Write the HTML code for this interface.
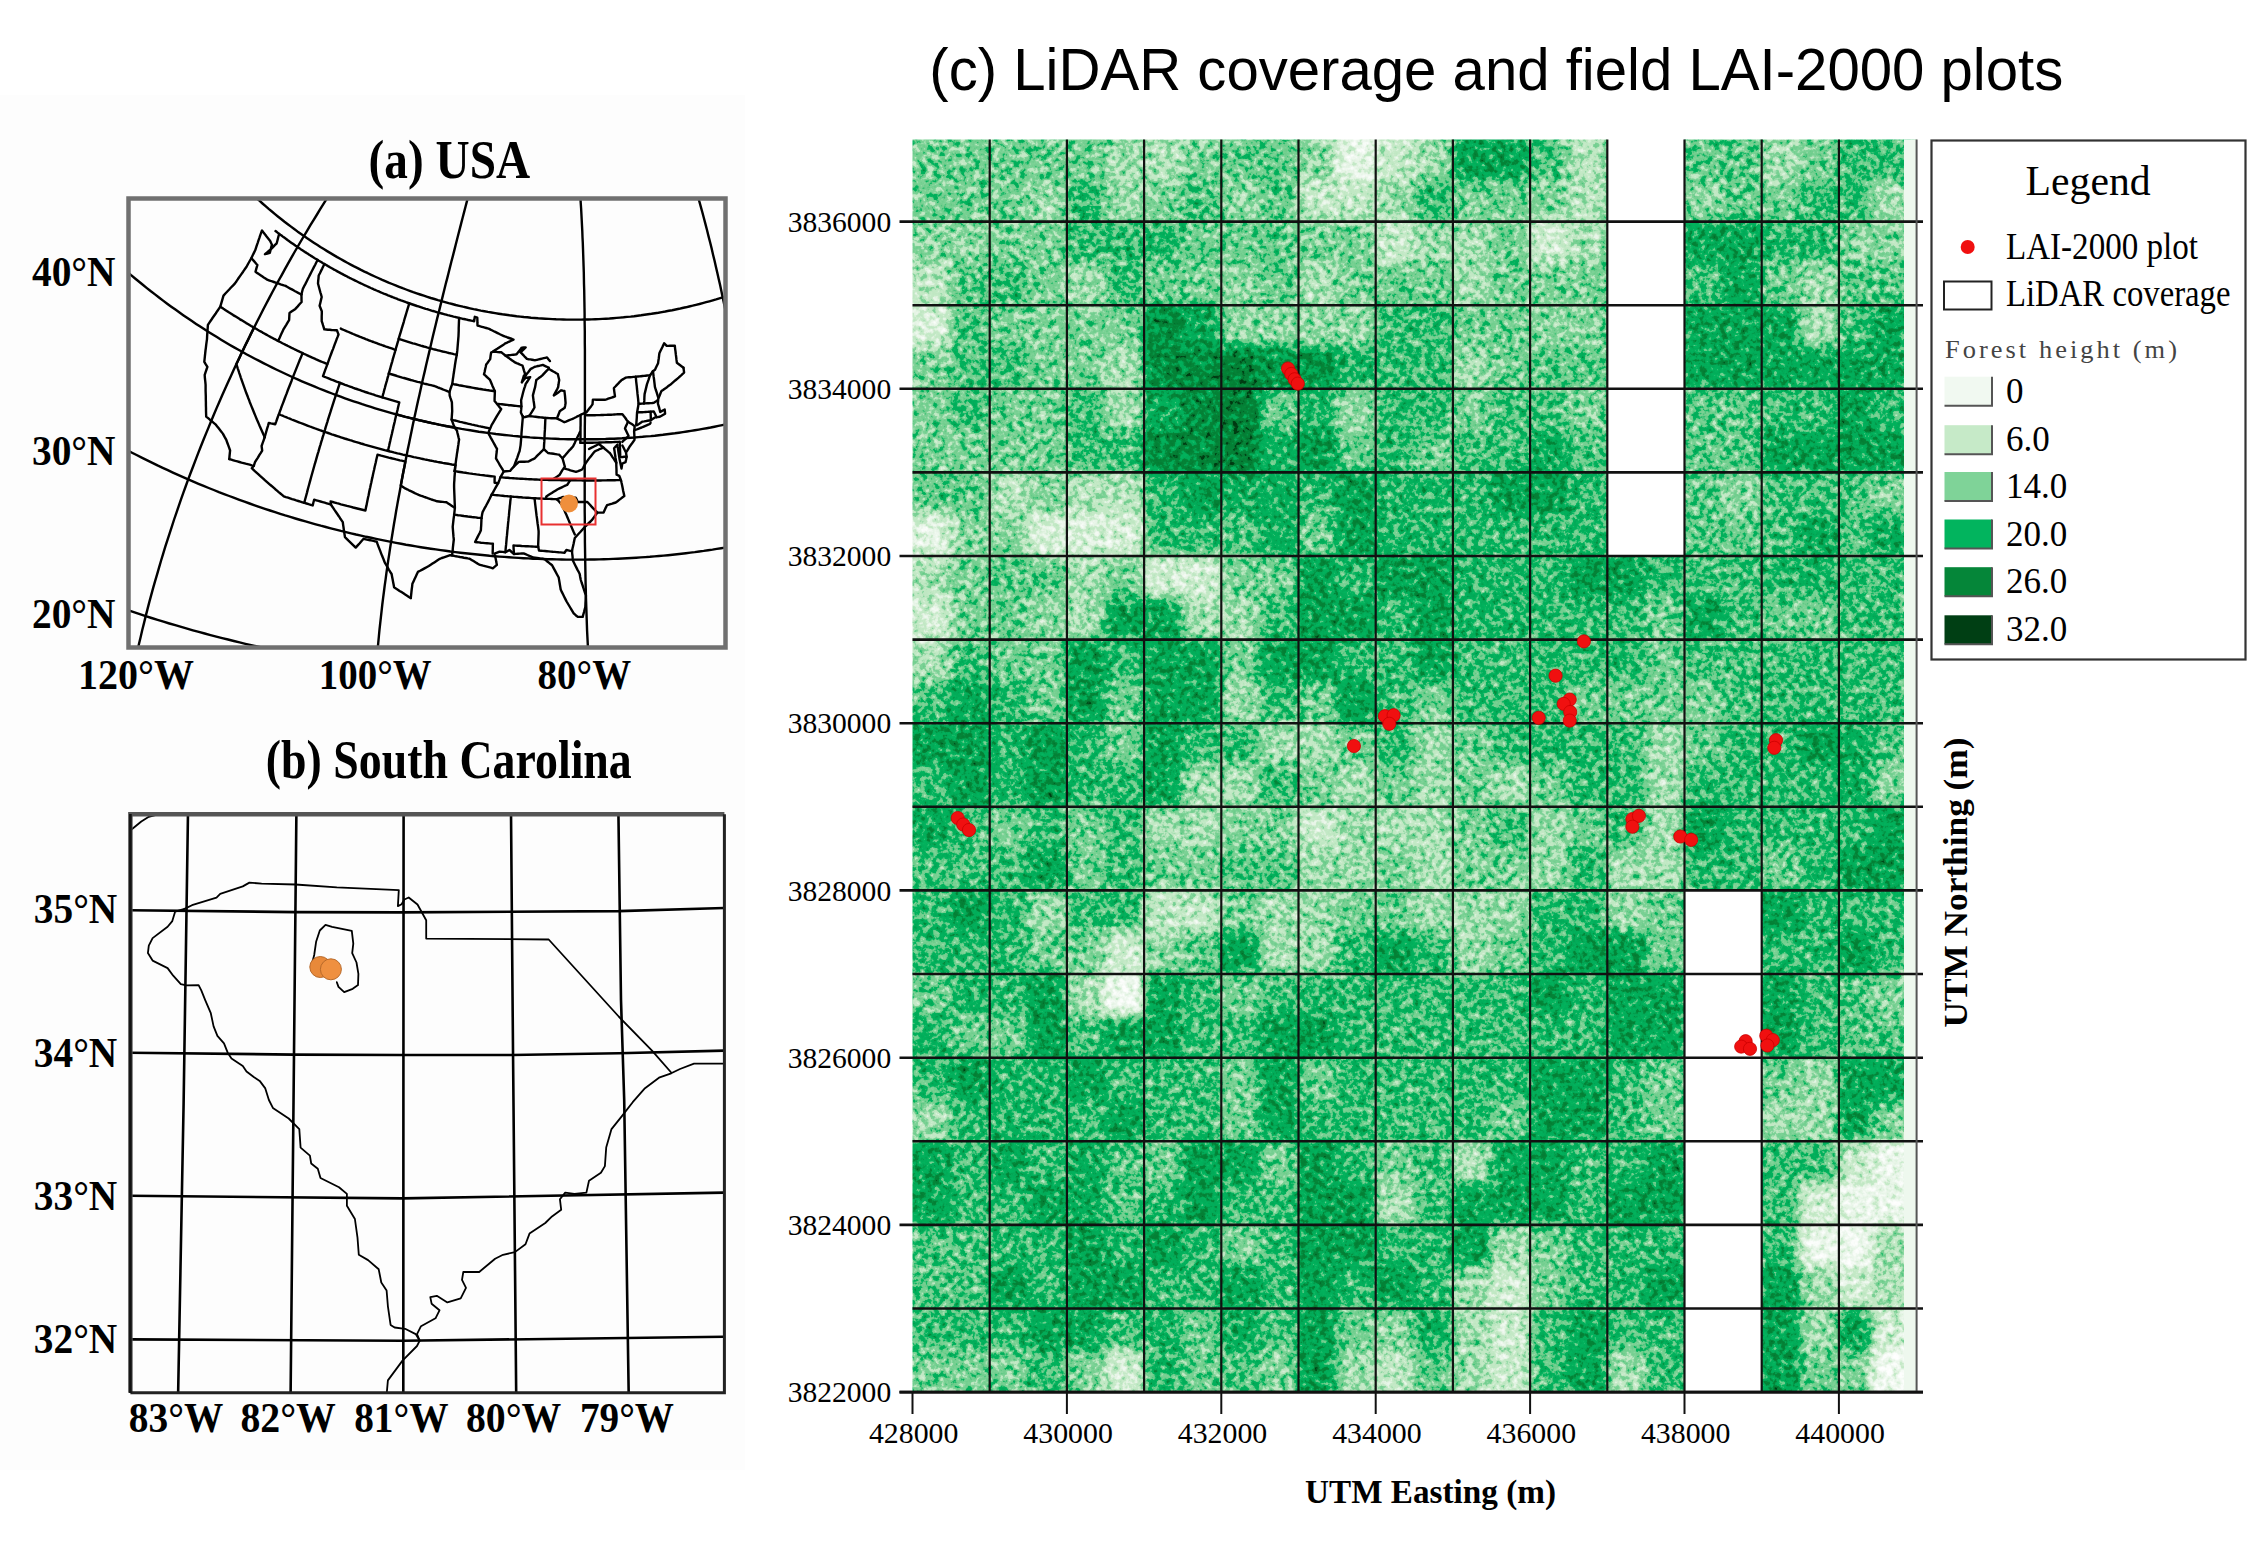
<!DOCTYPE html><html><head><meta charset="utf-8"><title>LiDAR coverage</title><style>html,body{margin:0;padding:0;background:#fff;}body{width:2268px;height:1543px;position:relative;overflow:hidden;}</style></head><body><svg width="2268" height="1543" viewBox="0 0 2268 1543" style="position:absolute;left:0;top:0">
<rect x="0" y="95" width="745" height="1375" fill="#fdfdfd"/>
<defs><filter id="bl" x="-0.05" y="-0.05" width="1.1" height="1.1" color-interpolation-filters="sRGB"><feGaussianBlur stdDeviation="6"/></filter><filter id="tx" filterUnits="userSpaceOnUse" x="882.5" y="109.4" width="1064.1" height="1312.6999999999998" color-interpolation-filters="sRGB"><feTurbulence type="fractalNoise" baseFrequency="0.15" numOctaves="3" seed="7" result="n"/><feColorMatrix in="n" type="matrix" values="1 0 0 0 0  1 0 0 0 0  1 0 0 0 0  0 0 0 0 1" result="ng"/><feComposite in="SourceGraphic" in2="ng" operator="arithmetic" k1="0" k2="1" k3="0.6" k4="-0.3" result="s"/><feComponentTransfer in="s"><feFuncR type="table" tableValues="1.0000 0.9969 0.9938 0.9907 0.9876 0.9844 0.9813 0.9739 0.9645 0.9552 0.9458 0.9365 0.9272 0.9178 0.9085 0.8992 0.8898 0.8683 0.8392 0.8102 0.7811 0.7712 0.7650 0.7588 0.7526 0.7463 0.6928 0.6275 0.5621 0.4978 0.4845 0.4713 0.4581 0.4449 0.4316 0.3216 0.2095 0.0975 0.0080 0.0086 0.0092 0.0098 0.0105 0.0111 0.0117 0.0136 0.0157 0.0178 0.0196 0.0196 0.0196 0.0196 0.0196 0.0196 0.0196 0.0154 0.0102 0.0050 0.0000 0.0000 0.0000 0.0000 0.0000 0.0000"/><feFuncG type="table" tableValues="1.0000 0.9988 0.9975 0.9963 0.9950 0.9938 0.9925 0.9893 0.9851 0.9810 0.9768 0.9730 0.9693 0.9656 0.9618 0.9581 0.9544 0.9472 0.9378 0.9285 0.9191 0.9157 0.9134 0.9110 0.9087 0.9063 0.8893 0.8685 0.8478 0.8274 0.8227 0.8180 0.8134 0.8087 0.8040 0.7785 0.7526 0.7266 0.7046 0.6984 0.6922 0.6860 0.6797 0.6735 0.6673 0.6331 0.5957 0.5584 0.5248 0.5192 0.5136 0.5080 0.5024 0.4968 0.4912 0.4375 0.3731 0.3088 0.2468 0.2406 0.2344 0.2281 0.2219 0.2157"/><feFuncB type="table" tableValues="1.0000 0.9969 0.9938 0.9907 0.9876 0.9844 0.9813 0.9739 0.9645 0.9552 0.9458 0.9365 0.9272 0.9178 0.9085 0.8992 0.8898 0.8696 0.8426 0.8156 0.7886 0.7804 0.7757 0.7711 0.7664 0.7617 0.7259 0.6824 0.6388 0.5959 0.5866 0.5772 0.5679 0.5585 0.5492 0.5023 0.4545 0.4068 0.3679 0.3641 0.3604 0.3567 0.3529 0.3492 0.3455 0.3162 0.2840 0.2518 0.2232 0.2200 0.2169 0.2138 0.2107 0.2076 0.2045 0.1767 0.1435 0.1103 0.0784 0.0768 0.0753 0.0737 0.0721 0.0706"/><feFuncA type="linear" slope="0" intercept="1"/></feComponentTransfer></filter><clipPath id="mapclip"><rect x="912.5" y="139.4" width="1004.0999999999999" height="1252.6999999999998"/></clipPath></defs>
<g clip-path="url(#mapclip)"><g filter="url(#tx)"><g filter="url(#bl)">
<rect x="887.0" y="113.9" width="64.6" height="67.1" fill="#808080"/>
<rect x="950.6" y="113.9" width="39.6" height="67.1" fill="#808080"/>
<rect x="887.0" y="180.0" width="64.6" height="42.1" fill="#808080"/>
<rect x="950.6" y="180.0" width="39.6" height="42.1" fill="#808080"/>
<rect x="989.2" y="113.9" width="39.6" height="67.1" fill="#818181"/>
<rect x="1027.8" y="113.9" width="39.6" height="67.1" fill="#818181"/>
<rect x="989.2" y="180.0" width="39.6" height="42.1" fill="#818181"/>
<rect x="1027.8" y="180.0" width="39.6" height="42.1" fill="#707070"/>
<rect x="1066.4" y="113.9" width="39.6" height="67.1" fill="#818181"/>
<rect x="1105.0" y="113.9" width="39.6" height="67.1" fill="#6f6f6f"/>
<rect x="1066.4" y="180.0" width="39.6" height="42.1" fill="#969696"/>
<rect x="1105.0" y="180.0" width="39.6" height="42.1" fill="#6f6f6f"/>
<rect x="1143.6" y="113.9" width="39.6" height="67.1" fill="#666666"/>
<rect x="1182.2" y="113.9" width="39.6" height="67.1" fill="#7b7b7b"/>
<rect x="1143.6" y="180.0" width="39.6" height="42.1" fill="#7b7b7b"/>
<rect x="1182.2" y="180.0" width="39.6" height="42.1" fill="#8d8d8d"/>
<rect x="1220.8" y="113.9" width="39.6" height="67.1" fill="#868686"/>
<rect x="1259.4" y="113.9" width="39.6" height="67.1" fill="#868686"/>
<rect x="1220.8" y="180.0" width="39.6" height="42.1" fill="#747474"/>
<rect x="1259.4" y="180.0" width="39.6" height="42.1" fill="#868686"/>
<rect x="1298.0" y="113.9" width="39.6" height="67.1" fill="#727272"/>
<rect x="1336.6" y="113.9" width="39.6" height="67.1" fill="#393939"/>
<rect x="1298.0" y="180.0" width="39.6" height="42.1" fill="#595959"/>
<rect x="1336.6" y="180.0" width="39.6" height="42.1" fill="#595959"/>
<rect x="1375.2" y="113.9" width="39.6" height="67.1" fill="#565656"/>
<rect x="1413.8" y="113.9" width="39.6" height="67.1" fill="#6f6f6f"/>
<rect x="1375.2" y="180.0" width="39.6" height="42.1" fill="#6f6f6f"/>
<rect x="1413.8" y="180.0" width="39.6" height="42.1" fill="#969696"/>
<rect x="1452.4" y="113.9" width="39.6" height="67.1" fill="#aeaeae"/>
<rect x="1491.0" y="113.9" width="39.6" height="67.1" fill="#aeaeae"/>
<rect x="1452.4" y="180.0" width="39.6" height="42.1" fill="#7f7f7f"/>
<rect x="1491.0" y="180.0" width="39.6" height="42.1" fill="#7f7f7f"/>
<rect x="1529.6" y="113.9" width="39.6" height="67.1" fill="#8b8b8b"/>
<rect x="1568.2" y="113.9" width="39.6" height="67.1" fill="#636363"/>
<rect x="1529.6" y="180.0" width="39.6" height="42.1" fill="#797979"/>
<rect x="1568.2" y="180.0" width="39.6" height="42.1" fill="#636363"/>
<rect x="1606.8" y="113.9" width="39.6" height="67.1" fill="#939393"/>
<rect x="1645.4" y="113.9" width="39.6" height="67.1" fill="#939393"/>
<rect x="1606.8" y="180.0" width="39.6" height="42.1" fill="#939393"/>
<rect x="1645.4" y="180.0" width="39.6" height="42.1" fill="#939393"/>
<rect x="1684.0" y="113.9" width="39.6" height="67.1" fill="#878787"/>
<rect x="1722.6" y="113.9" width="39.6" height="67.1" fill="#878787"/>
<rect x="1684.0" y="180.0" width="39.6" height="42.1" fill="#757575"/>
<rect x="1722.6" y="180.0" width="39.6" height="42.1" fill="#878787"/>
<rect x="1761.2" y="113.9" width="39.6" height="67.1" fill="#6c6c6c"/>
<rect x="1799.8" y="113.9" width="39.6" height="67.1" fill="#7f7f7f"/>
<rect x="1761.2" y="180.0" width="39.6" height="42.1" fill="#7f7f7f"/>
<rect x="1799.8" y="180.0" width="39.6" height="42.1" fill="#939393"/>
<rect x="1838.4" y="113.9" width="34.0" height="67.1" fill="#939393"/>
<rect x="1871.5" y="113.9" width="59.0" height="67.1" fill="#939393"/>
<rect x="1838.4" y="180.0" width="34.0" height="42.1" fill="#939393"/>
<rect x="1871.5" y="180.0" width="59.0" height="42.1" fill="#6c6c6c"/>
<rect x="887.0" y="221.1" width="64.6" height="42.8" fill="#777777"/>
<rect x="950.6" y="221.1" width="39.6" height="42.8" fill="#777777"/>
<rect x="887.0" y="262.9" width="64.6" height="42.8" fill="#5f5f5f"/>
<rect x="950.6" y="262.9" width="39.6" height="42.8" fill="#888888"/>
<rect x="989.2" y="221.1" width="39.6" height="42.8" fill="#7d7d7d"/>
<rect x="1027.8" y="221.1" width="39.6" height="42.8" fill="#7d7d7d"/>
<rect x="989.2" y="262.9" width="39.6" height="42.8" fill="#909090"/>
<rect x="1027.8" y="262.9" width="39.6" height="42.8" fill="#7d7d7d"/>
<rect x="1066.4" y="221.1" width="39.6" height="42.8" fill="#939393"/>
<rect x="1105.0" y="221.1" width="39.6" height="42.8" fill="#939393"/>
<rect x="1066.4" y="262.9" width="39.6" height="42.8" fill="#6c6c6c"/>
<rect x="1105.0" y="262.9" width="39.6" height="42.8" fill="#939393"/>
<rect x="1143.6" y="221.1" width="39.6" height="42.8" fill="#969696"/>
<rect x="1182.2" y="221.1" width="39.6" height="42.8" fill="#818181"/>
<rect x="1143.6" y="262.9" width="39.6" height="42.8" fill="#818181"/>
<rect x="1182.2" y="262.9" width="39.6" height="42.8" fill="#818181"/>
<rect x="1220.8" y="221.1" width="39.6" height="42.8" fill="#868686"/>
<rect x="1259.4" y="221.1" width="39.6" height="42.8" fill="#868686"/>
<rect x="1220.8" y="262.9" width="39.6" height="42.8" fill="#747474"/>
<rect x="1259.4" y="262.9" width="39.6" height="42.8" fill="#868686"/>
<rect x="1298.0" y="221.1" width="39.6" height="42.8" fill="#7d7d7d"/>
<rect x="1336.6" y="221.1" width="39.6" height="42.8" fill="#7d7d7d"/>
<rect x="1298.0" y="262.9" width="39.6" height="42.8" fill="#696969"/>
<rect x="1336.6" y="262.9" width="39.6" height="42.8" fill="#7d7d7d"/>
<rect x="1375.2" y="221.1" width="39.6" height="42.8" fill="#565656"/>
<rect x="1413.8" y="221.1" width="39.6" height="42.8" fill="#6f6f6f"/>
<rect x="1375.2" y="262.9" width="39.6" height="42.8" fill="#818181"/>
<rect x="1413.8" y="262.9" width="39.6" height="42.8" fill="#818181"/>
<rect x="1452.4" y="221.1" width="39.6" height="42.8" fill="#6c6c6c"/>
<rect x="1491.0" y="221.1" width="39.6" height="42.8" fill="#7f7f7f"/>
<rect x="1452.4" y="262.9" width="39.6" height="42.8" fill="#6c6c6c"/>
<rect x="1491.0" y="262.9" width="39.6" height="42.8" fill="#7f7f7f"/>
<rect x="1529.6" y="221.1" width="39.6" height="42.8" fill="#4e4e4e"/>
<rect x="1568.2" y="221.1" width="39.6" height="42.8" fill="#696969"/>
<rect x="1529.6" y="262.9" width="39.6" height="42.8" fill="#7d7d7d"/>
<rect x="1568.2" y="262.9" width="39.6" height="42.8" fill="#7d7d7d"/>
<rect x="1606.8" y="221.1" width="39.6" height="42.8" fill="#939393"/>
<rect x="1645.4" y="221.1" width="39.6" height="42.8" fill="#939393"/>
<rect x="1606.8" y="262.9" width="39.6" height="42.8" fill="#939393"/>
<rect x="1645.4" y="262.9" width="39.6" height="42.8" fill="#939393"/>
<rect x="1684.0" y="221.1" width="39.6" height="42.8" fill="#ababab"/>
<rect x="1722.6" y="221.1" width="39.6" height="42.8" fill="#ababab"/>
<rect x="1684.0" y="262.9" width="39.6" height="42.8" fill="#909090"/>
<rect x="1722.6" y="262.9" width="39.6" height="42.8" fill="#ababab"/>
<rect x="1761.2" y="221.1" width="39.6" height="42.8" fill="#969696"/>
<rect x="1799.8" y="221.1" width="39.6" height="42.8" fill="#969696"/>
<rect x="1761.2" y="262.9" width="39.6" height="42.8" fill="#818181"/>
<rect x="1799.8" y="262.9" width="39.6" height="42.8" fill="#6f6f6f"/>
<rect x="1838.4" y="221.1" width="34.0" height="42.8" fill="#777777"/>
<rect x="1871.5" y="221.1" width="59.0" height="42.8" fill="#777777"/>
<rect x="1838.4" y="262.9" width="34.0" height="42.8" fill="#888888"/>
<rect x="1871.5" y="262.9" width="59.0" height="42.8" fill="#888888"/>
<rect x="887.0" y="304.7" width="64.6" height="42.8" fill="#4a4a4a"/>
<rect x="950.6" y="304.7" width="39.6" height="42.8" fill="#8d8d8d"/>
<rect x="887.0" y="346.5" width="64.6" height="42.8" fill="#7b7b7b"/>
<rect x="950.6" y="346.5" width="39.6" height="42.8" fill="#8d8d8d"/>
<rect x="989.2" y="304.7" width="39.6" height="42.8" fill="#7d7d7d"/>
<rect x="1027.8" y="304.7" width="39.6" height="42.8" fill="#7d7d7d"/>
<rect x="989.2" y="346.5" width="39.6" height="42.8" fill="#909090"/>
<rect x="1027.8" y="346.5" width="39.6" height="42.8" fill="#7d7d7d"/>
<rect x="1066.4" y="304.7" width="39.6" height="42.8" fill="#7d7d7d"/>
<rect x="1105.0" y="304.7" width="39.6" height="42.8" fill="#7d7d7d"/>
<rect x="1066.4" y="346.5" width="39.6" height="42.8" fill="#7d7d7d"/>
<rect x="1105.0" y="346.5" width="39.6" height="42.8" fill="#696969"/>
<rect x="1143.6" y="304.7" width="39.6" height="42.8" fill="#c3c3c3"/>
<rect x="1182.2" y="304.7" width="39.6" height="42.8" fill="#ababab"/>
<rect x="1143.6" y="346.5" width="39.6" height="42.8" fill="#c3c3c3"/>
<rect x="1182.2" y="346.5" width="39.6" height="42.8" fill="#c3c3c3"/>
<rect x="1220.8" y="304.7" width="39.6" height="42.8" fill="#747474"/>
<rect x="1259.4" y="304.7" width="39.6" height="42.8" fill="#747474"/>
<rect x="1220.8" y="346.5" width="39.6" height="42.8" fill="#cecece"/>
<rect x="1259.4" y="346.5" width="39.6" height="42.8" fill="#b9b9b9"/>
<rect x="1298.0" y="304.7" width="39.6" height="42.8" fill="#747474"/>
<rect x="1336.6" y="304.7" width="39.6" height="42.8" fill="#747474"/>
<rect x="1298.0" y="346.5" width="39.6" height="42.8" fill="#b9b9b9"/>
<rect x="1336.6" y="346.5" width="39.6" height="42.8" fill="#9d9d9d"/>
<rect x="1375.2" y="304.7" width="39.6" height="42.8" fill="#939393"/>
<rect x="1413.8" y="304.7" width="39.6" height="42.8" fill="#939393"/>
<rect x="1375.2" y="346.5" width="39.6" height="42.8" fill="#939393"/>
<rect x="1413.8" y="346.5" width="39.6" height="42.8" fill="#939393"/>
<rect x="1452.4" y="304.7" width="39.6" height="42.8" fill="#818181"/>
<rect x="1491.0" y="304.7" width="39.6" height="42.8" fill="#818181"/>
<rect x="1452.4" y="346.5" width="39.6" height="42.8" fill="#6f6f6f"/>
<rect x="1491.0" y="346.5" width="39.6" height="42.8" fill="#818181"/>
<rect x="1529.6" y="304.7" width="39.6" height="42.8" fill="#777777"/>
<rect x="1568.2" y="304.7" width="39.6" height="42.8" fill="#777777"/>
<rect x="1529.6" y="346.5" width="39.6" height="42.8" fill="#888888"/>
<rect x="1568.2" y="346.5" width="39.6" height="42.8" fill="#888888"/>
<rect x="1606.8" y="304.7" width="39.6" height="42.8" fill="#939393"/>
<rect x="1645.4" y="304.7" width="39.6" height="42.8" fill="#939393"/>
<rect x="1606.8" y="346.5" width="39.6" height="42.8" fill="#939393"/>
<rect x="1645.4" y="346.5" width="39.6" height="42.8" fill="#939393"/>
<rect x="1684.0" y="304.7" width="39.6" height="42.8" fill="#aeaeae"/>
<rect x="1722.6" y="304.7" width="39.6" height="42.8" fill="#aeaeae"/>
<rect x="1684.0" y="346.5" width="39.6" height="42.8" fill="#aeaeae"/>
<rect x="1722.6" y="346.5" width="39.6" height="42.8" fill="#aeaeae"/>
<rect x="1761.2" y="304.7" width="39.6" height="42.8" fill="#ababab"/>
<rect x="1799.8" y="304.7" width="39.6" height="42.8" fill="#696969"/>
<rect x="1761.2" y="346.5" width="39.6" height="42.8" fill="#ababab"/>
<rect x="1799.8" y="346.5" width="39.6" height="42.8" fill="#ababab"/>
<rect x="1838.4" y="304.7" width="34.0" height="42.8" fill="#909090"/>
<rect x="1871.5" y="304.7" width="59.0" height="42.8" fill="#ababab"/>
<rect x="1838.4" y="346.5" width="34.0" height="42.8" fill="#ababab"/>
<rect x="1871.5" y="346.5" width="59.0" height="42.8" fill="#ababab"/>
<rect x="887.0" y="388.3" width="64.6" height="42.8" fill="#7d7d7d"/>
<rect x="950.6" y="388.3" width="39.6" height="42.8" fill="#909090"/>
<rect x="887.0" y="430.1" width="64.6" height="42.8" fill="#7d7d7d"/>
<rect x="950.6" y="430.1" width="39.6" height="42.8" fill="#7d7d7d"/>
<rect x="989.2" y="388.3" width="39.6" height="42.8" fill="#7f7f7f"/>
<rect x="1027.8" y="388.3" width="39.6" height="42.8" fill="#7f7f7f"/>
<rect x="989.2" y="430.1" width="39.6" height="42.8" fill="#7f7f7f"/>
<rect x="1027.8" y="430.1" width="39.6" height="42.8" fill="#7f7f7f"/>
<rect x="1066.4" y="388.3" width="39.6" height="42.8" fill="#939393"/>
<rect x="1105.0" y="388.3" width="39.6" height="42.8" fill="#6c6c6c"/>
<rect x="1066.4" y="430.1" width="39.6" height="42.8" fill="#939393"/>
<rect x="1105.0" y="430.1" width="39.6" height="42.8" fill="#939393"/>
<rect x="1143.6" y="388.3" width="39.6" height="42.8" fill="#ababab"/>
<rect x="1182.2" y="388.3" width="39.6" height="42.8" fill="#c3c3c3"/>
<rect x="1143.6" y="430.1" width="39.6" height="42.8" fill="#c3c3c3"/>
<rect x="1182.2" y="430.1" width="39.6" height="42.8" fill="#c3c3c3"/>
<rect x="1220.8" y="388.3" width="39.6" height="42.8" fill="#cecece"/>
<rect x="1259.4" y="388.3" width="39.6" height="42.8" fill="#868686"/>
<rect x="1220.8" y="430.1" width="39.6" height="42.8" fill="#cecece"/>
<rect x="1259.4" y="430.1" width="39.6" height="42.8" fill="#9d9d9d"/>
<rect x="1298.0" y="388.3" width="39.6" height="42.8" fill="#9a9a9a"/>
<rect x="1336.6" y="388.3" width="39.6" height="42.8" fill="#727272"/>
<rect x="1298.0" y="430.1" width="39.6" height="42.8" fill="#b5b5b5"/>
<rect x="1336.6" y="430.1" width="39.6" height="42.8" fill="#838383"/>
<rect x="1375.2" y="388.3" width="39.6" height="42.8" fill="#969696"/>
<rect x="1413.8" y="388.3" width="39.6" height="42.8" fill="#969696"/>
<rect x="1375.2" y="430.1" width="39.6" height="42.8" fill="#969696"/>
<rect x="1413.8" y="430.1" width="39.6" height="42.8" fill="#818181"/>
<rect x="1452.4" y="388.3" width="39.6" height="42.8" fill="#7d7d7d"/>
<rect x="1491.0" y="388.3" width="39.6" height="42.8" fill="#909090"/>
<rect x="1452.4" y="430.1" width="39.6" height="42.8" fill="#909090"/>
<rect x="1491.0" y="430.1" width="39.6" height="42.8" fill="#909090"/>
<rect x="1529.6" y="388.3" width="39.6" height="42.8" fill="#8c8c8c"/>
<rect x="1568.2" y="388.3" width="39.6" height="42.8" fill="#7a7a7a"/>
<rect x="1529.6" y="430.1" width="39.6" height="42.8" fill="#a6a6a6"/>
<rect x="1568.2" y="430.1" width="39.6" height="42.8" fill="#8c8c8c"/>
<rect x="1606.8" y="388.3" width="39.6" height="42.8" fill="#939393"/>
<rect x="1645.4" y="388.3" width="39.6" height="42.8" fill="#939393"/>
<rect x="1606.8" y="430.1" width="39.6" height="42.8" fill="#939393"/>
<rect x="1645.4" y="430.1" width="39.6" height="42.8" fill="#939393"/>
<rect x="1684.0" y="388.3" width="39.6" height="42.8" fill="#888888"/>
<rect x="1722.6" y="388.3" width="39.6" height="42.8" fill="#888888"/>
<rect x="1684.0" y="430.1" width="39.6" height="42.8" fill="#888888"/>
<rect x="1722.6" y="430.1" width="39.6" height="42.8" fill="#888888"/>
<rect x="1761.2" y="388.3" width="39.6" height="42.8" fill="#939393"/>
<rect x="1799.8" y="388.3" width="39.6" height="42.8" fill="#939393"/>
<rect x="1761.2" y="430.1" width="39.6" height="42.8" fill="#aeaeae"/>
<rect x="1799.8" y="430.1" width="39.6" height="42.8" fill="#aeaeae"/>
<rect x="1838.4" y="388.3" width="34.0" height="42.8" fill="#b2b2b2"/>
<rect x="1871.5" y="388.3" width="59.0" height="42.8" fill="#969696"/>
<rect x="1838.4" y="430.1" width="34.0" height="42.8" fill="#b2b2b2"/>
<rect x="1871.5" y="430.1" width="59.0" height="42.8" fill="#b2b2b2"/>
<rect x="887.0" y="471.9" width="64.6" height="42.8" fill="#878787"/>
<rect x="950.6" y="471.9" width="39.6" height="42.8" fill="#878787"/>
<rect x="887.0" y="513.7" width="64.6" height="42.8" fill="#404040"/>
<rect x="950.6" y="513.7" width="39.6" height="42.8" fill="#767676"/>
<rect x="989.2" y="471.9" width="39.6" height="42.8" fill="#636363"/>
<rect x="1027.8" y="471.9" width="39.6" height="42.8" fill="#797979"/>
<rect x="989.2" y="513.7" width="39.6" height="42.8" fill="#797979"/>
<rect x="1027.8" y="513.7" width="39.6" height="42.8" fill="#464646"/>
<rect x="1066.4" y="471.9" width="39.6" height="42.8" fill="#646464"/>
<rect x="1105.0" y="471.9" width="39.6" height="42.8" fill="#646464"/>
<rect x="1066.4" y="513.7" width="39.6" height="42.8" fill="#484848"/>
<rect x="1105.0" y="513.7" width="39.6" height="42.8" fill="#484848"/>
<rect x="1143.6" y="471.9" width="39.6" height="42.8" fill="#969696"/>
<rect x="1182.2" y="471.9" width="39.6" height="42.8" fill="#b2b2b2"/>
<rect x="1143.6" y="513.7" width="39.6" height="42.8" fill="#969696"/>
<rect x="1182.2" y="513.7" width="39.6" height="42.8" fill="#969696"/>
<rect x="1220.8" y="471.9" width="39.6" height="42.8" fill="#a4a4a4"/>
<rect x="1259.4" y="471.9" width="39.6" height="42.8" fill="#a4a4a4"/>
<rect x="1220.8" y="513.7" width="39.6" height="42.8" fill="#8b8b8b"/>
<rect x="1259.4" y="513.7" width="39.6" height="42.8" fill="#a4a4a4"/>
<rect x="1298.0" y="471.9" width="39.6" height="42.8" fill="#969696"/>
<rect x="1336.6" y="471.9" width="39.6" height="42.8" fill="#b2b2b2"/>
<rect x="1298.0" y="513.7" width="39.6" height="42.8" fill="#818181"/>
<rect x="1336.6" y="513.7" width="39.6" height="42.8" fill="#b2b2b2"/>
<rect x="1375.2" y="471.9" width="39.6" height="42.8" fill="#9a9a9a"/>
<rect x="1413.8" y="471.9" width="39.6" height="42.8" fill="#9a9a9a"/>
<rect x="1375.2" y="513.7" width="39.6" height="42.8" fill="#9a9a9a"/>
<rect x="1413.8" y="513.7" width="39.6" height="42.8" fill="#9a9a9a"/>
<rect x="1452.4" y="471.9" width="39.6" height="42.8" fill="#969696"/>
<rect x="1491.0" y="471.9" width="39.6" height="42.8" fill="#b2b2b2"/>
<rect x="1452.4" y="513.7" width="39.6" height="42.8" fill="#969696"/>
<rect x="1491.0" y="513.7" width="39.6" height="42.8" fill="#969696"/>
<rect x="1529.6" y="471.9" width="39.6" height="42.8" fill="#b2b2b2"/>
<rect x="1568.2" y="471.9" width="39.6" height="42.8" fill="#969696"/>
<rect x="1529.6" y="513.7" width="39.6" height="42.8" fill="#969696"/>
<rect x="1568.2" y="513.7" width="39.6" height="42.8" fill="#969696"/>
<rect x="1606.8" y="471.9" width="39.6" height="42.8" fill="#939393"/>
<rect x="1645.4" y="471.9" width="39.6" height="42.8" fill="#939393"/>
<rect x="1606.8" y="513.7" width="39.6" height="42.8" fill="#939393"/>
<rect x="1645.4" y="513.7" width="39.6" height="42.8" fill="#939393"/>
<rect x="1684.0" y="471.9" width="39.6" height="42.8" fill="#878787"/>
<rect x="1722.6" y="471.9" width="39.6" height="42.8" fill="#757575"/>
<rect x="1684.0" y="513.7" width="39.6" height="42.8" fill="#878787"/>
<rect x="1722.6" y="513.7" width="39.6" height="42.8" fill="#878787"/>
<rect x="1761.2" y="471.9" width="39.6" height="42.8" fill="#8f8f8f"/>
<rect x="1799.8" y="471.9" width="39.6" height="42.8" fill="#8f8f8f"/>
<rect x="1761.2" y="513.7" width="39.6" height="42.8" fill="#8f8f8f"/>
<rect x="1799.8" y="513.7" width="39.6" height="42.8" fill="#aaaaaa"/>
<rect x="1838.4" y="471.9" width="34.0" height="42.8" fill="#8c8c8c"/>
<rect x="1871.5" y="471.9" width="59.0" height="42.8" fill="#7a7a7a"/>
<rect x="1838.4" y="513.7" width="34.0" height="42.8" fill="#8c8c8c"/>
<rect x="1871.5" y="513.7" width="59.0" height="42.8" fill="#a6a6a6"/>
<rect x="887.0" y="555.5" width="64.6" height="42.8" fill="#696969"/>
<rect x="950.6" y="555.5" width="39.6" height="42.8" fill="#7d7d7d"/>
<rect x="887.0" y="597.3" width="64.6" height="42.8" fill="#4e4e4e"/>
<rect x="950.6" y="597.3" width="39.6" height="42.8" fill="#7d7d7d"/>
<rect x="989.2" y="555.5" width="39.6" height="42.8" fill="#858585"/>
<rect x="1027.8" y="555.5" width="39.6" height="42.8" fill="#858585"/>
<rect x="989.2" y="597.3" width="39.6" height="42.8" fill="#858585"/>
<rect x="1027.8" y="597.3" width="39.6" height="42.8" fill="#737373"/>
<rect x="1066.4" y="555.5" width="39.6" height="42.8" fill="#6c6c6c"/>
<rect x="1105.0" y="555.5" width="39.6" height="42.8" fill="#7f7f7f"/>
<rect x="1066.4" y="597.3" width="39.6" height="42.8" fill="#6c6c6c"/>
<rect x="1105.0" y="597.3" width="39.6" height="42.8" fill="#aeaeae"/>
<rect x="1143.6" y="555.5" width="39.6" height="42.8" fill="#4e4e4e"/>
<rect x="1182.2" y="555.5" width="39.6" height="42.8" fill="#4e4e4e"/>
<rect x="1143.6" y="597.3" width="39.6" height="42.8" fill="#ababab"/>
<rect x="1182.2" y="597.3" width="39.6" height="42.8" fill="#696969"/>
<rect x="1220.8" y="555.5" width="39.6" height="42.8" fill="#7f7f7f"/>
<rect x="1259.4" y="555.5" width="39.6" height="42.8" fill="#7f7f7f"/>
<rect x="1220.8" y="597.3" width="39.6" height="42.8" fill="#6c6c6c"/>
<rect x="1259.4" y="597.3" width="39.6" height="42.8" fill="#939393"/>
<rect x="1298.0" y="555.5" width="39.6" height="42.8" fill="#b2b2b2"/>
<rect x="1336.6" y="555.5" width="39.6" height="42.8" fill="#969696"/>
<rect x="1298.0" y="597.3" width="39.6" height="42.8" fill="#b2b2b2"/>
<rect x="1336.6" y="597.3" width="39.6" height="42.8" fill="#b2b2b2"/>
<rect x="1375.2" y="555.5" width="39.6" height="42.8" fill="#b2b2b2"/>
<rect x="1413.8" y="555.5" width="39.6" height="42.8" fill="#b2b2b2"/>
<rect x="1375.2" y="597.3" width="39.6" height="42.8" fill="#969696"/>
<rect x="1413.8" y="597.3" width="39.6" height="42.8" fill="#b2b2b2"/>
<rect x="1452.4" y="555.5" width="39.6" height="42.8" fill="#9a9a9a"/>
<rect x="1491.0" y="555.5" width="39.6" height="42.8" fill="#9a9a9a"/>
<rect x="1452.4" y="597.3" width="39.6" height="42.8" fill="#9a9a9a"/>
<rect x="1491.0" y="597.3" width="39.6" height="42.8" fill="#9a9a9a"/>
<rect x="1529.6" y="555.5" width="39.6" height="42.8" fill="#969696"/>
<rect x="1568.2" y="555.5" width="39.6" height="42.8" fill="#b2b2b2"/>
<rect x="1529.6" y="597.3" width="39.6" height="42.8" fill="#969696"/>
<rect x="1568.2" y="597.3" width="39.6" height="42.8" fill="#969696"/>
<rect x="1606.8" y="555.5" width="39.6" height="42.8" fill="#aeaeae"/>
<rect x="1645.4" y="555.5" width="39.6" height="42.8" fill="#939393"/>
<rect x="1606.8" y="597.3" width="39.6" height="42.8" fill="#939393"/>
<rect x="1645.4" y="597.3" width="39.6" height="42.8" fill="#7f7f7f"/>
<rect x="1684.0" y="555.5" width="39.6" height="42.8" fill="#909090"/>
<rect x="1722.6" y="555.5" width="39.6" height="42.8" fill="#909090"/>
<rect x="1684.0" y="597.3" width="39.6" height="42.8" fill="#ababab"/>
<rect x="1722.6" y="597.3" width="39.6" height="42.8" fill="#909090"/>
<rect x="1761.2" y="555.5" width="39.6" height="42.8" fill="#9a9a9a"/>
<rect x="1799.8" y="555.5" width="39.6" height="42.8" fill="#9a9a9a"/>
<rect x="1761.2" y="597.3" width="39.6" height="42.8" fill="#838383"/>
<rect x="1799.8" y="597.3" width="39.6" height="42.8" fill="#838383"/>
<rect x="1838.4" y="555.5" width="34.0" height="42.8" fill="#939393"/>
<rect x="1871.5" y="555.5" width="59.0" height="42.8" fill="#939393"/>
<rect x="1838.4" y="597.3" width="34.0" height="42.8" fill="#939393"/>
<rect x="1871.5" y="597.3" width="59.0" height="42.8" fill="#939393"/>
<rect x="887.0" y="639.1" width="64.6" height="42.8" fill="#696969"/>
<rect x="950.6" y="639.1" width="39.6" height="42.8" fill="#909090"/>
<rect x="887.0" y="680.9" width="64.6" height="42.8" fill="#909090"/>
<rect x="950.6" y="680.9" width="39.6" height="42.8" fill="#ababab"/>
<rect x="989.2" y="639.1" width="39.6" height="42.8" fill="#818181"/>
<rect x="1027.8" y="639.1" width="39.6" height="42.8" fill="#818181"/>
<rect x="989.2" y="680.9" width="39.6" height="42.8" fill="#969696"/>
<rect x="1027.8" y="680.9" width="39.6" height="42.8" fill="#818181"/>
<rect x="1066.4" y="639.1" width="39.6" height="42.8" fill="#b2b2b2"/>
<rect x="1105.0" y="639.1" width="39.6" height="42.8" fill="#969696"/>
<rect x="1066.4" y="680.9" width="39.6" height="42.8" fill="#b2b2b2"/>
<rect x="1105.0" y="680.9" width="39.6" height="42.8" fill="#818181"/>
<rect x="1143.6" y="639.1" width="39.6" height="42.8" fill="#aeaeae"/>
<rect x="1182.2" y="639.1" width="39.6" height="42.8" fill="#aeaeae"/>
<rect x="1143.6" y="680.9" width="39.6" height="42.8" fill="#aeaeae"/>
<rect x="1182.2" y="680.9" width="39.6" height="42.8" fill="#aeaeae"/>
<rect x="1220.8" y="639.1" width="39.6" height="42.8" fill="#7f7f7f"/>
<rect x="1259.4" y="639.1" width="39.6" height="42.8" fill="#aeaeae"/>
<rect x="1220.8" y="680.9" width="39.6" height="42.8" fill="#6c6c6c"/>
<rect x="1259.4" y="680.9" width="39.6" height="42.8" fill="#939393"/>
<rect x="1298.0" y="639.1" width="39.6" height="42.8" fill="#b2b2b2"/>
<rect x="1336.6" y="639.1" width="39.6" height="42.8" fill="#969696"/>
<rect x="1298.0" y="680.9" width="39.6" height="42.8" fill="#818181"/>
<rect x="1336.6" y="680.9" width="39.6" height="42.8" fill="#b2b2b2"/>
<rect x="1375.2" y="639.1" width="39.6" height="42.8" fill="#939393"/>
<rect x="1413.8" y="639.1" width="39.6" height="42.8" fill="#aeaeae"/>
<rect x="1375.2" y="680.9" width="39.6" height="42.8" fill="#939393"/>
<rect x="1413.8" y="680.9" width="39.6" height="42.8" fill="#7f7f7f"/>
<rect x="1452.4" y="639.1" width="39.6" height="42.8" fill="#939393"/>
<rect x="1491.0" y="639.1" width="39.6" height="42.8" fill="#939393"/>
<rect x="1452.4" y="680.9" width="39.6" height="42.8" fill="#939393"/>
<rect x="1491.0" y="680.9" width="39.6" height="42.8" fill="#939393"/>
<rect x="1529.6" y="639.1" width="39.6" height="42.8" fill="#969696"/>
<rect x="1568.2" y="639.1" width="39.6" height="42.8" fill="#969696"/>
<rect x="1529.6" y="680.9" width="39.6" height="42.8" fill="#969696"/>
<rect x="1568.2" y="680.9" width="39.6" height="42.8" fill="#818181"/>
<rect x="1606.8" y="639.1" width="39.6" height="42.8" fill="#969696"/>
<rect x="1645.4" y="639.1" width="39.6" height="42.8" fill="#818181"/>
<rect x="1606.8" y="680.9" width="39.6" height="42.8" fill="#818181"/>
<rect x="1645.4" y="680.9" width="39.6" height="42.8" fill="#818181"/>
<rect x="1684.0" y="639.1" width="39.6" height="42.8" fill="#8f8f8f"/>
<rect x="1722.6" y="639.1" width="39.6" height="42.8" fill="#8f8f8f"/>
<rect x="1684.0" y="680.9" width="39.6" height="42.8" fill="#7c7c7c"/>
<rect x="1722.6" y="680.9" width="39.6" height="42.8" fill="#8f8f8f"/>
<rect x="1761.2" y="639.1" width="39.6" height="42.8" fill="#939393"/>
<rect x="1799.8" y="639.1" width="39.6" height="42.8" fill="#939393"/>
<rect x="1761.2" y="680.9" width="39.6" height="42.8" fill="#939393"/>
<rect x="1799.8" y="680.9" width="39.6" height="42.8" fill="#939393"/>
<rect x="1838.4" y="639.1" width="34.0" height="42.8" fill="#939393"/>
<rect x="1871.5" y="639.1" width="59.0" height="42.8" fill="#939393"/>
<rect x="1838.4" y="680.9" width="34.0" height="42.8" fill="#939393"/>
<rect x="1871.5" y="680.9" width="59.0" height="42.8" fill="#939393"/>
<rect x="887.0" y="722.7" width="64.6" height="42.8" fill="#b2b2b2"/>
<rect x="950.6" y="722.7" width="39.6" height="42.8" fill="#b2b2b2"/>
<rect x="887.0" y="764.5" width="64.6" height="42.8" fill="#969696"/>
<rect x="950.6" y="764.5" width="39.6" height="42.8" fill="#b2b2b2"/>
<rect x="989.2" y="722.7" width="39.6" height="42.8" fill="#9a9a9a"/>
<rect x="1027.8" y="722.7" width="39.6" height="42.8" fill="#b5b5b5"/>
<rect x="989.2" y="764.5" width="39.6" height="42.8" fill="#9a9a9a"/>
<rect x="1027.8" y="764.5" width="39.6" height="42.8" fill="#b5b5b5"/>
<rect x="1066.4" y="722.7" width="39.6" height="42.8" fill="#969696"/>
<rect x="1105.0" y="722.7" width="39.6" height="42.8" fill="#818181"/>
<rect x="1066.4" y="764.5" width="39.6" height="42.8" fill="#969696"/>
<rect x="1105.0" y="764.5" width="39.6" height="42.8" fill="#969696"/>
<rect x="1143.6" y="722.7" width="39.6" height="42.8" fill="#aeaeae"/>
<rect x="1182.2" y="722.7" width="39.6" height="42.8" fill="#939393"/>
<rect x="1143.6" y="764.5" width="39.6" height="42.8" fill="#aeaeae"/>
<rect x="1182.2" y="764.5" width="39.6" height="42.8" fill="#6c6c6c"/>
<rect x="1220.8" y="722.7" width="39.6" height="42.8" fill="#939393"/>
<rect x="1259.4" y="722.7" width="39.6" height="42.8" fill="#6c6c6c"/>
<rect x="1220.8" y="764.5" width="39.6" height="42.8" fill="#6c6c6c"/>
<rect x="1259.4" y="764.5" width="39.6" height="42.8" fill="#939393"/>
<rect x="1298.0" y="722.7" width="39.6" height="42.8" fill="#6c6c6c"/>
<rect x="1336.6" y="722.7" width="39.6" height="42.8" fill="#7f7f7f"/>
<rect x="1298.0" y="764.5" width="39.6" height="42.8" fill="#7f7f7f"/>
<rect x="1336.6" y="764.5" width="39.6" height="42.8" fill="#6c6c6c"/>
<rect x="1375.2" y="722.7" width="39.6" height="42.8" fill="#969696"/>
<rect x="1413.8" y="722.7" width="39.6" height="42.8" fill="#6f6f6f"/>
<rect x="1375.2" y="764.5" width="39.6" height="42.8" fill="#818181"/>
<rect x="1413.8" y="764.5" width="39.6" height="42.8" fill="#6f6f6f"/>
<rect x="1452.4" y="722.7" width="39.6" height="42.8" fill="#7f7f7f"/>
<rect x="1491.0" y="722.7" width="39.6" height="42.8" fill="#939393"/>
<rect x="1452.4" y="764.5" width="39.6" height="42.8" fill="#7f7f7f"/>
<rect x="1491.0" y="764.5" width="39.6" height="42.8" fill="#6c6c6c"/>
<rect x="1529.6" y="722.7" width="39.6" height="42.8" fill="#969696"/>
<rect x="1568.2" y="722.7" width="39.6" height="42.8" fill="#969696"/>
<rect x="1529.6" y="764.5" width="39.6" height="42.8" fill="#818181"/>
<rect x="1568.2" y="764.5" width="39.6" height="42.8" fill="#969696"/>
<rect x="1606.8" y="722.7" width="39.6" height="42.8" fill="#939393"/>
<rect x="1645.4" y="722.7" width="39.6" height="42.8" fill="#6c6c6c"/>
<rect x="1606.8" y="764.5" width="39.6" height="42.8" fill="#939393"/>
<rect x="1645.4" y="764.5" width="39.6" height="42.8" fill="#6c6c6c"/>
<rect x="1684.0" y="722.7" width="39.6" height="42.8" fill="#818181"/>
<rect x="1722.6" y="722.7" width="39.6" height="42.8" fill="#969696"/>
<rect x="1684.0" y="764.5" width="39.6" height="42.8" fill="#969696"/>
<rect x="1722.6" y="764.5" width="39.6" height="42.8" fill="#969696"/>
<rect x="1761.2" y="722.7" width="39.6" height="42.8" fill="#969696"/>
<rect x="1799.8" y="722.7" width="39.6" height="42.8" fill="#b2b2b2"/>
<rect x="1761.2" y="764.5" width="39.6" height="42.8" fill="#969696"/>
<rect x="1799.8" y="764.5" width="39.6" height="42.8" fill="#969696"/>
<rect x="1838.4" y="722.7" width="34.0" height="42.8" fill="#a4a4a4"/>
<rect x="1871.5" y="722.7" width="59.0" height="42.8" fill="#8b8b8b"/>
<rect x="1838.4" y="764.5" width="34.0" height="42.8" fill="#a4a4a4"/>
<rect x="1871.5" y="764.5" width="59.0" height="42.8" fill="#797979"/>
<rect x="887.0" y="806.3" width="64.6" height="42.8" fill="#aaaaaa"/>
<rect x="950.6" y="806.3" width="39.6" height="42.8" fill="#8f8f8f"/>
<rect x="887.0" y="848.1" width="64.6" height="42.8" fill="#8f8f8f"/>
<rect x="950.6" y="848.1" width="39.6" height="42.8" fill="#8f8f8f"/>
<rect x="989.2" y="806.3" width="39.6" height="42.8" fill="#7f7f7f"/>
<rect x="1027.8" y="806.3" width="39.6" height="42.8" fill="#939393"/>
<rect x="989.2" y="848.1" width="39.6" height="42.8" fill="#939393"/>
<rect x="1027.8" y="848.1" width="39.6" height="42.8" fill="#aeaeae"/>
<rect x="1066.4" y="806.3" width="39.6" height="42.8" fill="#7f7f7f"/>
<rect x="1105.0" y="806.3" width="39.6" height="42.8" fill="#939393"/>
<rect x="1066.4" y="848.1" width="39.6" height="42.8" fill="#7f7f7f"/>
<rect x="1105.0" y="848.1" width="39.6" height="42.8" fill="#939393"/>
<rect x="1143.6" y="806.3" width="39.6" height="42.8" fill="#6c6c6c"/>
<rect x="1182.2" y="806.3" width="39.6" height="42.8" fill="#6c6c6c"/>
<rect x="1143.6" y="848.1" width="39.6" height="42.8" fill="#7f7f7f"/>
<rect x="1182.2" y="848.1" width="39.6" height="42.8" fill="#7f7f7f"/>
<rect x="1220.8" y="806.3" width="39.6" height="42.8" fill="#7a7a7a"/>
<rect x="1259.4" y="806.3" width="39.6" height="42.8" fill="#7a7a7a"/>
<rect x="1220.8" y="848.1" width="39.6" height="42.8" fill="#8c8c8c"/>
<rect x="1259.4" y="848.1" width="39.6" height="42.8" fill="#8c8c8c"/>
<rect x="1298.0" y="806.3" width="39.6" height="42.8" fill="#565656"/>
<rect x="1336.6" y="806.3" width="39.6" height="42.8" fill="#6f6f6f"/>
<rect x="1298.0" y="848.1" width="39.6" height="42.8" fill="#6f6f6f"/>
<rect x="1336.6" y="848.1" width="39.6" height="42.8" fill="#6f6f6f"/>
<rect x="1375.2" y="806.3" width="39.6" height="42.8" fill="#696969"/>
<rect x="1413.8" y="806.3" width="39.6" height="42.8" fill="#696969"/>
<rect x="1375.2" y="848.1" width="39.6" height="42.8" fill="#7d7d7d"/>
<rect x="1413.8" y="848.1" width="39.6" height="42.8" fill="#696969"/>
<rect x="1452.4" y="806.3" width="39.6" height="42.8" fill="#7d7d7d"/>
<rect x="1491.0" y="806.3" width="39.6" height="42.8" fill="#909090"/>
<rect x="1452.4" y="848.1" width="39.6" height="42.8" fill="#7d7d7d"/>
<rect x="1491.0" y="848.1" width="39.6" height="42.8" fill="#7d7d7d"/>
<rect x="1529.6" y="806.3" width="39.6" height="42.8" fill="#6f6f6f"/>
<rect x="1568.2" y="806.3" width="39.6" height="42.8" fill="#818181"/>
<rect x="1529.6" y="848.1" width="39.6" height="42.8" fill="#6f6f6f"/>
<rect x="1568.2" y="848.1" width="39.6" height="42.8" fill="#969696"/>
<rect x="1606.8" y="806.3" width="39.6" height="42.8" fill="#939393"/>
<rect x="1645.4" y="806.3" width="39.6" height="42.8" fill="#6c6c6c"/>
<rect x="1606.8" y="848.1" width="39.6" height="42.8" fill="#6c6c6c"/>
<rect x="1645.4" y="848.1" width="39.6" height="42.8" fill="#6c6c6c"/>
<rect x="1684.0" y="806.3" width="39.6" height="42.8" fill="#b2b2b2"/>
<rect x="1722.6" y="806.3" width="39.6" height="42.8" fill="#969696"/>
<rect x="1684.0" y="848.1" width="39.6" height="42.8" fill="#969696"/>
<rect x="1722.6" y="848.1" width="39.6" height="42.8" fill="#969696"/>
<rect x="1761.2" y="806.3" width="39.6" height="42.8" fill="#969696"/>
<rect x="1799.8" y="806.3" width="39.6" height="42.8" fill="#969696"/>
<rect x="1761.2" y="848.1" width="39.6" height="42.8" fill="#818181"/>
<rect x="1799.8" y="848.1" width="39.6" height="42.8" fill="#969696"/>
<rect x="1838.4" y="806.3" width="34.0" height="42.8" fill="#969696"/>
<rect x="1871.5" y="806.3" width="59.0" height="42.8" fill="#b2b2b2"/>
<rect x="1838.4" y="848.1" width="34.0" height="42.8" fill="#b2b2b2"/>
<rect x="1871.5" y="848.1" width="59.0" height="42.8" fill="#b2b2b2"/>
<rect x="887.0" y="889.9" width="64.6" height="42.8" fill="#969696"/>
<rect x="950.6" y="889.9" width="39.6" height="42.8" fill="#b2b2b2"/>
<rect x="887.0" y="931.7" width="64.6" height="42.8" fill="#969696"/>
<rect x="950.6" y="931.7" width="39.6" height="42.8" fill="#969696"/>
<rect x="989.2" y="889.9" width="39.6" height="42.8" fill="#969696"/>
<rect x="1027.8" y="889.9" width="39.6" height="42.8" fill="#6f6f6f"/>
<rect x="989.2" y="931.7" width="39.6" height="42.8" fill="#969696"/>
<rect x="1027.8" y="931.7" width="39.6" height="42.8" fill="#818181"/>
<rect x="1066.4" y="889.9" width="39.6" height="42.8" fill="#939393"/>
<rect x="1105.0" y="889.9" width="39.6" height="42.8" fill="#939393"/>
<rect x="1066.4" y="931.7" width="39.6" height="42.8" fill="#7f7f7f"/>
<rect x="1105.0" y="931.7" width="39.6" height="42.8" fill="#525252"/>
<rect x="1143.6" y="889.9" width="39.6" height="42.8" fill="#5c5c5c"/>
<rect x="1182.2" y="889.9" width="39.6" height="42.8" fill="#5c5c5c"/>
<rect x="1143.6" y="931.7" width="39.6" height="42.8" fill="#747474"/>
<rect x="1182.2" y="931.7" width="39.6" height="42.8" fill="#868686"/>
<rect x="1220.8" y="889.9" width="39.6" height="42.8" fill="#7f7f7f"/>
<rect x="1259.4" y="889.9" width="39.6" height="42.8" fill="#6c6c6c"/>
<rect x="1220.8" y="931.7" width="39.6" height="42.8" fill="#aeaeae"/>
<rect x="1259.4" y="931.7" width="39.6" height="42.8" fill="#6c6c6c"/>
<rect x="1298.0" y="889.9" width="39.6" height="42.8" fill="#6f6f6f"/>
<rect x="1336.6" y="889.9" width="39.6" height="42.8" fill="#818181"/>
<rect x="1298.0" y="931.7" width="39.6" height="42.8" fill="#6f6f6f"/>
<rect x="1336.6" y="931.7" width="39.6" height="42.8" fill="#969696"/>
<rect x="1375.2" y="889.9" width="39.6" height="42.8" fill="#7f7f7f"/>
<rect x="1413.8" y="889.9" width="39.6" height="42.8" fill="#6c6c6c"/>
<rect x="1375.2" y="931.7" width="39.6" height="42.8" fill="#aeaeae"/>
<rect x="1413.8" y="931.7" width="39.6" height="42.8" fill="#939393"/>
<rect x="1452.4" y="889.9" width="39.6" height="42.8" fill="#6f6f6f"/>
<rect x="1491.0" y="889.9" width="39.6" height="42.8" fill="#6f6f6f"/>
<rect x="1452.4" y="931.7" width="39.6" height="42.8" fill="#6f6f6f"/>
<rect x="1491.0" y="931.7" width="39.6" height="42.8" fill="#818181"/>
<rect x="1529.6" y="889.9" width="39.6" height="42.8" fill="#969696"/>
<rect x="1568.2" y="889.9" width="39.6" height="42.8" fill="#969696"/>
<rect x="1529.6" y="931.7" width="39.6" height="42.8" fill="#969696"/>
<rect x="1568.2" y="931.7" width="39.6" height="42.8" fill="#b2b2b2"/>
<rect x="1606.8" y="889.9" width="39.6" height="42.8" fill="#6f6f6f"/>
<rect x="1645.4" y="889.9" width="39.6" height="42.8" fill="#818181"/>
<rect x="1606.8" y="931.7" width="39.6" height="42.8" fill="#b2b2b2"/>
<rect x="1645.4" y="931.7" width="39.6" height="42.8" fill="#818181"/>
<rect x="1684.0" y="889.9" width="39.6" height="42.8" fill="#939393"/>
<rect x="1722.6" y="889.9" width="39.6" height="42.8" fill="#939393"/>
<rect x="1684.0" y="931.7" width="39.6" height="42.8" fill="#939393"/>
<rect x="1722.6" y="931.7" width="39.6" height="42.8" fill="#939393"/>
<rect x="1761.2" y="889.9" width="39.6" height="42.8" fill="#b2b2b2"/>
<rect x="1799.8" y="889.9" width="39.6" height="42.8" fill="#969696"/>
<rect x="1761.2" y="931.7" width="39.6" height="42.8" fill="#969696"/>
<rect x="1799.8" y="931.7" width="39.6" height="42.8" fill="#969696"/>
<rect x="1838.4" y="889.9" width="34.0" height="42.8" fill="#969696"/>
<rect x="1871.5" y="889.9" width="59.0" height="42.8" fill="#969696"/>
<rect x="1838.4" y="931.7" width="34.0" height="42.8" fill="#b2b2b2"/>
<rect x="1871.5" y="931.7" width="59.0" height="42.8" fill="#969696"/>
<rect x="887.0" y="973.5" width="64.6" height="42.8" fill="#838383"/>
<rect x="950.6" y="973.5" width="39.6" height="42.8" fill="#9a9a9a"/>
<rect x="887.0" y="1015.4" width="64.6" height="42.8" fill="#9a9a9a"/>
<rect x="950.6" y="1015.4" width="39.6" height="42.8" fill="#838383"/>
<rect x="989.2" y="973.5" width="39.6" height="42.8" fill="#969696"/>
<rect x="1027.8" y="973.5" width="39.6" height="42.8" fill="#b2b2b2"/>
<rect x="989.2" y="1015.4" width="39.6" height="42.8" fill="#818181"/>
<rect x="1027.8" y="1015.4" width="39.6" height="42.8" fill="#b2b2b2"/>
<rect x="1066.4" y="973.5" width="39.6" height="42.8" fill="#696969"/>
<rect x="1105.0" y="973.5" width="39.6" height="42.8" fill="#2b2b2b"/>
<rect x="1066.4" y="1015.4" width="39.6" height="42.8" fill="#909090"/>
<rect x="1105.0" y="1015.4" width="39.6" height="42.8" fill="#ababab"/>
<rect x="1143.6" y="973.5" width="39.6" height="42.8" fill="#aeaeae"/>
<rect x="1182.2" y="973.5" width="39.6" height="42.8" fill="#939393"/>
<rect x="1143.6" y="1015.4" width="39.6" height="42.8" fill="#aeaeae"/>
<rect x="1182.2" y="1015.4" width="39.6" height="42.8" fill="#939393"/>
<rect x="1220.8" y="973.5" width="39.6" height="42.8" fill="#7f7f7f"/>
<rect x="1259.4" y="973.5" width="39.6" height="42.8" fill="#939393"/>
<rect x="1220.8" y="1015.4" width="39.6" height="42.8" fill="#939393"/>
<rect x="1259.4" y="1015.4" width="39.6" height="42.8" fill="#aeaeae"/>
<rect x="1298.0" y="973.5" width="39.6" height="42.8" fill="#969696"/>
<rect x="1336.6" y="973.5" width="39.6" height="42.8" fill="#969696"/>
<rect x="1298.0" y="1015.4" width="39.6" height="42.8" fill="#b2b2b2"/>
<rect x="1336.6" y="1015.4" width="39.6" height="42.8" fill="#969696"/>
<rect x="1375.2" y="973.5" width="39.6" height="42.8" fill="#939393"/>
<rect x="1413.8" y="973.5" width="39.6" height="42.8" fill="#939393"/>
<rect x="1375.2" y="1015.4" width="39.6" height="42.8" fill="#939393"/>
<rect x="1413.8" y="1015.4" width="39.6" height="42.8" fill="#939393"/>
<rect x="1452.4" y="973.5" width="39.6" height="42.8" fill="#939393"/>
<rect x="1491.0" y="973.5" width="39.6" height="42.8" fill="#939393"/>
<rect x="1452.4" y="1015.4" width="39.6" height="42.8" fill="#939393"/>
<rect x="1491.0" y="1015.4" width="39.6" height="42.8" fill="#939393"/>
<rect x="1529.6" y="973.5" width="39.6" height="42.8" fill="#b2b2b2"/>
<rect x="1568.2" y="973.5" width="39.6" height="42.8" fill="#969696"/>
<rect x="1529.6" y="1015.4" width="39.6" height="42.8" fill="#969696"/>
<rect x="1568.2" y="1015.4" width="39.6" height="42.8" fill="#969696"/>
<rect x="1606.8" y="973.5" width="39.6" height="42.8" fill="#aeaeae"/>
<rect x="1645.4" y="973.5" width="39.6" height="42.8" fill="#aeaeae"/>
<rect x="1606.8" y="1015.4" width="39.6" height="42.8" fill="#aeaeae"/>
<rect x="1645.4" y="1015.4" width="39.6" height="42.8" fill="#aeaeae"/>
<rect x="1684.0" y="973.5" width="39.6" height="42.8" fill="#939393"/>
<rect x="1722.6" y="973.5" width="39.6" height="42.8" fill="#939393"/>
<rect x="1684.0" y="1015.4" width="39.6" height="42.8" fill="#939393"/>
<rect x="1722.6" y="1015.4" width="39.6" height="42.8" fill="#939393"/>
<rect x="1761.2" y="973.5" width="39.6" height="42.8" fill="#aeaeae"/>
<rect x="1799.8" y="973.5" width="39.6" height="42.8" fill="#939393"/>
<rect x="1761.2" y="1015.4" width="39.6" height="42.8" fill="#aeaeae"/>
<rect x="1799.8" y="1015.4" width="39.6" height="42.8" fill="#939393"/>
<rect x="1838.4" y="973.5" width="34.0" height="42.8" fill="#8b8b8b"/>
<rect x="1871.5" y="973.5" width="59.0" height="42.8" fill="#797979"/>
<rect x="1838.4" y="1015.4" width="34.0" height="42.8" fill="#8b8b8b"/>
<rect x="1871.5" y="1015.4" width="59.0" height="42.8" fill="#8b8b8b"/>
<rect x="887.0" y="1057.2" width="64.6" height="42.8" fill="#969696"/>
<rect x="950.6" y="1057.2" width="39.6" height="42.8" fill="#b2b2b2"/>
<rect x="887.0" y="1099.0" width="64.6" height="42.8" fill="#6f6f6f"/>
<rect x="950.6" y="1099.0" width="39.6" height="42.8" fill="#969696"/>
<rect x="989.2" y="1057.2" width="39.6" height="42.8" fill="#9a9a9a"/>
<rect x="1027.8" y="1057.2" width="39.6" height="42.8" fill="#9a9a9a"/>
<rect x="989.2" y="1099.0" width="39.6" height="42.8" fill="#9a9a9a"/>
<rect x="1027.8" y="1099.0" width="39.6" height="42.8" fill="#9a9a9a"/>
<rect x="1066.4" y="1057.2" width="39.6" height="42.8" fill="#aeaeae"/>
<rect x="1105.0" y="1057.2" width="39.6" height="42.8" fill="#939393"/>
<rect x="1066.4" y="1099.0" width="39.6" height="42.8" fill="#939393"/>
<rect x="1105.0" y="1099.0" width="39.6" height="42.8" fill="#aeaeae"/>
<rect x="1143.6" y="1057.2" width="39.6" height="42.8" fill="#939393"/>
<rect x="1182.2" y="1057.2" width="39.6" height="42.8" fill="#939393"/>
<rect x="1143.6" y="1099.0" width="39.6" height="42.8" fill="#939393"/>
<rect x="1182.2" y="1099.0" width="39.6" height="42.8" fill="#939393"/>
<rect x="1220.8" y="1057.2" width="39.6" height="42.8" fill="#7f7f7f"/>
<rect x="1259.4" y="1057.2" width="39.6" height="42.8" fill="#aeaeae"/>
<rect x="1220.8" y="1099.0" width="39.6" height="42.8" fill="#7f7f7f"/>
<rect x="1259.4" y="1099.0" width="39.6" height="42.8" fill="#aeaeae"/>
<rect x="1298.0" y="1057.2" width="39.6" height="42.8" fill="#818181"/>
<rect x="1336.6" y="1057.2" width="39.6" height="42.8" fill="#969696"/>
<rect x="1298.0" y="1099.0" width="39.6" height="42.8" fill="#969696"/>
<rect x="1336.6" y="1099.0" width="39.6" height="42.8" fill="#969696"/>
<rect x="1375.2" y="1057.2" width="39.6" height="42.8" fill="#939393"/>
<rect x="1413.8" y="1057.2" width="39.6" height="42.8" fill="#939393"/>
<rect x="1375.2" y="1099.0" width="39.6" height="42.8" fill="#939393"/>
<rect x="1413.8" y="1099.0" width="39.6" height="42.8" fill="#939393"/>
<rect x="1452.4" y="1057.2" width="39.6" height="42.8" fill="#969696"/>
<rect x="1491.0" y="1057.2" width="39.6" height="42.8" fill="#969696"/>
<rect x="1452.4" y="1099.0" width="39.6" height="42.8" fill="#969696"/>
<rect x="1491.0" y="1099.0" width="39.6" height="42.8" fill="#818181"/>
<rect x="1529.6" y="1057.2" width="39.6" height="42.8" fill="#aeaeae"/>
<rect x="1568.2" y="1057.2" width="39.6" height="42.8" fill="#aeaeae"/>
<rect x="1529.6" y="1099.0" width="39.6" height="42.8" fill="#aeaeae"/>
<rect x="1568.2" y="1099.0" width="39.6" height="42.8" fill="#aeaeae"/>
<rect x="1606.8" y="1057.2" width="39.6" height="42.8" fill="#939393"/>
<rect x="1645.4" y="1057.2" width="39.6" height="42.8" fill="#7f7f7f"/>
<rect x="1606.8" y="1099.0" width="39.6" height="42.8" fill="#939393"/>
<rect x="1645.4" y="1099.0" width="39.6" height="42.8" fill="#7f7f7f"/>
<rect x="1684.0" y="1057.2" width="39.6" height="42.8" fill="#939393"/>
<rect x="1722.6" y="1057.2" width="39.6" height="42.8" fill="#939393"/>
<rect x="1684.0" y="1099.0" width="39.6" height="42.8" fill="#939393"/>
<rect x="1722.6" y="1099.0" width="39.6" height="42.8" fill="#939393"/>
<rect x="1761.2" y="1057.2" width="39.6" height="42.8" fill="#818181"/>
<rect x="1799.8" y="1057.2" width="39.6" height="42.8" fill="#6f6f6f"/>
<rect x="1761.2" y="1099.0" width="39.6" height="42.8" fill="#6f6f6f"/>
<rect x="1799.8" y="1099.0" width="39.6" height="42.8" fill="#6f6f6f"/>
<rect x="1838.4" y="1057.2" width="34.0" height="42.8" fill="#aeaeae"/>
<rect x="1871.5" y="1057.2" width="59.0" height="42.8" fill="#aeaeae"/>
<rect x="1838.4" y="1099.0" width="34.0" height="42.8" fill="#aeaeae"/>
<rect x="1871.5" y="1099.0" width="59.0" height="42.8" fill="#7f7f7f"/>
<rect x="887.0" y="1140.8" width="64.6" height="42.8" fill="#aeaeae"/>
<rect x="950.6" y="1140.8" width="39.6" height="42.8" fill="#939393"/>
<rect x="887.0" y="1182.6" width="64.6" height="42.8" fill="#aeaeae"/>
<rect x="950.6" y="1182.6" width="39.6" height="42.8" fill="#939393"/>
<rect x="989.2" y="1140.8" width="39.6" height="42.8" fill="#aeaeae"/>
<rect x="1027.8" y="1140.8" width="39.6" height="42.8" fill="#939393"/>
<rect x="989.2" y="1182.6" width="39.6" height="42.8" fill="#939393"/>
<rect x="1027.8" y="1182.6" width="39.6" height="42.8" fill="#aeaeae"/>
<rect x="1066.4" y="1140.8" width="39.6" height="42.8" fill="#a6a6a6"/>
<rect x="1105.0" y="1140.8" width="39.6" height="42.8" fill="#8c8c8c"/>
<rect x="1066.4" y="1182.6" width="39.6" height="42.8" fill="#a6a6a6"/>
<rect x="1105.0" y="1182.6" width="39.6" height="42.8" fill="#8c8c8c"/>
<rect x="1143.6" y="1140.8" width="39.6" height="42.8" fill="#818181"/>
<rect x="1182.2" y="1140.8" width="39.6" height="42.8" fill="#b2b2b2"/>
<rect x="1143.6" y="1182.6" width="39.6" height="42.8" fill="#969696"/>
<rect x="1182.2" y="1182.6" width="39.6" height="42.8" fill="#b2b2b2"/>
<rect x="1220.8" y="1140.8" width="39.6" height="42.8" fill="#aeaeae"/>
<rect x="1259.4" y="1140.8" width="39.6" height="42.8" fill="#7f7f7f"/>
<rect x="1220.8" y="1182.6" width="39.6" height="42.8" fill="#939393"/>
<rect x="1259.4" y="1182.6" width="39.6" height="42.8" fill="#939393"/>
<rect x="1298.0" y="1140.8" width="39.6" height="42.8" fill="#b2b2b2"/>
<rect x="1336.6" y="1140.8" width="39.6" height="42.8" fill="#969696"/>
<rect x="1298.0" y="1182.6" width="39.6" height="42.8" fill="#b2b2b2"/>
<rect x="1336.6" y="1182.6" width="39.6" height="42.8" fill="#b2b2b2"/>
<rect x="1375.2" y="1140.8" width="39.6" height="42.8" fill="#7d7d7d"/>
<rect x="1413.8" y="1140.8" width="39.6" height="42.8" fill="#909090"/>
<rect x="1375.2" y="1182.6" width="39.6" height="42.8" fill="#696969"/>
<rect x="1413.8" y="1182.6" width="39.6" height="42.8" fill="#909090"/>
<rect x="1452.4" y="1140.8" width="39.6" height="42.8" fill="#696969"/>
<rect x="1491.0" y="1140.8" width="39.6" height="42.8" fill="#ababab"/>
<rect x="1452.4" y="1182.6" width="39.6" height="42.8" fill="#ababab"/>
<rect x="1491.0" y="1182.6" width="39.6" height="42.8" fill="#ababab"/>
<rect x="1529.6" y="1140.8" width="39.6" height="42.8" fill="#aeaeae"/>
<rect x="1568.2" y="1140.8" width="39.6" height="42.8" fill="#939393"/>
<rect x="1529.6" y="1182.6" width="39.6" height="42.8" fill="#aeaeae"/>
<rect x="1568.2" y="1182.6" width="39.6" height="42.8" fill="#939393"/>
<rect x="1606.8" y="1140.8" width="39.6" height="42.8" fill="#969696"/>
<rect x="1645.4" y="1140.8" width="39.6" height="42.8" fill="#b2b2b2"/>
<rect x="1606.8" y="1182.6" width="39.6" height="42.8" fill="#b2b2b2"/>
<rect x="1645.4" y="1182.6" width="39.6" height="42.8" fill="#b2b2b2"/>
<rect x="1684.0" y="1140.8" width="39.6" height="42.8" fill="#939393"/>
<rect x="1722.6" y="1140.8" width="39.6" height="42.8" fill="#939393"/>
<rect x="1684.0" y="1182.6" width="39.6" height="42.8" fill="#939393"/>
<rect x="1722.6" y="1182.6" width="39.6" height="42.8" fill="#939393"/>
<rect x="1761.2" y="1140.8" width="39.6" height="42.8" fill="#909090"/>
<rect x="1799.8" y="1140.8" width="39.6" height="42.8" fill="#909090"/>
<rect x="1761.2" y="1182.6" width="39.6" height="42.8" fill="#909090"/>
<rect x="1799.8" y="1182.6" width="39.6" height="42.8" fill="#4e4e4e"/>
<rect x="1838.4" y="1140.8" width="34.0" height="42.8" fill="#565656"/>
<rect x="1871.5" y="1140.8" width="59.0" height="42.8" fill="#353535"/>
<rect x="1838.4" y="1182.6" width="34.0" height="42.8" fill="#353535"/>
<rect x="1871.5" y="1182.6" width="59.0" height="42.8" fill="#353535"/>
<rect x="887.0" y="1224.4" width="64.6" height="42.8" fill="#8c8c8c"/>
<rect x="950.6" y="1224.4" width="39.6" height="42.8" fill="#8c8c8c"/>
<rect x="887.0" y="1266.2" width="64.6" height="42.8" fill="#8c8c8c"/>
<rect x="950.6" y="1266.2" width="39.6" height="42.8" fill="#8c8c8c"/>
<rect x="989.2" y="1224.4" width="39.6" height="42.8" fill="#969696"/>
<rect x="1027.8" y="1224.4" width="39.6" height="42.8" fill="#969696"/>
<rect x="989.2" y="1266.2" width="39.6" height="42.8" fill="#b2b2b2"/>
<rect x="1027.8" y="1266.2" width="39.6" height="42.8" fill="#969696"/>
<rect x="1066.4" y="1224.4" width="39.6" height="42.8" fill="#b2b2b2"/>
<rect x="1105.0" y="1224.4" width="39.6" height="42.8" fill="#969696"/>
<rect x="1066.4" y="1266.2" width="39.6" height="42.8" fill="#b2b2b2"/>
<rect x="1105.0" y="1266.2" width="39.6" height="42.8" fill="#b2b2b2"/>
<rect x="1143.6" y="1224.4" width="39.6" height="42.8" fill="#b2b2b2"/>
<rect x="1182.2" y="1224.4" width="39.6" height="42.8" fill="#969696"/>
<rect x="1143.6" y="1266.2" width="39.6" height="42.8" fill="#969696"/>
<rect x="1182.2" y="1266.2" width="39.6" height="42.8" fill="#969696"/>
<rect x="1220.8" y="1224.4" width="39.6" height="42.8" fill="#7f7f7f"/>
<rect x="1259.4" y="1224.4" width="39.6" height="42.8" fill="#939393"/>
<rect x="1220.8" y="1266.2" width="39.6" height="42.8" fill="#aeaeae"/>
<rect x="1259.4" y="1266.2" width="39.6" height="42.8" fill="#939393"/>
<rect x="1298.0" y="1224.4" width="39.6" height="42.8" fill="#b2b2b2"/>
<rect x="1336.6" y="1224.4" width="39.6" height="42.8" fill="#b2b2b2"/>
<rect x="1298.0" y="1266.2" width="39.6" height="42.8" fill="#b2b2b2"/>
<rect x="1336.6" y="1266.2" width="39.6" height="42.8" fill="#969696"/>
<rect x="1375.2" y="1224.4" width="39.6" height="42.8" fill="#969696"/>
<rect x="1413.8" y="1224.4" width="39.6" height="42.8" fill="#969696"/>
<rect x="1375.2" y="1266.2" width="39.6" height="42.8" fill="#b2b2b2"/>
<rect x="1413.8" y="1266.2" width="39.6" height="42.8" fill="#969696"/>
<rect x="1452.4" y="1224.4" width="39.6" height="42.8" fill="#aeaeae"/>
<rect x="1491.0" y="1224.4" width="39.6" height="42.8" fill="#6c6c6c"/>
<rect x="1452.4" y="1266.2" width="39.6" height="42.8" fill="#6c6c6c"/>
<rect x="1491.0" y="1266.2" width="39.6" height="42.8" fill="#525252"/>
<rect x="1529.6" y="1224.4" width="39.6" height="42.8" fill="#7f7f7f"/>
<rect x="1568.2" y="1224.4" width="39.6" height="42.8" fill="#939393"/>
<rect x="1529.6" y="1266.2" width="39.6" height="42.8" fill="#7f7f7f"/>
<rect x="1568.2" y="1266.2" width="39.6" height="42.8" fill="#939393"/>
<rect x="1606.8" y="1224.4" width="39.6" height="42.8" fill="#969696"/>
<rect x="1645.4" y="1224.4" width="39.6" height="42.8" fill="#969696"/>
<rect x="1606.8" y="1266.2" width="39.6" height="42.8" fill="#969696"/>
<rect x="1645.4" y="1266.2" width="39.6" height="42.8" fill="#b2b2b2"/>
<rect x="1684.0" y="1224.4" width="39.6" height="42.8" fill="#939393"/>
<rect x="1722.6" y="1224.4" width="39.6" height="42.8" fill="#939393"/>
<rect x="1684.0" y="1266.2" width="39.6" height="42.8" fill="#939393"/>
<rect x="1722.6" y="1266.2" width="39.6" height="42.8" fill="#939393"/>
<rect x="1761.2" y="1224.4" width="39.6" height="42.8" fill="#969696"/>
<rect x="1799.8" y="1224.4" width="39.6" height="42.8" fill="#353535"/>
<rect x="1761.2" y="1266.2" width="39.6" height="42.8" fill="#b2b2b2"/>
<rect x="1799.8" y="1266.2" width="39.6" height="42.8" fill="#6f6f6f"/>
<rect x="1838.4" y="1224.4" width="34.0" height="42.8" fill="#2b2b2b"/>
<rect x="1871.5" y="1224.4" width="59.0" height="42.8" fill="#696969"/>
<rect x="1838.4" y="1266.2" width="34.0" height="42.8" fill="#4e4e4e"/>
<rect x="1871.5" y="1266.2" width="59.0" height="42.8" fill="#696969"/>
<rect x="887.0" y="1308.0" width="64.6" height="42.8" fill="#939393"/>
<rect x="950.6" y="1308.0" width="39.6" height="42.8" fill="#939393"/>
<rect x="887.0" y="1349.8" width="64.6" height="67.8" fill="#7f7f7f"/>
<rect x="950.6" y="1349.8" width="39.6" height="67.8" fill="#7f7f7f"/>
<rect x="989.2" y="1308.0" width="39.6" height="42.8" fill="#939393"/>
<rect x="1027.8" y="1308.0" width="39.6" height="42.8" fill="#aeaeae"/>
<rect x="989.2" y="1349.8" width="39.6" height="67.8" fill="#7f7f7f"/>
<rect x="1027.8" y="1349.8" width="39.6" height="67.8" fill="#939393"/>
<rect x="1066.4" y="1308.0" width="39.6" height="42.8" fill="#ababab"/>
<rect x="1105.0" y="1308.0" width="39.6" height="42.8" fill="#909090"/>
<rect x="1066.4" y="1349.8" width="39.6" height="67.8" fill="#7d7d7d"/>
<rect x="1105.0" y="1349.8" width="39.6" height="67.8" fill="#4e4e4e"/>
<rect x="1143.6" y="1308.0" width="39.6" height="42.8" fill="#9b9b9b"/>
<rect x="1182.2" y="1308.0" width="39.6" height="42.8" fill="#848484"/>
<rect x="1143.6" y="1349.8" width="39.6" height="67.8" fill="#9b9b9b"/>
<rect x="1182.2" y="1349.8" width="39.6" height="67.8" fill="#848484"/>
<rect x="1220.8" y="1308.0" width="39.6" height="42.8" fill="#a6a6a6"/>
<rect x="1259.4" y="1308.0" width="39.6" height="42.8" fill="#8c8c8c"/>
<rect x="1220.8" y="1349.8" width="39.6" height="67.8" fill="#8c8c8c"/>
<rect x="1259.4" y="1349.8" width="39.6" height="67.8" fill="#7a7a7a"/>
<rect x="1298.0" y="1308.0" width="39.6" height="42.8" fill="#b2b2b2"/>
<rect x="1336.6" y="1308.0" width="39.6" height="42.8" fill="#818181"/>
<rect x="1298.0" y="1349.8" width="39.6" height="67.8" fill="#b2b2b2"/>
<rect x="1336.6" y="1349.8" width="39.6" height="67.8" fill="#6f6f6f"/>
<rect x="1375.2" y="1308.0" width="39.6" height="42.8" fill="#777777"/>
<rect x="1413.8" y="1308.0" width="39.6" height="42.8" fill="#a1a1a1"/>
<rect x="1375.2" y="1349.8" width="39.6" height="67.8" fill="#5f5f5f"/>
<rect x="1413.8" y="1349.8" width="39.6" height="67.8" fill="#888888"/>
<rect x="1452.4" y="1308.0" width="39.6" height="42.8" fill="#6c6c6c"/>
<rect x="1491.0" y="1308.0" width="39.6" height="42.8" fill="#525252"/>
<rect x="1452.4" y="1349.8" width="39.6" height="67.8" fill="#6c6c6c"/>
<rect x="1491.0" y="1349.8" width="39.6" height="67.8" fill="#525252"/>
<rect x="1529.6" y="1308.0" width="39.6" height="42.8" fill="#939393"/>
<rect x="1568.2" y="1308.0" width="39.6" height="42.8" fill="#aeaeae"/>
<rect x="1529.6" y="1349.8" width="39.6" height="67.8" fill="#939393"/>
<rect x="1568.2" y="1349.8" width="39.6" height="67.8" fill="#aeaeae"/>
<rect x="1606.8" y="1308.0" width="39.6" height="42.8" fill="#939393"/>
<rect x="1645.4" y="1308.0" width="39.6" height="42.8" fill="#939393"/>
<rect x="1606.8" y="1349.8" width="39.6" height="67.8" fill="#6c6c6c"/>
<rect x="1645.4" y="1349.8" width="39.6" height="67.8" fill="#939393"/>
<rect x="1684.0" y="1308.0" width="39.6" height="42.8" fill="#939393"/>
<rect x="1722.6" y="1308.0" width="39.6" height="42.8" fill="#939393"/>
<rect x="1684.0" y="1349.8" width="39.6" height="67.8" fill="#939393"/>
<rect x="1722.6" y="1349.8" width="39.6" height="67.8" fill="#939393"/>
<rect x="1761.2" y="1308.0" width="39.6" height="42.8" fill="#b2b2b2"/>
<rect x="1799.8" y="1308.0" width="39.6" height="42.8" fill="#6f6f6f"/>
<rect x="1761.2" y="1349.8" width="39.6" height="67.8" fill="#b2b2b2"/>
<rect x="1799.8" y="1349.8" width="39.6" height="67.8" fill="#818181"/>
<rect x="1838.4" y="1308.0" width="34.0" height="42.8" fill="#ababab"/>
<rect x="1871.5" y="1308.0" width="59.0" height="42.8" fill="#4e4e4e"/>
<rect x="1838.4" y="1349.8" width="34.0" height="67.8" fill="#7d7d7d"/>
<rect x="1871.5" y="1349.8" width="59.0" height="67.8" fill="#2b2b2b"/>
</g></g></g>
<rect x="1904" y="139.4" width="12.599999999999909" height="1252.6999999999998" fill="#eef8ee"/>
<rect x="1607.3000000000002" y="138.4" width="77.2" height="417.5999999999999" fill="#fff"/>
<rect x="1684.5" y="890.4399999999999" width="77.2" height="501.65999999999997" fill="#fff"/>
<line x1="989.7" y1="139.4" x2="989.7" y2="1392.1" stroke="#111" stroke-width="2.2"/>
<line x1="1066.9" y1="139.4" x2="1066.9" y2="1392.1" stroke="#111" stroke-width="2.2"/>
<line x1="1144.1" y1="139.4" x2="1144.1" y2="1392.1" stroke="#111" stroke-width="2.2"/>
<line x1="1221.3" y1="139.4" x2="1221.3" y2="1392.1" stroke="#111" stroke-width="2.2"/>
<line x1="1298.5" y1="139.4" x2="1298.5" y2="1392.1" stroke="#111" stroke-width="2.2"/>
<line x1="1375.7" y1="139.4" x2="1375.7" y2="1392.1" stroke="#111" stroke-width="2.2"/>
<line x1="1452.9" y1="139.4" x2="1452.9" y2="1392.1" stroke="#111" stroke-width="2.2"/>
<line x1="1530.1" y1="139.4" x2="1530.1" y2="1392.1" stroke="#111" stroke-width="2.2"/>
<line x1="1607.3" y1="139.4" x2="1607.3" y2="1392.1" stroke="#111" stroke-width="2.2"/>
<line x1="1684.5" y1="139.4" x2="1684.5" y2="1392.1" stroke="#111" stroke-width="2.2"/>
<line x1="1761.7" y1="139.4" x2="1761.7" y2="1392.1" stroke="#111" stroke-width="2.2"/>
<line x1="1838.9" y1="139.4" x2="1838.9" y2="1392.1" stroke="#111" stroke-width="2.2"/>
<line x1="899.5" y1="1392.1" x2="1923" y2="1392.1" stroke="#111" stroke-width="2.6"/>
<line x1="912.5" y1="1308.5" x2="1923" y2="1308.5" stroke="#111" stroke-width="2.6"/>
<line x1="899.5" y1="1224.9" x2="1923" y2="1224.9" stroke="#111" stroke-width="2.6"/>
<line x1="912.5" y1="1141.3" x2="1923" y2="1141.3" stroke="#111" stroke-width="2.6"/>
<line x1="899.5" y1="1057.7" x2="1923" y2="1057.7" stroke="#111" stroke-width="2.6"/>
<line x1="912.5" y1="974.0" x2="1923" y2="974.0" stroke="#111" stroke-width="2.6"/>
<line x1="899.5" y1="890.4" x2="1923" y2="890.4" stroke="#111" stroke-width="2.6"/>
<line x1="912.5" y1="806.8" x2="1923" y2="806.8" stroke="#111" stroke-width="2.6"/>
<line x1="899.5" y1="723.2" x2="1923" y2="723.2" stroke="#111" stroke-width="2.6"/>
<line x1="912.5" y1="639.6" x2="1923" y2="639.6" stroke="#111" stroke-width="2.6"/>
<line x1="899.5" y1="556.0" x2="1923" y2="556.0" stroke="#111" stroke-width="2.6"/>
<line x1="912.5" y1="472.4" x2="1923" y2="472.4" stroke="#111" stroke-width="2.6"/>
<line x1="899.5" y1="388.8" x2="1923" y2="388.8" stroke="#111" stroke-width="2.6"/>
<line x1="912.5" y1="305.2" x2="1923" y2="305.2" stroke="#111" stroke-width="2.6"/>
<line x1="899.5" y1="221.6" x2="1923" y2="221.6" stroke="#111" stroke-width="2.6"/>
<line x1="1916.6" y1="139.4" x2="1916.6" y2="1393.1" stroke="#555" stroke-width="2"/>
<line x1="912.5" y1="1392.1" x2="912.5" y2="1414" stroke="#111" stroke-width="2"/>
<line x1="1066.9" y1="1392.1" x2="1066.9" y2="1414" stroke="#111" stroke-width="2"/>
<line x1="1221.3" y1="1392.1" x2="1221.3" y2="1414" stroke="#111" stroke-width="2"/>
<line x1="1375.7" y1="1392.1" x2="1375.7" y2="1414" stroke="#111" stroke-width="2"/>
<line x1="1530.1" y1="1392.1" x2="1530.1" y2="1414" stroke="#111" stroke-width="2"/>
<line x1="1684.5" y1="1392.1" x2="1684.5" y2="1414" stroke="#111" stroke-width="2"/>
<line x1="1838.9" y1="1392.1" x2="1838.9" y2="1414" stroke="#111" stroke-width="2"/>
<line x1="899.5" y1="1392.1" x2="1923" y2="1392.1" stroke="#111" stroke-width="2.6"/>
<circle cx="1288" cy="368.5" r="6.6" fill="#f01010" stroke="#c00" stroke-width="0.8"/>
<circle cx="1291.3" cy="374" r="6.6" fill="#f01010" stroke="#c00" stroke-width="0.8"/>
<circle cx="1294.6" cy="379.3" r="6.6" fill="#f01010" stroke="#c00" stroke-width="0.8"/>
<circle cx="1297.8" cy="383.6" r="6.6" fill="#f01010" stroke="#c00" stroke-width="0.8"/>
<circle cx="1384.9" cy="716.2" r="6.6" fill="#f01010" stroke="#c00" stroke-width="0.8"/>
<circle cx="1393.6" cy="715.2" r="6.6" fill="#f01010" stroke="#c00" stroke-width="0.8"/>
<circle cx="1389.3" cy="723.8" r="6.6" fill="#f01010" stroke="#c00" stroke-width="0.8"/>
<circle cx="1353.9" cy="746" r="6.6" fill="#f01010" stroke="#c00" stroke-width="0.8"/>
<circle cx="1583.9" cy="641.4" r="6.6" fill="#f01010" stroke="#c00" stroke-width="0.8"/>
<circle cx="1555.6" cy="675.7" r="6.6" fill="#f01010" stroke="#c00" stroke-width="0.8"/>
<circle cx="1569.7" cy="699.6" r="6.6" fill="#f01010" stroke="#c00" stroke-width="0.8"/>
<circle cx="1563.7" cy="703.9" r="6.6" fill="#f01010" stroke="#c00" stroke-width="0.8"/>
<circle cx="1570.2" cy="712" r="6.6" fill="#f01010" stroke="#c00" stroke-width="0.8"/>
<circle cx="1569.7" cy="720.6" r="6.6" fill="#f01010" stroke="#c00" stroke-width="0.8"/>
<circle cx="1538.7" cy="717.8" r="6.6" fill="#f01010" stroke="#c00" stroke-width="0.8"/>
<circle cx="1776" cy="740.2" r="6.6" fill="#f01010" stroke="#c00" stroke-width="0.8"/>
<circle cx="1774.3" cy="747.8" r="6.6" fill="#f01010" stroke="#c00" stroke-width="0.8"/>
<circle cx="957.7" cy="818" r="6.6" fill="#f01010" stroke="#c00" stroke-width="0.8"/>
<circle cx="963.2" cy="824.5" r="6.6" fill="#f01010" stroke="#c00" stroke-width="0.8"/>
<circle cx="969" cy="830" r="6.6" fill="#f01010" stroke="#c00" stroke-width="0.8"/>
<circle cx="1632.4" cy="819.1" r="6.6" fill="#f01010" stroke="#c00" stroke-width="0.8"/>
<circle cx="1638.9" cy="815.8" r="6.6" fill="#f01010" stroke="#c00" stroke-width="0.8"/>
<circle cx="1632.4" cy="826.7" r="6.6" fill="#f01010" stroke="#c00" stroke-width="0.8"/>
<circle cx="1680.3" cy="836.5" r="6.6" fill="#f01010" stroke="#c00" stroke-width="0.8"/>
<circle cx="1691.2" cy="839.8" r="6.6" fill="#f01010" stroke="#c00" stroke-width="0.8"/>
<circle cx="1745.6" cy="1041.2" r="6.6" fill="#f01010" stroke="#c00" stroke-width="0.8"/>
<circle cx="1741.2" cy="1046.6" r="6.6" fill="#f01010" stroke="#c00" stroke-width="0.8"/>
<circle cx="1750" cy="1048.8" r="6.6" fill="#f01010" stroke="#c00" stroke-width="0.8"/>
<circle cx="1766.3" cy="1035.7" r="6.6" fill="#f01010" stroke="#c00" stroke-width="0.8"/>
<circle cx="1772.8" cy="1040.1" r="6.6" fill="#f01010" stroke="#c00" stroke-width="0.8"/>
<circle cx="1767.4" cy="1045.5" r="6.6" fill="#f01010" stroke="#c00" stroke-width="0.8"/>
<text x="787.7" y="1402.3" font-family="'Liberation Serif', 'Times New Roman', serif" font-size="29.4" font-weight="normal" text-anchor="start" fill="#000" textLength="103.5" lengthAdjust="spacingAndGlyphs">3822000</text>
<text x="787.7" y="1235.1" font-family="'Liberation Serif', 'Times New Roman', serif" font-size="29.4" font-weight="normal" text-anchor="start" fill="#000" textLength="103.5" lengthAdjust="spacingAndGlyphs">3824000</text>
<text x="787.7" y="1067.9" font-family="'Liberation Serif', 'Times New Roman', serif" font-size="29.4" font-weight="normal" text-anchor="start" fill="#000" textLength="103.5" lengthAdjust="spacingAndGlyphs">3826000</text>
<text x="787.7" y="900.6" font-family="'Liberation Serif', 'Times New Roman', serif" font-size="29.4" font-weight="normal" text-anchor="start" fill="#000" textLength="103.5" lengthAdjust="spacingAndGlyphs">3828000</text>
<text x="787.7" y="733.4" font-family="'Liberation Serif', 'Times New Roman', serif" font-size="29.4" font-weight="normal" text-anchor="start" fill="#000" textLength="103.5" lengthAdjust="spacingAndGlyphs">3830000</text>
<text x="787.7" y="566.2" font-family="'Liberation Serif', 'Times New Roman', serif" font-size="29.4" font-weight="normal" text-anchor="start" fill="#000" textLength="103.5" lengthAdjust="spacingAndGlyphs">3832000</text>
<text x="787.7" y="399.0" font-family="'Liberation Serif', 'Times New Roman', serif" font-size="29.4" font-weight="normal" text-anchor="start" fill="#000" textLength="103.5" lengthAdjust="spacingAndGlyphs">3834000</text>
<text x="787.7" y="231.8" font-family="'Liberation Serif', 'Times New Roman', serif" font-size="29.4" font-weight="normal" text-anchor="start" fill="#000" textLength="103.5" lengthAdjust="spacingAndGlyphs">3836000</text>
<text x="913.7" y="1442.8" font-family="'Liberation Serif', 'Times New Roman', serif" font-size="29.4" font-weight="normal" text-anchor="middle" fill="#000" textLength="89.5" lengthAdjust="spacingAndGlyphs">428000</text>
<text x="1068.1" y="1442.8" font-family="'Liberation Serif', 'Times New Roman', serif" font-size="29.4" font-weight="normal" text-anchor="middle" fill="#000" textLength="89.5" lengthAdjust="spacingAndGlyphs">430000</text>
<text x="1222.5" y="1442.8" font-family="'Liberation Serif', 'Times New Roman', serif" font-size="29.4" font-weight="normal" text-anchor="middle" fill="#000" textLength="89.5" lengthAdjust="spacingAndGlyphs">432000</text>
<text x="1376.9" y="1442.8" font-family="'Liberation Serif', 'Times New Roman', serif" font-size="29.4" font-weight="normal" text-anchor="middle" fill="#000" textLength="89.5" lengthAdjust="spacingAndGlyphs">434000</text>
<text x="1531.3" y="1442.8" font-family="'Liberation Serif', 'Times New Roman', serif" font-size="29.4" font-weight="normal" text-anchor="middle" fill="#000" textLength="89.5" lengthAdjust="spacingAndGlyphs">436000</text>
<text x="1685.7" y="1442.8" font-family="'Liberation Serif', 'Times New Roman', serif" font-size="29.4" font-weight="normal" text-anchor="middle" fill="#000" textLength="89.5" lengthAdjust="spacingAndGlyphs">438000</text>
<text x="1840.1" y="1442.8" font-family="'Liberation Serif', 'Times New Roman', serif" font-size="29.4" font-weight="normal" text-anchor="middle" fill="#000" textLength="89.5" lengthAdjust="spacingAndGlyphs">440000</text>
<text x="1305.0" y="1503.3" font-family="'Liberation Serif', 'Times New Roman', serif" font-size="33.5" font-weight="bold" text-anchor="start" fill="#000" textLength="251.0" lengthAdjust="spacingAndGlyphs">UTM Easting (m)</text>
<text x="0" y="0" transform="translate(1967,1027.5) rotate(-90)" font-family="'Liberation Serif', 'Times New Roman', serif" font-size="33.5" font-weight="bold" textLength="290" lengthAdjust="spacingAndGlyphs">UTM Northing (m)</text>
<rect x="1931.5" y="140.5" width="314" height="519" fill="#fff" stroke="#333" stroke-width="2.2"/>
<text x="2025.6" y="195.2" font-family="'Liberation Serif', 'Times New Roman', serif" font-size="42.5" font-weight="normal" text-anchor="start" fill="#000" textLength="125.0" lengthAdjust="spacingAndGlyphs">Legend</text>
<circle cx="1967.7" cy="247" r="7" fill="#f01010"/>
<text x="2006.0" y="259.0" font-family="'Liberation Serif', 'Times New Roman', serif" font-size="37.0" font-weight="normal" text-anchor="start" fill="#000" textLength="192.0" lengthAdjust="spacingAndGlyphs">LAI-2000 plot</text>
<rect x="1944" y="281.5" width="47.5" height="28" fill="#fff" stroke="#222" stroke-width="2"/>
<text x="2006.0" y="306.0" font-family="'Liberation Serif', 'Times New Roman', serif" font-size="37.0" font-weight="normal" text-anchor="start" fill="#000" textLength="224.5" lengthAdjust="spacingAndGlyphs">LiDAR coverage</text>
<text x="1945.0" y="357.5" font-family="'Liberation Serif', 'Times New Roman', serif" font-size="26.0" font-weight="normal" text-anchor="start" fill="#444" textLength="235.0" lengthAdjust="spacingAndGlyphs" letter-spacing="3">Forest height (m)</text>
<rect x="1944.5" y="376.7" width="47.5" height="29" fill="#f1f9f1"/>
<polyline points="1992,376.7 1992,405.7 1944.5,405.7" fill="none" stroke="#555" stroke-width="2"/>
<text x="2006.0" y="402.7" font-family="'Liberation Serif', 'Times New Roman', serif" font-size="35.0" font-weight="normal" text-anchor="start" fill="#000">0</text>
<rect x="1944.5" y="425.2" width="47.5" height="29" fill="#c6eac8"/>
<polyline points="1992,425.2 1992,454.2 1944.5,454.2" fill="none" stroke="#555" stroke-width="2"/>
<text x="2006.0" y="451.2" font-family="'Liberation Serif', 'Times New Roman', serif" font-size="35.0" font-weight="normal" text-anchor="start" fill="#000">6.0</text>
<rect x="1944.5" y="472.0" width="47.5" height="29" fill="#7fd398"/>
<polyline points="1992,472.0 1992,501.0 1944.5,501.0" fill="none" stroke="#555" stroke-width="2"/>
<text x="2006.0" y="498.0" font-family="'Liberation Serif', 'Times New Roman', serif" font-size="35.0" font-weight="normal" text-anchor="start" fill="#000">14.0</text>
<rect x="1944.5" y="519.5" width="47.5" height="29" fill="#02b45e"/>
<polyline points="1992,519.5 1992,548.5 1944.5,548.5" fill="none" stroke="#555" stroke-width="2"/>
<text x="2006.0" y="545.5" font-family="'Liberation Serif', 'Times New Roman', serif" font-size="35.0" font-weight="normal" text-anchor="start" fill="#000">20.0</text>
<rect x="1944.5" y="567.2" width="47.5" height="29" fill="#058639"/>
<polyline points="1992,567.2 1992,596.2 1944.5,596.2" fill="none" stroke="#555" stroke-width="2"/>
<text x="2006.0" y="593.2" font-family="'Liberation Serif', 'Times New Roman', serif" font-size="35.0" font-weight="normal" text-anchor="start" fill="#000">26.0</text>
<rect x="1944.5" y="615.3" width="47.5" height="29" fill="#003f14"/>
<polyline points="1992,615.3 1992,644.3 1944.5,644.3" fill="none" stroke="#555" stroke-width="2"/>
<text x="2006.0" y="641.3" font-family="'Liberation Serif', 'Times New Roman', serif" font-size="35.0" font-weight="normal" text-anchor="start" fill="#000">32.0</text>
<text x="929.3" y="89.6" font-family="'Liberation Sans', Arial, sans-serif" font-size="59.6" font-weight="normal" text-anchor="start" fill="#000" textLength="1134.0" lengthAdjust="spacingAndGlyphs">(c) LiDAR coverage and field LAI-2000 plots</text>
<text x="368.6" y="177.6" font-family="'Liberation Serif', 'Times New Roman', serif" font-size="54.0" font-weight="bold" text-anchor="start" fill="#000" textLength="161.5" lengthAdjust="spacingAndGlyphs">(a) USA</text>
<text x="32.0" y="286.0" font-family="'Liberation Serif', 'Times New Roman', serif" font-size="42.0" font-weight="bold" text-anchor="start" fill="#000" textLength="83.5" lengthAdjust="spacingAndGlyphs">40°N</text>
<text x="32.0" y="464.8" font-family="'Liberation Serif', 'Times New Roman', serif" font-size="42.0" font-weight="bold" text-anchor="start" fill="#000" textLength="83.5" lengthAdjust="spacingAndGlyphs">30°N</text>
<text x="32.0" y="627.6" font-family="'Liberation Serif', 'Times New Roman', serif" font-size="42.0" font-weight="bold" text-anchor="start" fill="#000" textLength="83.5" lengthAdjust="spacingAndGlyphs">20°N</text>
<text x="78.0" y="688.6" font-family="'Liberation Serif', 'Times New Roman', serif" font-size="42.0" font-weight="bold" text-anchor="start" fill="#000" textLength="116.0" lengthAdjust="spacingAndGlyphs">120°W</text>
<text x="318.8" y="688.6" font-family="'Liberation Serif', 'Times New Roman', serif" font-size="42.0" font-weight="bold" text-anchor="start" fill="#000" textLength="112.8" lengthAdjust="spacingAndGlyphs">100°W</text>
<text x="537.6" y="688.6" font-family="'Liberation Serif', 'Times New Roman', serif" font-size="42.0" font-weight="bold" text-anchor="start" fill="#000" textLength="93.6" lengthAdjust="spacingAndGlyphs">80°W</text>
<clipPath id="usaclip"><rect x="129" y="199" width="596" height="448"/></clipPath>
<g clip-path="url(#usaclip)">
<polyline points="-183.9,762.4 -181.8,753.4 -179.6,744.4 -177.4,735.5 -175.1,726.6 -172.7,717.7 -170.3,708.9 -167.9,700.1 -165.3,691.4 -162.7,682.7 -160.1,674.0 -157.4,665.3 -154.6,656.7 -151.8,648.2 -149.0,639.7 -146.1,631.2 -143.1,622.7 -140.1,614.3 -137.0,605.9 -133.9,597.6 -130.7,589.3 -127.5,581.0 -124.2,572.8 -120.9,564.6 -117.5,556.4 -114.1,548.3 -110.6,540.3 -107.1,532.2 -103.6,524.2 -100.0,516.3 -96.3,508.4 -92.6,500.5 -88.9,492.7 -85.1,484.9 -81.3,477.1 -77.4,469.4 -73.5,461.7 -69.6,454.1 -65.6,446.5 -61.6,439.0 -57.5,431.5 -53.4,424.0 -49.3,416.6 -45.1,409.2 -40.9,401.9 -36.6,394.6 -32.4,387.4 -28.0,380.2 -23.7,373.0 -19.3,365.9 -14.9,358.8 -10.4,351.8 -5.9,344.8 -1.4,337.9 3.2,331.0 7.8,324.2 12.4,317.4 17.0,310.6 21.7,303.9 26.4,297.3 31.2,290.6 35.9,284.1 40.7,277.6 45.6,271.1 50.4,264.7 55.3,258.3 60.2,252.0 65.1,245.8 70.1,239.5 75.1,233.4 80.1,227.3 85.1,221.2 90.1,215.2 95.2,209.2 100.3,203.3 105.4,197.5 110.6,191.7 115.8,185.9 120.9,180.2 126.2,174.6 131.4,169.0 136.6,163.5 141.9,158.0 147.2,152.6 152.5,147.2 157.8,141.9 163.1,136.6 168.5,131.4 173.9,126.3 179.3,121.2 184.7,116.2 190.1,111.2 195.5,106.3 201.0,101.5 206.4,96.7 211.9,91.9 217.4,87.3 222.9,82.7 228.4,78.1 234.0,73.6 239.5,69.2 245.0,64.8 250.6,60.5 256.2,56.3 261.8,52.1 267.4,48.0 273.0,44.0 278.6,40.0 284.2,36.1 289.8,32.2 295.5,28.4 301.1,24.7 306.7,21.0 312.4,17.5 318.1,13.9 323.7,10.5 329.4,7.1 335.1,3.8 340.8,0.5 346.5,-2.6 352.1,-5.7 357.8,-8.8 363.5,-11.7 369.2,-14.6 374.9,-17.5 380.6,-20.2 386.4,-22.9 392.1,-25.5 397.8,-28.0 403.5,-30.5 409.2,-32.8" fill="none" stroke="#000" stroke-width="2.4" stroke-linejoin="round" stroke-linecap="round"/>
<polyline points="111.8,833.7 112.2,826.3 112.7,818.8 113.3,811.4 113.8,804.0 114.5,796.6 115.2,789.2 115.9,781.8 116.7,774.5 117.5,767.1 118.4,759.8 119.4,752.5 120.4,745.2 121.4,737.9 122.5,730.6 123.6,723.3 124.8,716.1 126.0,708.8 127.3,701.6 128.6,694.4 129.9,687.2 131.3,680.0 132.7,672.9 134.2,665.7 135.7,658.6 137.3,651.5 138.9,644.3 140.6,637.3 142.2,630.2 144.0,623.1 145.7,616.1 147.5,609.1 149.3,602.1 151.2,595.1 153.1,588.1 155.1,581.2 157.1,574.3 159.1,567.3 161.1,560.5 163.2,553.6 165.3,546.7 167.5,539.9 169.7,533.1 171.9,526.3 174.1,519.5 176.4,512.8 178.7,506.1 181.0,499.4 183.4,492.7 185.8,486.0 188.2,479.4 190.7,472.8 193.2,466.2 195.7,459.6 198.2,453.1 200.8,446.5 203.4,440.0 206.0,433.6 208.7,427.1 211.3,420.7 214.0,414.3 216.7,407.9 219.5,401.6 222.2,395.3 225.0,389.0 227.8,382.7 230.7,376.5 233.5,370.3 236.4,364.1 239.3,358.0 242.2,351.8 245.1,345.8 248.1,339.7 251.0,333.7 254.0,327.7 257.0,321.7 260.1,315.7 263.1,309.8 266.1,304.0 269.2,298.1 272.3,292.3 275.4,286.5 278.5,280.8 281.7,275.1 284.8,269.4 288.0,263.7 291.1,258.1 294.3,252.5 297.5,247.0 300.7,241.5 304.0,236.0 307.2,230.6 310.4,225.2 313.7,219.8 317.0,214.5 320.2,209.2 323.5,203.9 326.8,198.7 330.1,193.5 333.4,188.4 336.7,183.3 340.1,178.3 343.4,173.2 346.7,168.3 350.1,163.3 353.4,158.4 356.8,153.6 360.1,148.8 363.5,144.0 366.9,139.3 370.2,134.6 373.6,129.9 377.0,125.3 380.4,120.8 383.7,116.3 387.1,111.8 390.5,107.4 393.9,103.0 397.3,98.7 400.7,94.4 404.1,90.1 407.5,85.9 410.9,81.8 414.3,77.7 417.6,73.6 421.0,69.6 424.4,65.7 427.8,61.8 431.2,57.9 434.6,54.1 437.9,50.4" fill="none" stroke="#000" stroke-width="2.4" stroke-linejoin="round" stroke-linecap="round"/>
<polyline points="377.0,856.3 376.4,850.1 375.8,843.9 375.3,837.6 374.8,831.3 374.4,825.1 374.0,818.8 373.7,812.5 373.4,806.2 373.1,800.0 372.9,793.7 372.7,787.4 372.6,781.1 372.5,774.8 372.4,768.5 372.4,762.2 372.4,755.9 372.4,749.6 372.5,743.3 372.6,737.0 372.8,730.7 373.0,724.3 373.2,718.0 373.4,711.7 373.7,705.4 374.0,699.1 374.4,692.8 374.8,686.5 375.2,680.1 375.6,673.8 376.1,667.5 376.6,661.2 377.1,654.9 377.7,648.6 378.3,642.3 378.9,636.0 379.5,629.7 380.2,623.4 380.9,617.1 381.6,610.8 382.3,604.5 383.1,598.2 383.9,592.0 384.7,585.7 385.6,579.4 386.4,573.1 387.3,566.9 388.2,560.6 389.2,554.4 390.1,548.1 391.1,541.9 392.1,535.7 393.1,529.5 394.1,523.2 395.2,517.0 396.2,510.8 397.3,504.6 398.4,498.5 399.6,492.3 400.7,486.1 401.8,480.0 403.0,473.8 404.2,467.7 405.4,461.6 406.6,455.4 407.8,449.3 409.1,443.2 410.3,437.2 411.6,431.1 412.8,425.0 414.1,419.0 415.4,413.0 416.7,406.9 418.0,400.9 419.4,394.9 420.7,389.0 422.0,383.0 423.4,377.0 424.8,371.1 426.1,365.2 427.5,359.3 428.9,353.4 430.3,347.5 431.6,341.7 433.0,335.8 434.4,330.0 435.8,324.2 437.2,318.4 438.7,312.6 440.1,306.9 441.5,301.1 442.9,295.4 444.3,289.7 445.7,284.0 447.2,278.4 448.6,272.7 450.0,267.1 451.4,261.5 452.9,255.9 454.3,250.4 455.7,244.8 457.1,239.3 458.5,233.8 459.9,228.4 461.3,222.9 462.7,217.5 464.1,212.1 465.5,206.7 466.9,201.4 468.3,196.0 469.7,190.7 471.0,185.4 472.4,180.2 473.7,174.9 475.1,169.7 476.4,164.6 477.8,159.4 479.1,154.3 480.4,149.2 481.7,144.1 483.0,139.1 484.3,134.0 485.5,129.0 486.8,124.1 488.1,119.1 489.3,114.2 490.5,109.4 491.7,104.5 492.9,99.7 494.1,94.9 495.3,90.1" fill="none" stroke="#000" stroke-width="2.4" stroke-linejoin="round" stroke-linecap="round"/>
<polyline points="613.0,847.6 611.8,842.2 610.6,836.7 609.5,831.3 608.4,825.8 607.3,820.3 606.3,814.7 605.2,809.2 604.3,803.6 603.3,798.1 602.4,792.5 601.5,786.9 600.6,781.3 599.8,775.7 599.0,770.0 598.2,764.4 597.5,758.7 596.8,753.0 596.1,747.3 595.4,741.6 594.8,735.9 594.2,730.1 593.6,724.4 593.0,718.6 592.5,712.9 592.0,707.1 591.5,701.3 591.0,695.5 590.6,689.7 590.1,683.9 589.7,678.0 589.3,672.2 589.0,666.3 588.6,660.5 588.3,654.6 588.0,648.7 587.7,642.8 587.4,636.9 587.1,631.0 586.9,625.1 586.7,619.2 586.5,613.2 586.3,607.3 586.1,601.4 585.9,595.4 585.8,589.5 585.6,583.5 585.5,577.5 585.4,571.6 585.3,565.6 585.2,559.6 585.1,553.6 585.0,547.6 584.9,541.6 584.9,535.6 584.8,529.6 584.8,523.6 584.8,517.6 584.7,511.6 584.7,505.6 584.7,499.6 584.7,493.5 584.7,487.5 584.7,481.5 584.7,475.5 584.7,469.5 584.7,463.4 584.7,457.4 584.8,451.4 584.8,445.4 584.8,439.3 584.8,433.3 584.8,427.3 584.9,421.3 584.9,415.3 584.9,409.3 584.9,403.3 584.9,397.2 584.9,391.2 584.9,385.2 584.9,379.2 584.9,373.3 584.9,367.3 584.9,361.3 584.9,355.3 584.9,349.3 584.8,343.4 584.8,337.4 584.8,331.4 584.7,325.5 584.6,319.5 584.6,313.6 584.5,307.7 584.4,301.8 584.3,295.8 584.2,289.9 584.0,284.0 583.9,278.1 583.8,272.3 583.6,266.4 583.4,260.5 583.2,254.7 583.0,248.8 582.8,243.0 582.5,237.2 582.3,231.4 582.0,225.6 581.7,219.8 581.4,214.0 581.1,208.2 580.7,202.5 580.4,196.7 580.0,191.0 579.6,185.3 579.2,179.6 578.7,173.9 578.2,168.2 577.8,162.5 577.2,156.9 576.7,151.3 576.1,145.6 575.6,140.0 575.0,134.4 574.3,128.9 573.7,123.3 573.0,117.8 572.3,112.2 571.5,106.7 570.8,101.2 570.0,95.7 569.1,90.3" fill="none" stroke="#000" stroke-width="2.4" stroke-linejoin="round" stroke-linecap="round"/>
<polyline points="821.8,816.1 820.2,811.1 818.6,806.0 817.1,801.0 815.6,795.9 814.1,790.7 812.7,785.6 811.2,780.4 809.8,775.2 808.4,770.0 807.1,764.8 805.7,759.5 804.4,754.2 803.1,748.9 801.8,743.6 800.5,738.2 799.3,732.9 798.0,727.5 796.8,722.1 795.6,716.7 794.5,711.2 793.3,705.8 792.1,700.3 791.0,694.8 789.9,689.3 788.8,683.7 787.7,678.2 786.6,672.6 785.5,667.0 784.5,661.4 783.5,655.8 782.4,650.1 781.4,644.5 780.4,638.8 779.4,633.1 778.4,627.4 777.4,621.7 776.4,615.9 775.5,610.2 774.5,604.4 773.6,598.6 772.6,592.8 771.7,587.0 770.7,581.2 769.8,575.3 768.9,569.5 767.9,563.6 767.0,557.7 766.1,551.9 765.2,546.0 764.3,540.0 763.4,534.1 762.4,528.2 761.5,522.2 760.6,516.3 759.7,510.3 758.8,504.3 757.8,498.4 756.9,492.4 756.0,486.4 755.1,480.3 754.1,474.3 753.2,468.3 752.2,462.3 751.3,456.2 750.3,450.2 749.4,444.1 748.4,438.0 747.4,432.0 746.4,425.9 745.4,419.8 744.4,413.7 743.4,407.6 742.4,401.5 741.3,395.4 740.3,389.3 739.2,383.2 738.1,377.1 737.0,371.0 735.9,364.8 734.8,358.7 733.7,352.6 732.5,346.5 731.4,340.3 730.2,334.2 729.0,328.1 727.8,321.9 726.5,315.8 725.3,309.6 724.0,303.5 722.7,297.4 721.4,291.2 720.1,285.1 718.7,279.0 717.3,272.8 715.9,266.7 714.5,260.6 713.0,254.5 711.6,248.3 710.1,242.2 708.5,236.1 707.0,230.0 705.4,223.9 703.8,217.8 702.2,211.7 700.5,205.6 698.8,199.5 697.1,193.4 695.3,187.3 693.5,181.3 691.7,175.2 689.9,169.1 688.0,163.1 686.1,157.0 684.1,151.0 682.2,145.0 680.1,138.9 678.1,132.9 676.0,126.9 673.9,120.9 671.7,114.9 669.5,109.0 667.3,103.0 665.0,97.0 662.7,91.1 660.3,85.1 657.9,79.2 655.5,73.3 653.0,67.4 650.5,61.5 647.9,55.6" fill="none" stroke="#000" stroke-width="2.4" stroke-linejoin="round" stroke-linecap="round"/>
<polyline points="1005.1,762.9 1003.2,757.9 1001.3,752.8 999.5,747.7 997.7,742.7 995.9,737.5 994.1,732.4 992.3,727.2 990.5,722.0 988.8,716.8 987.0,711.6 985.3,706.3 983.6,701.0 981.8,695.7 980.1,690.4 978.5,685.1 976.8,679.7 975.1,674.3 973.4,668.9 971.8,663.4 970.1,658.0 968.5,652.5 966.9,647.0 965.2,641.5 963.6,635.9 962.0,630.4 960.4,624.8 958.8,619.2 957.2,613.6 955.6,607.9 954.0,602.3 952.4,596.6 950.8,590.9 949.3,585.2 947.7,579.4 946.1,573.7 944.5,567.9 942.9,562.1 941.3,556.3 939.8,550.5 938.2,544.7 936.6,538.8 935.0,532.9 933.4,527.1 931.8,521.2 930.2,515.2 928.6,509.3 927.0,503.4 925.3,497.4 923.7,491.4 922.1,485.4 920.4,479.5 918.8,473.4 917.1,467.4 915.5,461.4 913.8,455.3 912.1,449.3 910.4,443.2 908.7,437.1 907.0,431.0 905.2,424.9 903.5,418.8 901.7,412.7 900.0,406.5 898.2,400.4 896.4,394.2 894.6,388.1 892.7,381.9 890.9,375.7 889.0,369.6 887.1,363.4 885.2,357.2 883.3,351.0 881.4,344.8 879.4,338.5 877.4,332.3 875.4,326.1 873.4,319.8 871.4,313.6 869.3,307.4 867.2,301.1 865.1,294.9 863.0,288.6 860.8,282.4 858.6,276.1 856.4,269.8 854.2,263.6 851.9,257.3 849.6,251.1 847.3,244.8 844.9,238.5 842.5,232.3 840.1,226.0 837.7,219.7 835.2,213.5 832.7,207.2 830.1,200.9 827.6,194.7 825.0,188.4 822.3,182.2 819.6,175.9 816.9,169.7 814.2,163.4 811.4,157.2 808.6,150.9 805.7,144.7 802.8,138.5 799.9,132.3 796.9,126.0 793.9,119.8 790.8,113.6 787.7,107.4 784.6,101.3 781.4,95.1 778.2,88.9 774.9,82.7 771.6,76.6 768.2,70.5 764.8,64.3 761.3,58.2 757.8,52.1 754.3,46.0 750.7,39.9 747.0,33.8 743.3,27.7 739.6,21.7 735.8,15.6 731.9,9.6 728.0,3.6 724.1,-2.4 720.1,-8.4" fill="none" stroke="#000" stroke-width="2.4" stroke-linejoin="round" stroke-linecap="round"/>
<polyline points="-610.0,379.8 -602.4,387.1 -594.8,394.2 -587.3,401.3 -579.7,408.2 -572.1,415.1 -564.5,421.9 -556.9,428.5 -549.3,435.1 -541.7,441.6 -534.1,448.0 -526.5,454.3 -518.9,460.5 -511.3,466.7 -503.7,472.7 -496.0,478.7 -488.4,484.6 -480.8,490.4 -473.2,496.1 -465.6,501.8 -458.0,507.3 -450.4,512.8 -442.9,518.2 -435.3,523.5 -427.7,528.8 -420.1,534.0 -412.5,539.1 -405.0,544.1 -397.4,549.1 -389.9,554.0 -382.3,558.8 -374.8,563.5 -367.2,568.2 -359.7,572.8 -352.2,577.3 -344.7,581.8 -337.2,586.2 -329.7,590.6 -322.2,594.8 -314.7,599.0 -307.2,603.2 -299.8,607.3 -292.3,611.3 -284.9,615.3 -277.5,619.2 -270.0,623.0 -262.6,626.8 -255.2,630.5 -247.9,634.2 -240.5,637.8 -233.1,641.4 -225.8,644.9 -218.4,648.3 -211.1,651.7 -203.8,655.1 -196.5,658.3 -189.2,661.6 -181.9,664.7 -174.6,667.9 -167.3,671.0 -160.1,674.0 -152.9,677.0 -145.6,679.9 -138.4,682.8 -131.2,685.6 -124.1,688.4 -116.9,691.1 -109.7,693.8 -102.6,696.5 -95.5,699.1 -88.4,701.6 -81.3,704.1 -74.2,706.6 -67.1,709.0 -60.0,711.4 -53.0,713.8 -46.0,716.1 -38.9,718.3 -31.9,720.5 -24.9,722.7 -18.0,724.9 -11.0,726.9 -4.1,729.0 2.9,731.0 9.8,733.0 16.7,734.9 23.6,736.9 30.4,738.7 37.3,740.6 44.1,742.3 51.0,744.1 57.8,745.8 64.6,747.5 71.4,749.2 78.1,750.8 84.9,752.4 91.6,753.9 98.4,755.4 105.1,756.9 111.8,758.4 118.4,759.8 125.1,761.2 131.8,762.6 138.4,763.9 145.0,765.2 151.6,766.4 158.2,767.7 164.8,768.9 171.3,770.1 177.9,771.2 184.4,772.3 190.9,773.4 197.4,774.5 203.9,775.5 210.3,776.5 216.8,777.5 223.2,778.4 229.6,779.3 236.0,780.2 242.4,781.1 248.8,782.0 255.1,782.8 261.5,783.6 267.8,784.3 274.1,785.1 280.4,785.8 286.7,786.5 292.9,787.1 299.2,787.8 305.4,788.4 311.6,789.0 317.8,789.6 324.0,790.1 330.2,790.6 336.3,791.1 342.5,791.6 348.6,792.1 354.7,792.5 360.8,792.9 366.8,793.3 372.9,793.7 378.9,794.0 385.0,794.3 391.0,794.7 397.0,794.9 403.0,795.2 408.9,795.4 414.9,795.7 420.8,795.9 426.7,796.0 432.6,796.2 438.5,796.3 444.4,796.5 450.2,796.6 456.1,796.7 461.9,796.7 467.7,796.8 473.5,796.8 479.3,796.8 485.0,796.8 490.8,796.8 496.5,796.7 502.2,796.6 507.9,796.6 513.6,796.5 519.3,796.3 524.9,796.2 530.5,796.1 536.2,795.9 541.8,795.7 547.4,795.5 552.9,795.3 558.5,795.0 564.0,794.8 569.6,794.5 575.1,794.2 580.6,793.9 586.0,793.6 591.5,793.2 597.0,792.9 602.4,792.5 607.8,792.1 613.2,791.7 618.6,791.3 624.0,790.8 629.3,790.4 634.7,789.9 640.0,789.4 645.3,788.9 650.6,788.4 655.9,787.9 661.1,787.3 666.4,786.8 671.6,786.2 676.8,785.6 682.0,785.0 687.2,784.4 692.4,783.7 697.6,783.1 702.7,782.4 707.8,781.7 712.9,781.0 718.0,780.3 723.1,779.5 728.2,778.8 733.2,778.0 738.2,777.3 743.3,776.5 748.3,775.6 753.2,774.8 758.2,774.0 763.2,773.1 768.1,772.3 773.0,771.4 777.9,770.5 782.8,769.6 787.7,768.6 792.6,767.7 797.4,766.7 802.2,765.7 807.1,764.8 811.9,763.7 816.6,762.7 821.4,761.7 826.2,760.6 830.9,759.6 835.6,758.5 840.3,757.4 845.0,756.3 849.7,755.1 854.4,754.0 859.0,752.8 863.7,751.6 868.3,750.4 872.9,749.2 877.5,748.0 882.0,746.7 886.6,745.5 891.1,744.2 895.6,742.9 900.1,741.6 904.6,740.3 909.1,738.9 913.6,737.5 918.0,736.2 922.4,734.8 926.9,733.3 931.3,731.9 935.6,730.5 940.0,729.0 944.4,727.5 948.7,726.0 953.0,724.5 957.3,722.9 961.6,721.4 965.9,719.8 970.1,718.2 974.4,716.6 978.6,714.9 982.8,713.3 987.0,711.6 991.2,709.9 995.3,708.2 999.5,706.4 1003.6,704.7 1007.7,702.9 1011.8,701.1 1015.9,699.3 1020.0,697.4 1024.0,695.6 1028.1,693.7 1032.1,691.8 1036.1,689.8 1040.1,687.9 1044.0,685.9 1048.0,683.9 1051.9,681.9 1055.8,679.9 1059.7,677.8 1063.6,675.7 1067.5,673.6" fill="none" stroke="#000" stroke-width="2.4" stroke-linejoin="round" stroke-linecap="round"/>
<polyline points="-454.9,184.7 -449.3,192.2 -443.7,199.6 -438.1,207.0 -432.4,214.3 -426.8,221.5 -421.1,228.6 -415.4,235.6 -409.6,242.5 -403.9,249.4 -398.1,256.2 -392.3,262.9 -386.5,269.5 -380.7,276.1 -374.9,282.6 -369.0,289.0 -363.1,295.3 -357.2,301.5 -351.3,307.7 -345.4,313.8 -339.5,319.9 -333.6,325.8 -327.6,331.7 -321.6,337.5 -315.6,343.3 -309.7,348.9 -303.7,354.6 -297.6,360.1 -291.6,365.6 -285.6,371.0 -279.6,376.3 -273.5,381.6 -267.5,386.8 -261.4,391.9 -255.3,397.0 -249.3,402.0 -243.2,407.0 -237.1,411.9 -231.0,416.7 -224.9,421.5 -218.8,426.2 -212.7,430.8 -206.6,435.4 -200.5,439.9 -194.4,444.4 -188.3,448.8 -182.1,453.2 -176.0,457.5 -169.9,461.7 -163.8,465.9 -157.6,470.0 -151.5,474.1 -145.4,478.1 -139.2,482.1 -133.1,486.0 -127.0,489.8 -120.8,493.7 -114.7,497.4 -108.6,501.1 -102.4,504.8 -96.3,508.4 -90.2,511.9 -84.1,515.4 -77.9,518.9 -71.8,522.3 -65.7,525.7 -59.6,529.0 -53.5,532.2 -47.4,535.5 -41.2,538.6 -35.1,541.7 -29.0,544.8 -22.9,547.9 -16.8,550.9 -10.8,553.8 -4.7,556.7 1.4,559.6 7.5,562.4 13.6,565.1 19.6,567.9 25.7,570.6 31.8,573.2 37.8,575.8 43.9,578.4 49.9,580.9 55.9,583.4 62.0,585.8 68.0,588.2 74.0,590.6 80.0,592.9 86.0,595.2 92.0,597.5 98.0,599.7 104.0,601.9 110.0,604.0 116.0,606.1 121.9,608.2 127.9,610.2 133.8,612.2 139.8,614.2 145.7,616.1 151.6,618.0 157.6,619.8 163.5,621.7 169.4,623.5 175.3,625.2 181.2,626.9 187.1,628.6 192.9,630.3 198.8,631.9 204.7,633.5 210.5,635.1 216.3,636.6 222.2,638.1 228.0,639.5 233.8,641.0 239.6,642.4 245.4,643.8 251.2,645.1 257.0,646.4 262.7,647.7 268.5,649.0 274.3,650.2 280.0,651.4 285.7,652.5 291.4,653.7 297.2,654.8 302.9,655.9 308.6,656.9 314.2,658.0 319.9,659.0 325.6,659.9 331.2,660.9 336.9,661.8 342.5,662.7 348.1,663.6 353.7,664.4 359.3,665.2 364.9,666.0 370.5,666.8 376.1,667.5 381.6,668.2 387.2,668.9 392.7,669.6 398.3,670.2 403.8,670.8 409.3,671.4 414.8,672.0 420.3,672.5 425.7,673.1 431.2,673.6 436.6,674.0 442.1,674.5 447.5,674.9 452.9,675.3 458.3,675.7 463.7,676.0 469.1,676.4 474.5,676.7 479.9,677.0 485.2,677.2 490.5,677.5 495.9,677.7 501.2,677.9 506.5,678.1 511.8,678.2 517.1,678.4 522.3,678.5 527.6,678.6 532.8,678.6 538.1,678.7 543.3,678.7 548.5,678.7 553.7,678.7 558.9,678.7 564.0,678.6 569.2,678.5 574.4,678.4 579.5,678.3 584.6,678.2 589.7,678.0 594.8,677.8 599.9,677.7 605.0,677.4 610.0,677.2 615.1,676.9 620.1,676.7 625.1,676.4 630.2,676.0 635.2,675.7 640.1,675.4 645.1,675.0 650.1,674.6 655.0,674.2 659.9,673.7 664.9,673.3 669.8,672.8 674.7,672.3 679.5,671.8 684.4,671.3 689.3,670.7 694.1,670.2 698.9,669.6 703.7,669.0 708.5,668.3 713.3,667.7 718.1,667.0 722.9,666.4 727.6,665.7 732.3,664.9 737.0,664.2 741.8,663.4 746.4,662.7 751.1,661.9 755.8,661.0 760.4,660.2 765.1,659.4 769.7,658.5 774.3,657.6 778.9,656.7 783.5,655.8 788.0,654.8 792.6,653.8 797.1,652.9 801.6,651.8 806.1,650.8 810.6,649.8 815.1,648.7 819.5,647.6 824.0,646.5 828.4,645.4 832.8,644.3 837.2,643.1 841.6,641.9 846.0,640.7 850.3,639.5 854.7,638.2 859.0,637.0 863.3,635.7 867.6,634.4 871.9,633.1 876.1,631.7 880.4,630.4 884.6,629.0 888.8,627.6 893.0,626.2 897.2,624.7 901.4,623.3 905.5,621.8 909.7,620.3 913.8,618.7 917.9,617.2 922.0,615.6 926.0,614.0 930.1,612.4 934.1,610.8 938.1,609.1 942.1,607.4 946.1,605.7 950.1,604.0 954.0,602.3 957.9,600.5 961.9,598.7 965.8,596.9 969.6,595.0 973.5,593.2 977.3,591.3 981.2,589.4 985.0,587.5 988.7,585.5 992.5,583.5 996.3,581.5 1000.0,579.5 1003.7,577.4 1007.4,575.3 1011.1,573.2 1014.7,571.1 1018.3,568.9 1022.0,566.8 1025.6,564.6 1029.1,562.3" fill="none" stroke="#000" stroke-width="2.4" stroke-linejoin="round" stroke-linecap="round"/>
<polyline points="-285.2,25.9 -281.4,33.3 -277.6,40.7 -273.8,47.9 -269.9,55.1 -266.0,62.3 -262.1,69.3 -258.1,76.3 -254.1,83.2 -250.1,90.1 -246.0,96.9 -241.9,103.6 -237.8,110.2 -233.6,116.8 -229.4,123.3 -225.2,129.8 -221.0,136.2 -216.7,142.5 -212.4,148.8 -208.1,154.9 -203.8,161.1 -199.4,167.1 -195.0,173.2 -190.6,179.1 -186.1,185.0 -181.7,190.8 -177.2,196.6 -172.7,202.3 -168.2,207.9 -163.6,213.5 -159.1,219.0 -154.5,224.5 -149.9,229.9 -145.2,235.2 -140.6,240.5 -135.9,245.7 -131.3,250.9 -126.6,256.0 -121.9,261.1 -117.1,266.1 -112.4,271.0 -107.6,275.9 -102.9,280.7 -98.1,285.5 -93.3,290.2 -88.5,294.9 -83.6,299.5 -78.8,304.1 -73.9,308.6 -69.1,313.1 -64.2,317.5 -59.3,321.8 -54.4,326.2 -49.5,330.4 -44.6,334.6 -39.7,338.8 -34.7,342.9 -29.8,346.9 -24.8,350.9 -19.8,354.9 -14.9,358.8 -9.9,362.7 -4.9,366.5 0.1,370.3 5.1,374.0 10.1,377.7 15.1,381.3 20.2,384.9 25.2,388.4 30.3,391.9 35.3,395.3 40.3,398.7 45.4,402.1 50.5,405.4 55.5,408.7 60.6,411.9 65.7,415.1 70.8,418.2 75.8,421.3 80.9,424.4 86.0,427.4 91.1,430.4 96.2,433.3 101.3,436.2 106.4,439.1 111.5,441.9 116.6,444.6 121.7,447.4 126.8,450.1 132.0,452.7 137.1,455.3 142.2,457.9 147.3,460.4 152.4,462.9 157.5,465.4 162.7,467.8 167.8,470.2 172.9,472.6 178.0,474.9 183.1,477.1 188.2,479.4 193.4,481.6 198.5,483.8 203.6,485.9 208.7,488.0 213.8,490.0 218.9,492.1 224.1,494.1 229.2,496.0 234.3,497.9 239.4,499.8 244.5,501.7 249.6,503.5 254.7,505.3 259.8,507.1 264.9,508.8 270.0,510.5 275.1,512.1 280.2,513.8 285.2,515.4 290.3,516.9 295.4,518.5 300.5,520.0 305.5,521.4 310.6,522.9 315.7,524.3 320.7,525.7 325.8,527.0 330.8,528.3 335.9,529.6 340.9,530.9 346.0,532.1 351.0,533.3 356.0,534.5 361.1,535.6 366.1,536.8 371.1,537.8 376.1,538.9 381.1,539.9 386.1,540.9 391.1,541.9 396.1,542.9 401.1,543.8 406.0,544.7 411.0,545.5 416.0,546.4 420.9,547.2 425.9,548.0 430.8,548.7 435.8,549.4 440.7,550.1 445.6,550.8 450.5,551.5 455.5,552.1 460.4,552.7 465.3,553.3 470.1,553.8 475.0,554.3 479.9,554.8 484.8,555.3 489.6,555.8 494.5,556.2 499.3,556.6 504.2,556.9 509.0,557.3 513.8,557.6 518.6,557.9 523.5,558.2 528.3,558.4 533.0,558.7 537.8,558.9 542.6,559.0 547.4,559.2 552.1,559.3 556.9,559.4 561.6,559.5 566.3,559.6 571.1,559.6 575.8,559.6 580.5,559.6 585.2,559.6 589.9,559.5 594.5,559.5 599.2,559.4 603.9,559.2 608.5,559.1 613.1,558.9 617.8,558.7 622.4,558.5 627.0,558.3 631.6,558.0 636.2,557.7 640.7,557.4 645.3,557.1 649.9,556.8 654.4,556.4 658.9,556.0 663.5,555.6 668.0,555.2 672.5,554.7 677.0,554.2 681.4,553.7 685.9,553.2 690.4,552.6 694.8,552.1 699.2,551.5 703.7,550.9 708.1,550.2 712.5,549.6 716.8,548.9 721.2,548.2 725.6,547.5 729.9,546.8 734.3,546.0 738.6,545.2 742.9,544.4 747.2,543.6 751.5,542.7 755.8,541.9 760.0,541.0 764.3,540.0 768.5,539.1 772.7,538.2 776.9,537.2 781.1,536.2 785.3,535.2 789.5,534.1 793.6,533.0 797.8,532.0 801.9,530.8 806.0,529.7 810.1,528.6 814.2,527.4 818.2,526.2 822.3,525.0 826.3,523.7 830.3,522.5 834.4,521.2 838.3,519.9 842.3,518.6 846.3,517.2 850.2,515.8 854.2,514.4 858.1,513.0 862.0,511.6 865.9,510.1 869.7,508.6 873.6,507.1 877.4,505.6 881.2,504.0 885.0,502.5 888.8,500.9 892.6,499.3 896.3,497.6 900.1,495.9 903.8,494.3 907.5,492.5 911.1,490.8 914.8,489.0 918.5,487.3 922.1,485.4 925.7,483.6 929.3,481.8 932.8,479.9 936.4,478.0 939.9,476.1 943.4,474.1 946.9,472.1 950.4,470.1 953.8,468.1 957.3,466.0 960.7,464.0 964.1,461.9 967.4,459.7 970.8,457.6 974.1,455.4 977.4,453.2 980.7,451.0 984.0,448.7 987.2,446.5 990.4,444.2" fill="none" stroke="#000" stroke-width="2.4" stroke-linejoin="round" stroke-linecap="round"/>
<polyline points="-106.0,-97.1 -103.8,-90.1 -101.7,-83.2 -99.4,-76.4 -97.2,-69.6 -94.9,-62.8 -92.5,-56.1 -90.1,-49.5 -87.7,-42.9 -85.2,-36.4 -82.7,-30.0 -80.2,-23.6 -77.6,-17.2 -75.0,-10.9 -72.3,-4.7 -69.7,1.5 -66.9,7.7 -64.2,13.8 -61.4,19.8 -58.6,25.8 -55.7,31.7 -52.8,37.6 -49.9,43.4 -47.0,49.1 -44.0,54.8 -41.0,60.5 -37.9,66.1 -34.9,71.7 -31.8,77.2 -28.6,82.6 -25.5,88.0 -22.3,93.4 -19.1,98.7 -15.8,103.9 -12.6,109.1 -9.3,114.3 -6.0,119.4 -2.6,124.4 0.7,129.4 4.1,134.4 7.5,139.3 11.0,144.1 14.4,148.9 17.9,153.7 21.4,158.4 24.9,163.0 28.5,167.6 32.0,172.2 35.6,176.7 39.2,181.2 42.8,185.6 46.5,190.0 50.1,194.3 53.8,198.6 57.5,202.8 61.2,207.0 65.0,211.1 68.7,215.2 72.5,219.3 76.3,223.3 80.1,227.3 83.9,231.2 87.7,235.1 91.6,238.9 95.4,242.7 99.3,246.4 103.2,250.1 107.1,253.8 111.0,257.4 115.0,261.0 118.9,264.5 122.9,268.0 126.8,271.4 130.8,274.9 134.8,278.2 138.8,281.5 142.8,284.8 146.9,288.1 150.9,291.3 155.0,294.4 159.0,297.5 163.1,300.6 167.2,303.7 171.3,306.7 175.4,309.6 179.5,312.5 183.6,315.4 187.8,318.3 191.9,321.1 196.1,323.9 200.2,326.6 204.4,329.3 208.6,331.9 212.7,334.5 216.9,337.1 221.1,339.7 225.3,342.2 229.5,344.7 233.7,347.1 238.0,349.5 242.2,351.8 246.4,354.2 250.7,356.5 254.9,358.7 259.2,360.9 263.4,363.1 267.7,365.3 271.9,367.4 276.2,369.5 280.5,371.5 284.7,373.5 289.0,375.5 293.3,377.5 297.6,379.4 301.9,381.3 306.2,383.1 310.5,384.9 314.8,386.7 319.1,388.5 323.4,390.2 327.7,391.9 332.0,393.5 336.3,395.1 340.6,396.7 345.0,398.3 349.3,399.8 353.6,401.3 357.9,402.7 362.2,404.2 366.6,405.6 370.9,406.9 375.2,408.3 379.5,409.6 383.9,410.9 388.2,412.1 392.5,413.3 396.8,414.5 401.2,415.7 405.5,416.8 409.8,417.9 414.1,419.0 418.4,420.0 422.8,421.0 427.1,422.0 431.4,423.0 435.7,423.9 440.0,424.8 444.3,425.7 448.7,426.5 453.0,427.3 457.3,428.1 461.6,428.9 465.9,429.6 470.2,430.3 474.5,431.0 478.8,431.7 483.1,432.3 487.3,432.9 491.6,433.4 495.9,434.0 500.2,434.5 504.5,435.0 508.7,435.4 513.0,435.9 517.3,436.3 521.5,436.7 525.8,437.0 530.0,437.4 534.3,437.7 538.5,437.9 542.7,438.2 547.0,438.4 551.2,438.6 555.4,438.8 559.6,439.0 563.8,439.1 568.0,439.2 572.2,439.3 576.4,439.3 580.6,439.3 584.8,439.3 589.0,439.3 593.1,439.3 597.3,439.2 601.5,439.1 605.6,439.0 609.7,438.8 613.9,438.7 618.0,438.5 622.1,438.3 626.2,438.0 630.3,437.8 634.4,437.5 638.5,437.1 642.6,436.8 646.7,436.4 650.7,436.1 654.8,435.7 658.8,435.2 662.9,434.8 666.9,434.3 670.9,433.8 674.9,433.3 678.9,432.7 682.9,432.1 686.9,431.5 690.9,430.9 694.8,430.3 698.8,429.6 702.7,428.9 706.7,428.2 710.6,427.5 714.5,426.7 718.4,425.9 722.3,425.1 726.2,424.3 730.1,423.4 733.9,422.6 737.8,421.7 741.6,420.7 745.4,419.8 749.2,418.8 753.0,417.8 756.8,416.8 760.6,415.8 764.4,414.7 768.1,413.7 771.9,412.6 775.6,411.4 779.3,410.3 783.0,409.1 786.7,407.9 790.4,406.7 794.0,405.5 797.7,404.2 801.3,402.9 804.9,401.6 808.5,400.3 812.1,398.9 815.7,397.6 819.3,396.2 822.8,394.7 826.3,393.3 829.9,391.8 833.4,390.3 836.8,388.8 840.3,387.3 843.8,385.7 847.2,384.1 850.6,382.5 854.0,380.9 857.4,379.3 860.8,377.6 864.2,375.9 867.5,374.2 870.8,372.4 874.1,370.7 877.4,368.9 880.7,367.1 883.9,365.2 887.1,363.4 890.4,361.5 893.5,359.6 896.7,357.6 899.9,355.7 903.0,353.7 906.1,351.7 909.2,349.7 912.3,347.6 915.3,345.6 918.4,343.5 921.4,341.4 924.4,339.2 927.4,337.1 930.3,334.9 933.2,332.7 936.1,330.4 939.0,328.2 941.9,325.9 944.7,323.6 947.5,321.2" fill="none" stroke="#000" stroke-width="2.4" stroke-linejoin="round" stroke-linecap="round"/>
<polyline points="78.4,-184.0 79.1,-177.7 79.9,-171.5 80.7,-165.3 81.5,-159.2 82.4,-153.1 83.3,-147.0 84.3,-141.0 85.3,-135.0 86.3,-129.1 87.4,-123.2 88.5,-117.4 89.7,-111.6 90.9,-105.8 92.2,-100.1 93.4,-94.5 94.8,-88.8 96.1,-83.3 97.5,-77.7 99.0,-72.3 100.4,-66.8 101.9,-61.4 103.5,-56.0 105.1,-50.7 106.7,-45.5 108.3,-40.2 110.0,-35.0 111.7,-29.9 113.5,-24.8 115.2,-19.7 117.1,-14.7 118.9,-9.8 120.8,-4.8 122.7,0.1 124.6,4.9 126.6,9.7 128.6,14.5 130.6,19.2 132.7,23.8 134.8,28.5 136.9,33.1 139.0,37.6 141.2,42.1 143.4,46.6 145.6,51.0 147.9,55.4 150.2,59.7 152.5,64.0 154.8,68.3 157.2,72.5 159.5,76.7 161.9,80.8 164.4,84.9 166.8,88.9 169.3,93.0 171.8,96.9 174.3,100.9 176.9,104.8 179.5,108.6 182.1,112.4 184.7,116.2 187.3,119.9 190.0,123.6 192.6,127.3 195.3,130.9 198.1,134.5 200.8,138.0 203.6,141.5 206.3,144.9 209.1,148.4 212.0,151.8 214.8,155.1 217.6,158.4 220.5,161.7 223.4,164.9 226.3,168.1 229.2,171.2 232.2,174.4 235.1,177.4 238.1,180.5 241.1,183.5 244.1,186.4 247.1,189.4 250.2,192.3 253.2,195.1 256.3,198.0 259.4,200.7 262.5,203.5 265.6,206.2 268.7,208.9 271.9,211.5 275.0,214.1 278.2,216.7 281.4,219.2 284.5,221.7 287.8,224.2 291.0,226.6 294.2,229.0 297.4,231.4 300.7,233.7 304.0,236.0 307.2,238.3 310.5,240.5 313.8,242.7 317.1,244.8 320.4,247.0 323.8,249.1 327.1,251.1 330.5,253.1 333.8,255.1 337.2,257.1 340.6,259.0 343.9,260.9 347.3,262.8 350.7,264.6 354.1,266.4 357.6,268.1 361.0,269.9 364.4,271.6 367.9,273.2 371.3,274.9 374.8,276.5 378.2,278.0 381.7,279.6 385.2,281.1 388.6,282.6 392.1,284.0 395.6,285.4 399.1,286.8 402.6,288.2 406.1,289.5 409.7,290.8 413.2,292.1 416.7,293.3 420.2,294.5 423.8,295.7 427.3,296.8 430.8,298.0 434.4,299.0 437.9,300.1 441.5,301.1 445.0,302.1 448.6,303.1 452.2,304.0 455.7,305.0 459.3,305.8 462.9,306.7 466.5,307.5 470.0,308.3 473.6,309.1 477.2,309.8 480.8,310.6 484.4,311.2 487.9,311.9 491.5,312.5 495.1,313.1 498.7,313.7 502.3,314.3 505.9,314.8 509.5,315.3 513.1,315.7 516.6,316.2 520.2,316.6 523.8,317.0 527.4,317.3 531.0,317.7 534.6,318.0 538.2,318.3 541.8,318.5 545.3,318.7 548.9,318.9 552.5,319.1 556.1,319.3 559.7,319.4 563.2,319.5 566.8,319.6 570.4,319.6 574.0,319.6 577.5,319.6 581.1,319.6 584.6,319.5 588.2,319.5 591.8,319.4 595.3,319.2 598.8,319.1 602.4,318.9 605.9,318.7 609.5,318.5 613.0,318.2 616.5,317.9 620.0,317.6 623.6,317.3 627.1,316.9 630.6,316.6 634.1,316.2 637.6,315.7 641.1,315.3 644.5,314.8 648.0,314.3 651.5,313.8 655.0,313.2 658.4,312.7 661.9,312.1 665.3,311.5 668.8,310.8 672.2,310.2 675.6,309.5 679.0,308.8 682.4,308.0 685.8,307.3 689.2,306.5 692.6,305.7 696.0,304.8 699.4,304.0 702.7,303.1 706.1,302.2 709.4,301.3 712.8,300.3 716.1,299.4 719.4,298.4 722.7,297.4 726.0,296.3 729.3,295.3 732.6,294.2 735.8,293.1 739.1,292.0 742.3,290.8 745.6,289.6 748.8,288.5 752.0,287.2 755.2,286.0 758.4,284.7 761.6,283.4 764.7,282.1 767.9,280.8 771.0,279.5 774.1,278.1 777.3,276.7 780.4,275.3 783.4,273.8 786.5,272.4 789.6,270.9 792.6,269.4 795.7,267.9 798.7,266.3 801.7,264.7 804.7,263.1 807.7,261.5 810.6,259.9 813.6,258.2 816.5,256.5 819.4,254.8 822.3,253.1 825.2,251.4 828.1,249.6 830.9,247.8 833.7,246.0 836.6,244.2 839.4,242.3 842.1,240.4 844.9,238.5 847.7,236.6 850.4,234.7 853.1,232.7 855.8,230.7 858.5,228.7 861.1,226.7 863.8,224.6 866.4,222.5 869.0,220.5 871.6,218.3 874.1,216.2 876.7,214.0 879.2,211.9 881.7,209.7 884.1,207.5 886.6,205.2 889.0,202.9 891.4,200.7 893.8,198.4 896.2,196.0" fill="none" stroke="#000" stroke-width="2.4" stroke-linejoin="round" stroke-linecap="round"/>
<polyline points="279.2,233.9 278.3,237.0 277.5,240.2 276.7,243.3 274.8,245.2 273.0,247.1 271.2,249.0 269.1,250.7 267.1,252.5 265.0,254.2 267.4,253.5 269.8,252.9 270.5,250.1 271.2,247.4 271.9,244.7 271.0,242.8 270.2,241.0 269.0,239.5 267.8,238.0 266.6,236.5 265.5,235.0 264.3,233.5 263.1,232.0 262.0,230.5 261.1,232.9 260.2,235.4 259.4,237.9 258.5,240.4 257.7,242.8 256.8,245.3 256.0,247.8 255.2,250.3 253.9,252.9 252.6,255.5 251.4,258.1 249.7,261.0 248.0,264.0 246.4,267.0 244.7,269.3 243.1,271.7 241.4,274.1 239.8,276.4 238.1,278.8 236.5,281.2 234.8,283.6 232.9,285.6 231.0,287.5 229.2,289.5 227.3,291.5 225.4,293.5 223.5,295.6 222.7,298.3 221.9,301.1 221.1,303.9 220.3,306.7 218.8,308.9 217.2,311.2 215.7,313.5 214.1,315.8 212.5,318.0 211.0,320.3 209.4,322.6 207.9,324.9 207.7,327.8 207.5,330.6 207.3,333.4 207.1,336.3 207.0,339.1 206.6,341.9 206.2,344.8 205.9,347.6 205.5,350.5 205.2,353.3 204.9,356.1 204.6,359.0 204.3,361.8 205.8,364.4 207.4,366.9 206.5,369.5 205.6,372.2 204.7,374.9 204.9,378.2 205.3,381.6 205.6,384.9 205.6,387.8 205.6,390.7 205.7,393.5 205.8,396.4 205.8,399.3 205.9,402.2 205.9,405.1 206.0,408.0 206.0,410.8 206.1,413.7 206.2,416.6 208.1,418.2 209.9,419.7 211.8,421.2 213.7,422.8 215.5,424.3 217.0,426.2 218.5,428.1 220.0,430.0 221.5,431.9 223.0,433.9 224.6,436.9 226.3,439.9 227.2,442.5 228.2,445.2 229.2,447.9 230.1,450.5 229.8,453.4 229.5,456.3 229.3,459.1" fill="none" stroke="#000" stroke-width="2.4" stroke-linejoin="round" stroke-linecap="round"/>
<polyline points="229.3,459.1 231.3,459.7 233.4,460.3 235.4,460.9 237.4,461.4 239.5,462.0 241.5,462.6 243.6,463.1 245.6,463.7 247.6,464.2 249.7,464.7 251.7,465.3 253.8,465.8 251.8,468.2 253.5,469.8 255.1,471.3 256.8,472.8 258.5,474.3 260.1,475.8 261.8,477.3 263.5,478.8 265.1,480.3 266.8,481.8 268.5,483.3 270.2,484.8 271.9,486.2 273.6,487.7 275.3,489.2 277.0,490.6 278.7,492.1 280.4,493.5 282.1,494.9 283.8,496.4 285.9,497.1 288.0,497.7 290.0,498.4 292.1,499.1 294.2,499.7 296.2,500.4 298.3,501.0 300.4,501.7 302.4,502.3 304.5,502.9 306.5,503.5 308.6,504.2 310.7,504.8 312.7,505.4 313.4,502.5 314.2,499.7 316.3,500.3 318.4,500.9 320.5,501.5 322.6,502.1 324.7,502.7 326.7,503.3 328.8,503.9 330.9,504.5 332.2,506.5 333.5,508.4 334.8,510.4 336.1,512.3 337.5,514.3 338.8,516.2 340.1,518.2 341.4,520.1 342.8,522.1 343.1,524.6 343.5,527.1 343.8,529.6 344.2,532.1 344.6,534.7 345.0,537.2 346.7,538.9 348.5,540.7 350.3,542.4 352.1,544.1 353.9,545.8 355.7,547.6 357.7,545.4 359.7,543.2 361.6,541.0 363.6,538.8 365.8,539.3 368.0,539.8 370.1,540.2 372.3,540.7 374.5,541.2 376.7,541.6 377.5,543.9 378.4,546.3 379.3,548.6 380.2,550.9 381.1,553.3 382.0,555.6 383.0,557.9 383.9,560.2 384.8,562.6 386.2,564.9 387.5,567.2 388.8,569.5 390.2,571.8 391.6,574.0 392.1,576.7 392.6,579.3 393.1,582.0 393.6,584.6 394.1,587.2 395.9,588.5 397.8,589.7 399.6,590.9 401.5,592.1 403.4,593.3 405.2,594.5 407.1,595.7 408.9,596.9 410.8,598.1" fill="none" stroke="#000" stroke-width="2.4" stroke-linejoin="round" stroke-linecap="round"/>
<polyline points="410.8,598.1 411.1,595.2 411.4,592.3 411.7,589.5 412.1,586.6 412.4,583.7 413.5,581.4 414.6,579.0 415.7,576.7 416.8,574.3 417.9,571.9 420.1,570.8 422.3,569.6 424.5,568.4 426.6,567.2 428.8,566.0 430.7,564.8 432.5,563.6 434.3,562.4 436.1,561.2 437.9,560.0 439.8,558.8 441.8,558.0 443.9,557.3 446.0,556.6 448.1,555.9 450.2,555.2 452.1,555.5 454.1,555.9 456.0,556.3 458.0,556.6 460.0,557.0 461.9,557.3 463.9,557.7 465.8,558.0 467.8,558.4 469.7,558.7 471.6,559.9 473.5,561.1 475.4,562.3 477.3,563.4 479.2,564.6 481.1,565.1 483.1,565.7 485.0,566.2 487.0,566.7 488.9,567.2 490.8,567.7 492.8,568.3 494.8,566.6 496.9,564.9 496.3,562.1 495.8,559.3 495.2,556.5 494.6,553.7 497.1,552.7 499.6,551.7 502.5,551.9 505.4,552.2 507.4,551.1 509.4,550.0 511.7,552.0 514.0,554.0 515.9,553.9 517.9,553.7 519.8,553.6 521.7,553.5 523.6,553.4 525.5,554.2 527.4,555.0 529.3,555.8 531.2,556.6 533.1,557.5 535.0,557.7 536.9,558.0 538.8,558.3 540.7,558.6 542.6,558.8 544.5,559.1 546.4,560.7 548.3,562.2 550.2,563.8 552.1,565.3 553.2,567.4 554.3,569.4 555.4,571.4 556.5,573.5 557.6,575.5 558.7,577.5 559.1,579.9 559.5,582.3 559.9,584.7 560.3,587.1 560.7,589.5 561.8,591.9 563.0,594.3 564.2,596.7 565.4,599.1 566.6,601.5 567.8,603.5 569.0,605.5 570.2,607.5 571.3,609.4 572.5,611.4 573.7,613.4 575.7,615.2 577.8,616.9 580.2,616.9 582.7,616.9 583.3,614.5 584.0,612.1 584.6,609.7 585.3,607.3 585.4,604.9 585.5,602.6 585.7,600.2 585.8,597.8 585.9,595.4 585.0,592.8 584.2,590.3 583.3,587.7 582.5,585.1 581.6,582.5 580.8,580.0 580.2,577.0 579.7,574.0 578.6,571.8 577.4,569.6 576.3,567.4 575.2,565.2 574.1,563.0 573.0,560.8 572.7,558.4 572.5,556.0 572.2,553.6 572.0,551.2 572.5,548.6 573.1,546.0 573.7,543.3 574.2,540.7 574.8,538.0 576.6,536.0 578.4,534.0 580.3,532.0 582.1,530.0 583.9,528.0 585.7,526.0 587.3,524.5 588.9,523.0 590.5,521.5 592.0,519.9 593.4,518.1 594.7,516.3 596.0,514.5 597.3,512.6 599.4,512.6 601.5,512.6 603.6,512.5 604.7,510.1 605.8,507.6 607.0,505.2 608.7,504.7 610.5,504.1 612.2,503.6 614.0,503.0 615.7,502.5 617.5,501.2 619.2,499.9 620.9,498.6 622.6,497.3 624.3,496.1 623.8,493.5 623.2,490.9 622.7,488.3 622.2,485.7 621.6,483.1 621.1,480.6 620.2,478.2 619.2,475.8 616.6,474.7 616.5,472.3 616.5,469.9 616.4,467.5 616.3,465.1 616.3,462.7 615.9,460.3 615.5,457.9 615.2,455.5 614.8,453.1 614.5,450.7 614.1,448.3 615.8,446.4 617.4,444.5 617.7,446.9 618.1,449.3 618.4,451.7 618.8,454.1 619.2,456.5 619.5,458.9 620.0,461.3 620.5,463.7 621.0,466.1 621.5,468.5 621.9,466.0 622.2,463.6 623.9,462.9 625.5,462.2 626.1,459.5 626.6,456.7 626.0,452.5 624.8,450.2 623.6,447.8 622.4,445.5" fill="none" stroke="#000" stroke-width="2.4" stroke-linejoin="round" stroke-linecap="round"/>
<polyline points="626.8,451.3 628.3,448.8 629.9,446.2 631.5,444.1 633.0,442.0 634.5,439.9 634.4,437.1 634.3,434.2 634.1,431.4 634.4,429.0 634.7,426.5" fill="none" stroke="#000" stroke-width="2.4" stroke-linejoin="round" stroke-linecap="round"/>
<polyline points="634.9,430.2 636.5,429.5 638.2,428.8 639.9,428.1 641.6,427.5 643.2,426.8 644.9,426.1 646.6,425.4 648.2,424.7 649.9,424.0 650.6,422.7" fill="none" stroke="#000" stroke-width="2.4" stroke-linejoin="round" stroke-linecap="round"/>
<polyline points="637.0,425.1 638.9,424.0 640.7,422.8 642.5,421.6 644.2,421.4 645.8,421.1 647.5,420.8 649.2,420.5 650.8,420.2 652.9,418.8 655.0,417.4 657.4,417.1 659.8,416.8 661.6,415.8 663.3,414.8 665.1,413.7 664.7,409.5 663.2,410.3 661.7,411.1 660.2,411.9 659.6,409.5 659.0,407.1 657.9,403.6 658.1,401.1 658.3,398.7 659.4,396.1 660.4,393.5 661.5,390.9 663.0,389.9 664.4,388.9 665.9,387.9 667.3,386.9 668.7,385.8 670.2,384.8 671.6,383.6 673.0,382.4 674.4,381.2 675.8,380.0 677.2,378.8 678.6,377.6 680.0,376.3 681.4,375.1 682.7,373.9 684.1,372.7 683.8,370.2 683.5,367.8" fill="none" stroke="#000" stroke-width="2.4" stroke-linejoin="round" stroke-linecap="round"/>
<polyline points="683.5,367.8 681.8,366.5 680.2,365.3 678.5,364.0 676.9,362.8 676.5,359.9 676.2,357.1 675.8,354.2 675.5,351.4 675.1,348.6 674.8,345.7 673.2,345.8 671.6,345.8 669.9,345.8 668.3,345.9 666.7,345.9 664.2,343.2 663.2,345.2 662.3,347.2 661.3,349.2 660.3,351.2 659.4,353.2 659.1,355.7 658.8,358.2 658.4,360.7 658.1,363.2 657.1,365.3 656.0,367.5 655.0,369.7 652.8,371.2 651.5,373.2 650.1,375.2 648.6,375.4 647.1,375.5 645.6,375.7 644.1,375.9 642.5,376.0 641.0,376.2 639.5,376.4 638.0,376.5 636.5,376.6 634.9,376.8 633.4,376.9 631.9,377.1 630.4,377.2 628.8,377.3 627.3,377.4 625.8,377.6 624.3,378.5 622.8,379.4 621.3,380.3 619.8,381.8 618.4,383.4 616.9,384.9 615.4,386.5 613.9,388.0 614.2,390.8 614.6,393.6 615.0,396.4 613.3,397.0 611.6,397.6 609.9,398.1 608.2,398.7 606.5,399.3 604.8,399.8 603.1,399.8 601.4,399.8 599.7,399.8 598.0,399.7 596.3,399.7 594.6,399.6 592.9,399.6 592.7,402.0 592.5,404.4 591.0,406.4 589.5,408.3 588.0,410.3 586.5,412.3 584.6,413.1 582.7,413.9 580.8,414.7 579.2,415.5 577.5,416.3 575.9,417.2 574.3,418.0 572.6,418.8 570.9,419.5 569.3,420.2 567.6,420.9 566.0,421.6 564.3,422.2 562.5,421.3 560.6,420.3 558.8,419.4 557.0,418.4 557.9,416.0 558.8,413.7 559.7,411.3 561.4,410.1 563.0,409.0 564.7,407.8 565.2,405.4 565.6,403.1 565.4,400.6 565.2,398.2 565.0,395.8 564.7,393.4 564.4,391.0 562.8,390.7 561.2,390.3 559.7,391.4 558.3,392.4 556.8,393.4 555.3,394.4 553.8,395.4 554.9,393.4 556.0,391.3 557.1,389.3 558.1,387.2 558.5,384.8 558.8,382.5 559.2,380.1 558.5,377.1 557.8,374.0 556.3,373.2 554.8,372.3 553.3,371.5 551.8,370.6 550.3,369.7 548.7,368.8" fill="none" stroke="#000" stroke-width="2.4" stroke-linejoin="round" stroke-linecap="round"/>
<polyline points="549.9,361.1 548.4,359.3 547.0,357.4 545.4,357.8 543.7,358.2 542.0,358.6 540.4,359.0 538.7,359.4 537.0,359.8 535.3,360.2 533.7,360.0 532.0,359.7 530.3,359.4 528.6,359.2 526.9,358.9 525.7,357.6 524.4,356.3 523.1,354.9 521.9,353.6 520.6,352.3 522.3,350.7 523.9,349.1 525.6,347.4 523.7,347.5 521.8,347.6 520.5,349.3 519.2,350.9 517.9,352.6 516.6,354.2 515.0,354.5 513.4,354.7 511.8,354.9 510.3,355.1 508.7,355.3 507.1,355.5 505.5,355.7 504.1,354.5 502.7,353.4 501.3,352.3 499.6,352.2 497.9,352.1 496.2,351.9 494.5,351.8 492.8,351.7 494.4,350.6 496.0,349.6 497.6,348.6 499.2,347.5 500.7,346.5 502.3,345.4 503.9,344.4 505.4,343.3 507.1,342.6 508.7,341.8 510.3,341.1 511.9,340.3 513.5,339.6 512.0,339.0 510.6,338.5 509.1,338.0 507.6,337.5 506.2,336.9 504.7,336.4 503.3,335.8 501.9,335.2 500.4,334.5 499.0,333.8 497.6,333.1 496.2,332.4 494.7,331.7 493.3,331.0 491.9,330.3 490.5,329.6 489.1,328.8 487.6,328.4 486.2,328.0 484.7,327.6 483.3,327.2 481.8,326.8 480.4,326.4 478.9,325.9 477.5,325.5 477.4,322.9 477.4,320.3 477.3,317.7 474.8,316.8 474.1,321.2 472.6,320.9 471.1,320.6 469.6,320.3 468.2,320.0 466.7,319.6 465.2,319.3 463.8,319.0 462.3,318.7 460.8,318.3 459.4,318.0 457.9,317.6 456.4,317.3 455.0,316.9 453.5,316.6 452.0,316.2 450.6,315.8 449.1,315.4 447.6,315.1 446.2,314.7 444.7,314.3 443.2,313.9 441.8,313.5 440.3,313.1 438.8,312.7 437.4,312.3 435.9,311.8 434.5,311.4 433.0,311.0 431.5,310.6 430.1,310.1 428.6,309.7 427.2,309.2 425.7,308.8 424.2,308.3 422.8,307.9 421.3,307.4 419.9,306.9 418.4,306.4 417.0,306.0 415.5,305.5 414.1,305.0 412.6,304.5 411.1,304.0 409.7,303.5 408.2,303.0 406.8,302.5 405.3,301.9 403.9,301.4 402.5,300.9 401.0,300.4 399.6,299.8 398.1,299.3 396.7,298.7 395.2,298.2 393.8,297.6 392.3,297.0 390.9,296.5 389.5,295.9 388.0,295.3 386.6,294.7 385.2,294.1 383.7,293.6 382.3,293.0 380.8,292.4 379.4,291.7 378.0,291.1 376.5,290.5 375.1,289.9 373.7,289.3 372.3,288.6 370.8,288.0 369.4,287.3 368.0,286.7 366.6,286.0 365.1,285.4 363.7,284.7 362.3,284.0 360.9,283.4 359.4,282.7 358.0,282.0 356.6,281.3 355.2,280.6 353.8,279.9 352.4,279.2 351.0,278.5 349.5,277.8 348.1,277.1 346.7,276.3 345.3,275.6 343.9,274.9 342.5,274.1 341.1,273.4 339.7,272.6 338.3,271.9 336.9,271.1 335.5,270.3 334.1,269.6 332.7,268.8 331.3,268.0 329.9,267.2 328.5,266.4 327.2,265.6 325.8,264.8 324.4,264.0 323.0,263.2 321.6,262.3 320.2,261.5 318.8,260.7 317.5,259.8 316.1,259.0 314.7,258.2 313.3,257.3 312.0,256.4 310.6,255.6 309.2,254.7 307.9,253.8 306.5,252.9 305.1,252.1 303.8,251.2 302.4,250.3 301.0,249.4 299.7,248.4 298.3,247.5 297.0,246.6 295.6,245.7 294.3,244.8 292.9,243.8 291.6,242.9 290.2,241.9 288.9,241.0 287.5,240.0 286.2,239.0 284.9,238.1 283.5,237.1 282.2,236.1 280.8,235.1 279.5,234.1 278.2,233.1 276.9,232.1 275.5,231.1" fill="none" stroke="#000" stroke-width="2.4" stroke-linejoin="round" stroke-linecap="round"/>
<polyline points="548.7,368.8 546.3,371.1 544.9,372.6 543.5,374.1 542.1,375.6 540.7,376.7 539.2,377.8 537.8,378.9 536.3,380.0 535.9,382.4 535.5,384.8 535.1,387.1 534.3,389.9 533.6,392.6 532.9,395.4 533.2,397.8 533.5,400.2 533.9,402.7 534.2,405.1 534.5,407.5 533.1,409.8 531.7,412.1 530.4,414.1 529.0,416.0 527.0,416.5 525.0,417.0 523.0,417.4 522.0,414.9 520.9,412.4 521.2,409.4 521.4,406.4 521.3,403.4 521.1,400.4 521.7,398.0 522.3,395.7 522.9,393.3 523.5,391.0 524.2,388.6 525.0,386.3 525.7,383.9 527.2,381.7 528.7,379.4 530.2,377.1 528.6,377.4 527.0,377.7 525.4,377.9 523.6,380.1 521.8,382.4 522.6,380.0 523.3,377.7 524.0,375.4 525.6,375.5" fill="none" stroke="#000" stroke-width="2.4" stroke-linejoin="round" stroke-linecap="round"/>
<polyline points="525.6,375.5 526.9,373.8 528.2,372.2 529.5,370.5 530.8,368.8 532.9,367.8 534.9,366.7 536.5,366.4 538.0,366.0 539.6,365.7 541.2,365.3 542.8,364.9 544.3,365.6 545.8,366.3 547.3,367.0 548.8,367.7" fill="none" stroke="#000" stroke-width="2.4" stroke-linejoin="round" stroke-linecap="round"/>
<polyline points="251.4,258.1 252.6,259.5 253.8,260.9 255.0,262.3 256.2,263.7 257.4,265.0 256.4,268.4 255.5,271.8 257.1,272.9 258.8,274.1 260.5,275.2 262.1,276.3 263.8,277.5 265.5,278.6 267.2,279.7 268.9,280.3 270.5,280.9 272.2,281.4 273.9,282.0 275.6,282.6 277.2,283.2 278.9,283.7 280.6,284.3 282.2,284.8 283.9,285.4 285.6,285.9 287.1,286.8 288.7,287.7 290.3,288.6 291.9,289.4 293.5,290.3 295.1,291.2 296.6,292.0 298.2,292.9 299.8,293.7 301.4,294.5" fill="none" stroke="#000" stroke-width="2.4" stroke-linejoin="round" stroke-linecap="round"/>
<polyline points="317.6,260.0 316.4,262.3 315.2,264.7 313.9,267.1 312.7,269.5 311.4,272.0 310.2,274.4 309.0,276.8 307.7,279.2 306.5,281.7 305.3,284.1 304.0,286.5 302.8,289.0 302.1,291.8 301.4,294.5" fill="none" stroke="#000" stroke-width="2.4" stroke-linejoin="round" stroke-linecap="round"/>
<polyline points="301.4,294.5 301.5,297.0 301.5,299.5 301.6,302.0 299.5,304.3 297.5,306.6 295.4,308.9 293.5,310.2 291.5,311.6 289.5,313.0 289.3,316.6 289.1,320.2 287.7,322.4 286.4,324.6 285.0,326.8 283.6,329.1 282.5,331.4 281.4,333.8 280.3,336.2 279.3,338.6 278.2,341.0" fill="none" stroke="#000" stroke-width="2.4" stroke-linejoin="round" stroke-linecap="round"/>
<polyline points="220.3,306.7 221.9,307.7 223.5,308.8 225.2,309.9 226.8,310.9 228.4,312.0 230.0,313.0 231.6,314.0 233.2,315.1 234.9,316.1 236.5,317.1 238.1,318.1 239.7,319.1 241.4,320.1 243.0,321.1 244.6,322.1 246.2,323.1 247.9,324.0 249.5,325.0 251.1,326.0 252.8,326.9 254.4,327.9 256.1,328.8 257.7,329.8 259.3,330.7 261.0,331.6 262.6,332.6 264.3,333.5 265.9,334.4 267.5,335.3 269.2,336.2 270.8,337.1 272.5,338.0 274.1,338.9 275.8,339.7 277.4,340.6 279.1,341.5 280.7,342.3 282.4,343.2 284.0,344.0 285.7,344.9 287.4,345.7 289.0,346.5 290.7,347.4 292.3,348.2 294.0,349.0 295.7,349.8 297.3,350.6 299.0,351.4 300.6,352.2 302.3,353.0 304.0,353.8 305.6,354.5 307.3,355.3 309.0,356.1 310.6,356.8 312.3,357.6 314.0,358.3 315.6,359.1 317.3,359.8 319.0,360.6 320.6,361.3 322.3,362.0 324.0,362.7 325.7,363.4 327.3,364.1" fill="none" stroke="#000" stroke-width="2.4" stroke-linejoin="round" stroke-linecap="round"/>
<polyline points="254.0,327.7 252.8,330.1 251.6,332.5 250.4,334.9 249.3,337.3 248.1,339.7 246.9,342.1 245.7,344.5 244.5,347.0 243.4,349.4 242.2,351.8 241.0,354.3 239.9,356.7 238.7,359.2 237.5,361.7 236.4,364.1 237.1,366.4 237.8,368.6 238.6,370.9 239.3,373.1 240.1,375.4 240.8,377.6 241.6,379.9 242.4,382.1 243.2,384.4 244.0,386.6 244.8,388.8 245.6,391.1 246.4,393.3 247.3,395.5 248.1,397.7 249.0,399.9 249.8,402.2 250.7,404.4 251.6,406.6 252.5,408.8 253.4,411.0 254.3,413.2 255.2,415.4 256.1,417.6 257.0,419.8 258.0,422.0 258.9,424.1 259.8,426.3 260.8,428.5 261.8,430.7 262.7,432.8 263.7,435.0 264.7,437.2" fill="none" stroke="#000" stroke-width="2.4" stroke-linejoin="round" stroke-linecap="round"/>
<polyline points="264.7,437.2 263.7,440.1 262.6,443.1 261.6,446.0 262.2,450.6 260.8,452.9 259.3,455.2 257.9,457.6 256.4,459.9 255.0,462.2 253.8,465.8" fill="none" stroke="#000" stroke-width="2.4" stroke-linejoin="round" stroke-linecap="round"/>
<polyline points="264.7,437.2 265.5,434.3 266.3,431.5 267.1,428.6 268.0,425.8 268.8,422.9 270.9,423.4 273.1,423.8 275.2,424.2 276.2,421.6 277.1,419.0 278.0,416.4 279.0,413.9 279.9,411.3 280.9,408.7 281.8,406.1 282.8,403.6 283.8,401.0 284.7,398.5 285.7,395.9 286.7,393.4 287.6,390.8 288.6,388.3 289.6,385.7 290.6,383.2 291.6,380.7 292.5,378.1 293.5,375.6 294.5,373.1 295.5,370.6 296.5,368.1 297.5,365.6 298.5,363.1 299.5,360.6 300.6,358.1 301.6,355.6 302.6,353.1" fill="none" stroke="#000" stroke-width="2.4" stroke-linejoin="round" stroke-linecap="round"/>
<polyline points="324.5,264.0 323.3,266.3 322.2,268.6 321.0,270.9 319.9,273.2 318.7,275.5 318.5,278.1 318.2,280.8 318.0,283.5 318.6,285.7 319.2,288.0 319.8,290.2 320.4,292.5 321.1,294.7 321.7,297.0 321.0,299.9 320.3,302.9 319.6,305.8 320.7,308.5 321.8,311.2 321.8,313.7 321.7,316.2 321.7,318.6 321.7,321.1 322.4,323.2 323.0,325.2 323.7,327.3 324.3,329.4 326.1,329.5 327.9,329.7 329.7,329.8 331.5,330.0 333.3,330.1 335.1,330.2 336.9,330.3 337.7,332.4 338.5,334.5 337.6,336.9 336.6,339.3 335.7,341.8 334.8,344.2 333.9,346.6 333.0,349.1 332.0,351.5 331.1,354.0 330.2,356.4 329.3,358.9 328.4,361.3 327.5,363.8 326.6,366.3 325.7,368.7 324.8,371.2 323.9,373.7 323.0,376.2 324.7,376.9 326.3,377.5 328.0,378.2 329.7,378.9 331.4,379.6 333.1,380.2 334.8,380.9 336.5,381.6 338.2,382.2 339.9,382.9" fill="none" stroke="#000" stroke-width="2.4" stroke-linejoin="round" stroke-linecap="round"/>
<polyline points="340.8,328.6 342.3,329.3 343.9,330.0 345.4,330.7 347.0,331.4 348.6,332.0 350.1,332.7 351.7,333.3 353.2,334.0 354.8,334.7 356.3,335.3 357.9,335.9 359.5,336.6 361.0,337.2 362.6,337.8 364.2,338.4 365.7,339.1 367.3,339.7 368.8,340.3 370.4,340.9 372.0,341.5 373.5,342.0 375.1,342.6 376.7,343.2 378.3,343.8 379.8,344.4 381.4,344.9 383.0,345.5 384.5,346.0 386.1,346.6 387.7,347.1 389.2,347.7 390.8,348.2 392.4,348.7 394.0,349.3 395.5,349.8" fill="none" stroke="#000" stroke-width="2.4" stroke-linejoin="round" stroke-linecap="round"/>
<polyline points="409.3,303.4 408.6,305.6 407.9,307.9 407.2,310.2 406.5,312.5 405.8,314.8 405.1,317.1 404.4,319.5 403.8,321.8 403.1,324.1 402.4,326.4 401.7,328.7 401.0,331.1 400.3,333.4 399.6,335.7 398.9,338.1 398.3,340.4 397.6,342.7 396.9,345.1 396.2,347.4 395.5,349.8 394.9,352.1 394.2,354.5 393.5,356.8 392.8,359.2 392.2,361.6 391.5,363.9 390.8,366.3 390.2,368.7 389.5,371.1 388.8,373.4 388.2,375.8 387.5,378.2 386.9,380.6 386.2,383.0 385.5,385.4 384.9,387.8 384.2,390.2 383.6,392.6 382.9,395.0 382.3,397.4" fill="none" stroke="#000" stroke-width="2.4" stroke-linejoin="round" stroke-linecap="round"/>
<polyline points="339.9,382.9 341.6,383.5 343.3,384.1 345.0,384.8 346.7,385.4 348.3,386.0 350.0,386.6 351.7,387.2 353.4,387.9 355.1,388.5 356.8,389.0 358.5,389.6 360.2,390.2 361.9,390.8 363.6,391.4 365.3,392.0 367.0,392.5 368.7,393.1 370.4,393.6 372.1,394.2 373.8,394.7 375.5,395.3 377.2,395.8 378.9,396.3 380.6,396.9 382.3,397.4 384.0,397.9 385.7,398.4 387.4,398.9 389.1,399.4 390.8,399.9 392.5,400.4 394.2,400.9 395.9,401.4 397.6,401.9 399.3,402.4 398.7,404.8 398.1,407.2 397.6,409.6 397.0,412.0 396.4,414.4 395.8,416.8 395.2,419.3 394.7,421.7 394.1,424.1 393.5,426.5 393.0,429.0 392.4,431.4 391.9,433.8 391.3,436.3 390.7,438.7 390.2,441.1 389.6,443.6 389.1,446.0 388.5,448.5 388.0,450.9" fill="none" stroke="#000" stroke-width="2.4" stroke-linejoin="round" stroke-linecap="round"/>
<polyline points="339.9,382.9 339.1,385.3 338.3,387.7 337.5,390.2 336.7,392.6 335.9,395.0 335.1,397.5 334.3,399.9 333.5,402.4 332.7,404.9 331.9,407.3 331.1,409.8 330.4,412.2 329.6,414.7 328.8,417.2 328.0,419.7 327.3,422.1 326.5,424.6 325.7,427.1 325.0,429.6 324.2,432.1 323.5,434.6 322.7,437.1 322.0,439.6 321.2,442.1 320.5,444.6 319.7,447.1 319.0,449.6 318.3,452.1 317.5,454.6 316.8,457.1 316.1,459.6 315.4,462.2 314.6,464.7 313.9,467.2 313.2,469.7 312.5,472.3 311.8,474.8 311.1,477.3 310.4,479.9 309.7,482.4 309.0,485.0 308.3,487.5 307.6,490.1 307.0,492.6 306.3,495.2 305.6,497.7 304.9,500.3 304.3,502.9" fill="none" stroke="#000" stroke-width="2.4" stroke-linejoin="round" stroke-linecap="round"/>
<polyline points="278.9,414.2 280.7,415.0 282.5,415.7 284.3,416.5 286.1,417.2 288.0,418.0 289.8,418.7 291.6,419.5 293.4,420.2 295.3,420.9 297.1,421.6 298.9,422.3 300.7,423.0 302.5,423.7 304.4,424.4 306.2,425.1 308.0,425.8 309.8,426.5 311.7,427.2 313.5,427.8 315.3,428.5 317.1,429.2 319.0,429.8 320.8,430.5 322.6,431.1 324.4,431.8 326.3,432.4 328.1,433.0 329.9,433.6 331.7,434.3 333.6,434.9 335.4,435.5 337.2,436.1 339.0,436.7 340.9,437.3 342.7,437.9 344.5,438.5 346.3,439.0 348.2,439.6 350.0,440.2 351.8,440.7 353.6,441.3 355.5,441.9 357.3,442.4 359.1,442.9 360.9,443.5 362.8,444.0 364.6,444.6 366.4,445.1 368.2,445.6 370.1,446.1 371.9,446.6 373.7,447.1 375.5,447.6 377.3,448.1 379.2,448.6 381.0,449.1 382.8,449.6 384.6,450.1 386.5,450.5 388.3,451.0 390.1,451.5 391.9,451.9 393.7,452.4 395.6,452.8 397.4,453.3 399.2,453.7 401.0,454.1 402.8,454.6 404.6,455.0 406.5,455.4 408.3,455.8 410.1,456.2 411.9,456.6 413.7,457.1 415.5,457.4 417.4,457.8 419.2,458.2 421.0,458.6 422.8,459.0 424.6,459.4 426.4,459.7 428.2,460.1 430.1,460.5 431.9,460.8 433.7,461.2 435.5,461.5 437.3,461.9 439.1,462.2 440.9,462.5 442.7,462.9 444.5,463.2 446.4,463.5 448.2,463.8 450.0,464.1 451.8,464.5 453.6,464.8 455.4,465.1" fill="none" stroke="#000" stroke-width="2.4" stroke-linejoin="round" stroke-linecap="round"/>
<polyline points="396.4,414.4 398.2,414.9 399.9,415.4 401.7,415.8 403.5,416.3 405.2,416.8 407.0,417.2 408.8,417.7 410.5,418.1 412.3,418.5 414.1,419.0 415.9,419.4 417.6,419.8 419.4,420.3 421.2,420.7 422.9,421.1 424.7,421.5 426.5,421.9 428.2,422.3 430.0,422.7 431.8,423.1 433.5,423.4 435.3,423.8 437.1,424.2 438.8,424.6 440.6,424.9 442.3,425.3 444.1,425.6 445.9,426.0 447.6,426.3 449.4,426.7 451.2,427.0 452.9,427.3 454.7,427.7" fill="none" stroke="#000" stroke-width="2.4" stroke-linejoin="round" stroke-linecap="round"/>
<polyline points="330.9,504.5 330.6,501.5 332.7,502.0 334.7,502.6 336.8,503.2 338.8,503.7 340.9,504.3 342.9,504.8 345.0,505.3 347.0,505.9 349.1,506.4 351.1,506.9 353.2,507.5 355.2,508.0 357.2,508.5 359.3,509.0 361.3,509.5 363.4,510.0 365.4,510.5 365.9,507.9 366.5,505.4 367.0,502.8 367.5,500.3 368.0,497.7 368.6,495.2 369.1,492.6 369.6,490.1 370.2,487.5 370.7,485.0 371.3,482.5 371.8,479.9 372.4,477.4 372.9,474.9 373.5,472.3 374.1,469.8 374.6,467.3 375.2,464.8 375.8,462.2 376.3,459.7 376.9,457.2 377.5,454.7 379.3,455.2 381.2,455.7 383.1,456.1 384.9,456.6 386.8,457.1 388.7,457.6 390.5,458.0 392.4,458.5 394.2,458.9 396.1,459.4 398.0,459.8 399.8,460.3 401.7,460.7 403.5,461.1 405.4,461.6 404.9,464.2 404.4,466.8 403.8,469.5 403.3,472.1 402.8,474.8 402.3,477.4 401.8,480.1 401.3,482.7 400.8,485.4 403.0,486.9 405.2,488.4 407.1,489.3 409.0,490.3 410.9,491.2 412.9,492.1 414.8,493.1 416.7,494.0 418.7,494.9 420.5,495.6 422.3,496.2 424.2,496.9 426.0,497.5 427.8,498.2 429.7,498.8 431.5,499.5 433.4,500.1 435.2,500.7 437.0,501.3 438.9,501.5 440.8,501.7 442.7,501.9 444.6,502.1 446.5,502.3 448.2,503.4 449.9,504.5 451.6,505.7 453.2,506.8 454.9,507.9 454.6,510.6 454.3,513.3 454.0,516.0 453.6,518.7 453.3,521.4 453.0,524.2 452.7,526.9 452.9,529.4 453.1,531.9 453.3,534.4 453.5,536.9 453.8,539.5 453.5,542.1 453.2,544.8 452.9,547.4 452.7,550.1 452.4,552.7 452.1,555.4" fill="none" stroke="#000" stroke-width="2.4" stroke-linejoin="round" stroke-linecap="round"/>
<polyline points="455.4,465.1 455.2,467.5 455.0,470.0 454.9,472.4 454.7,474.9 454.5,477.4 454.4,479.8 454.2,482.3 454.1,484.7 454.1,487.3 454.2,489.9 454.3,492.5 454.4,495.0 454.5,497.6 454.6,500.2 454.7,502.7 454.8,505.3 454.9,507.9" fill="none" stroke="#000" stroke-width="2.4" stroke-linejoin="round" stroke-linecap="round"/>
<polyline points="454.1,514.6 456.1,514.9 458.0,515.2 460.0,515.4 462.0,515.7 463.9,516.0 465.9,516.2 467.8,516.5 469.8,516.7 471.8,517.0 473.7,517.2 475.7,517.4 477.6,517.7 479.6,517.9 481.5,518.1" fill="none" stroke="#000" stroke-width="2.4" stroke-linejoin="round" stroke-linecap="round"/>
<polyline points="481.5,518.1 481.4,520.6 481.3,523.0 481.2,525.5 481.0,527.9 480.9,530.3 479.8,532.7 478.6,535.0 477.4,537.4 476.2,539.7 475.1,542.0 477.1,542.2 479.0,542.4 481.0,542.7 483.0,542.9 485.0,543.1 487.0,543.2 488.9,543.4 490.9,543.6 492.9,543.8 492.8,546.2 492.8,548.7 492.7,551.1 492.7,553.6" fill="none" stroke="#000" stroke-width="2.4" stroke-linejoin="round" stroke-linecap="round"/>
<polyline points="510.8,496.5 510.6,498.9 510.3,501.4 510.1,503.8 509.8,506.2 509.6,508.6 509.3,511.0 509.1,513.4 508.9,515.9 508.6,518.3 508.4,520.7 508.1,523.1 507.9,525.5 507.7,528.0 507.4,530.4 507.2,532.8 507.0,535.2 506.7,537.6 506.5,540.1 506.3,542.5 506.1,544.9 505.8,547.3 505.6,549.7 505.4,552.2" fill="none" stroke="#000" stroke-width="2.4" stroke-linejoin="round" stroke-linecap="round"/>
<polyline points="534.5,498.2 534.8,500.7 535.1,503.3 535.4,505.8 535.7,508.3 536.0,510.9 536.3,513.4 536.6,515.9 537.0,518.5 537.3,521.0 537.6,523.5 538.0,526.1 538.3,528.6 538.6,531.1 538.6,533.7 538.5,536.3 538.4,539.0 538.3,541.6 538.2,544.2 538.2,546.8 536.1,546.7 534.1,546.6 532.0,546.5 529.9,546.4 527.9,546.3 525.8,546.2 523.8,546.1 521.7,546.0 519.7,545.8 517.6,545.7 515.5,545.6 513.5,545.4 513.6,548.3 513.8,551.1 514.0,554.0" fill="none" stroke="#000" stroke-width="2.4" stroke-linejoin="round" stroke-linecap="round"/>
<polyline points="538.2,546.8 539.0,550.5 541.0,550.7 542.9,550.9 544.9,551.0 546.9,551.2 548.8,551.4 550.8,551.6 552.7,551.8 554.7,551.9 556.7,552.1 558.6,552.3 560.6,552.4 562.5,552.6 564.5,552.7 566.4,550.0 568.2,550.4 570.1,550.8 572.0,551.2" fill="none" stroke="#000" stroke-width="2.4" stroke-linejoin="round" stroke-linecap="round"/>
<polyline points="557.0,499.2 558.8,501.3 560.5,503.3 562.3,505.4 563.3,507.8 564.4,510.2 565.4,512.7 566.5,515.1 567.5,517.5 568.4,519.6 569.3,521.8 570.2,523.9 571.1,526.0 572.0,528.1 572.9,530.2 573.8,532.3 574.8,534.4" fill="none" stroke="#000" stroke-width="2.4" stroke-linejoin="round" stroke-linecap="round"/>
<polyline points="557.0,499.2 559.1,498.4 561.2,497.7 563.3,496.9 565.1,497.1 566.9,497.2 568.7,497.3 570.5,497.4 572.3,497.5 574.0,497.6 575.8,497.7 576.7,499.5 577.6,502.0 579.5,502.0 581.5,502.0 583.5,502.0 585.4,502.0 587.4,502.0 588.8,503.5 590.2,505.0 591.6,506.6 593.0,508.1 594.5,509.6 595.9,511.1 597.3,512.6" fill="none" stroke="#000" stroke-width="2.4" stroke-linejoin="round" stroke-linecap="round"/>
<polyline points="570.3,480.2 568.7,482.6 567.1,485.0 565.3,485.7 563.5,486.5 561.8,487.3 559.5,488.4 557.3,489.5 555.4,490.7 553.6,491.8 551.8,493.0 550.0,494.1 548.1,495.3 546.3,496.4 546.2,498.8" fill="none" stroke="#000" stroke-width="2.4" stroke-linejoin="round" stroke-linecap="round"/>
<polyline points="491.6,494.7 493.5,494.9 495.3,495.1 497.1,495.2 499.0,495.4 500.8,495.6 502.6,495.8 504.5,496.0 506.3,496.1 508.1,496.3 509.9,496.4 511.8,496.6 513.6,496.8 515.4,496.9 517.2,497.0 519.0,497.2 520.9,497.3 522.7,497.5 524.5,497.6 526.3,497.7 528.1,497.8 529.9,497.9 531.7,498.1 533.6,498.2 535.4,498.3 537.2,498.4 539.0,498.5 540.8,498.5 542.6,498.6 544.4,498.7 546.2,498.8 548.0,498.9 549.8,498.9 551.6,499.0 553.4,499.1 555.2,499.1 557.0,499.2" fill="none" stroke="#000" stroke-width="2.4" stroke-linejoin="round" stroke-linecap="round"/>
<polyline points="500.5,477.2 502.3,477.4 504.1,477.6 506.0,477.7 507.8,477.8 509.6,478.0 511.4,478.1 513.2,478.2 515.0,478.4 516.8,478.5 518.6,478.6 520.4,478.7 522.2,478.8 524.0,478.9 525.8,479.0 527.5,479.1 529.3,479.2 531.1,479.3 532.9,479.4 534.7,479.5 536.5,479.5 538.3,479.6 540.1,479.7 541.9,479.7 543.6,479.8 545.4,479.9 547.2,479.9 549.0,480.0 550.8,480.0 552.5,480.0 554.3,480.1 556.1,480.1 557.9,480.1 559.7,480.1 561.4,480.2 563.2,480.2 565.0,480.2 566.7,480.2 568.5,480.2 570.3,480.2 572.1,480.3 573.9,480.3 575.7,480.3 577.5,480.4 579.3,480.4 581.1,480.4 582.8,480.5 584.6,480.5 586.4,480.5 588.2,480.5 590.0,480.5 591.8,480.5 593.6,480.5 595.4,480.5 597.2,480.5 598.9,480.5 600.7,480.5 602.5,480.4 604.3,480.4 606.1,480.4 607.8,480.3 609.6,480.3 611.4,480.3 613.2,480.2 614.9,480.2 616.7,480.1 618.5,480.1 620.2,480.0" fill="none" stroke="#000" stroke-width="2.4" stroke-linejoin="round" stroke-linecap="round"/>
<polyline points="481.5,518.1 482.0,515.1 482.6,512.1 483.7,510.0 484.8,507.9 486.0,505.8 487.1,503.7 488.2,501.6 489.4,499.3 490.5,497.0 491.6,494.7 493.0,492.4 494.3,490.0 495.6,487.7 496.9,485.4 498.2,483.1 499.4,480.2 500.5,477.2 502.1,474.4 503.7,471.5 502.6,469.5 501.4,467.6 500.0,465.3 498.7,463.0 497.3,460.7 496.0,458.4 496.3,455.2 496.7,452.0 497.0,448.8 495.7,446.6 494.5,444.4 493.3,442.2 492.0,439.9 490.7,437.6 489.5,435.3 488.2,433.0 489.4,430.3 490.6,427.6 491.7,424.9 493.1,422.6 494.4,420.4 495.7,418.1 497.0,415.8 498.4,413.6 499.8,411.3 501.2,409.1 499.8,407.4 498.5,405.8 497.2,404.2 495.9,402.6 494.6,400.9 494.6,398.5 494.7,396.1 494.8,393.7 494.9,391.3 494.0,389.3 493.2,387.4 492.3,385.4 491.5,383.5 490.7,381.5 489.8,379.6 488.4,378.3 486.9,377.0 485.5,375.7 484.0,374.4 484.6,372.0 485.1,369.5 485.7,367.0 486.2,364.5 487.6,362.7 488.9,360.9 490.2,359.1 490.6,355.8 491.1,352.6 492.8,351.7" fill="none" stroke="#000" stroke-width="2.4" stroke-linejoin="round" stroke-linecap="round"/>
<polyline points="454.5,471.1 456.4,471.4 458.2,471.7 460.0,472.0 461.9,472.3 463.7,472.6 465.5,472.8 467.3,473.1 469.2,473.4 471.0,473.6 472.8,473.9 474.7,474.1 476.5,474.4 478.3,474.6 480.1,474.9 482.0,475.1 483.8,475.3 485.6,475.6 487.4,475.8 489.2,476.0 491.1,476.2 492.9,476.4 494.7,476.6 494.6,479.7 494.6,482.7 498.2,483.1" fill="none" stroke="#000" stroke-width="2.4" stroke-linejoin="round" stroke-linecap="round"/>
<polyline points="454.5,471.1 454.9,468.7 455.2,466.3 455.6,463.8 455.9,461.4 456.2,459.0 456.6,456.6 456.9,454.1 457.3,451.7 457.7,449.3 458.0,446.9 458.4,444.4 458.7,442.0 459.1,439.6 458.5,437.3 458.0,435.1 457.4,432.8 456.9,430.5 454.7,427.7 453.6,425.0 452.6,422.3 451.6,419.6 451.8,416.8 452.0,413.9 452.2,411.1 452.1,408.1 452.0,405.2 451.9,402.3 451.2,400.1 450.4,397.9 449.7,395.7 449.5,391.9 450.4,389.2 451.3,386.5 452.3,383.8 452.6,381.4 452.9,379.0 453.3,376.6 453.6,374.2 454.0,371.8 454.3,369.5 454.7,367.1 455.0,364.7 455.4,362.3 455.8,359.8 456.3,357.3 456.8,354.7 457.3,350.4 457.5,348.0 457.7,345.6 457.9,343.2 458.1,340.8 458.3,338.4 458.5,336.0 458.6,333.4 458.7,330.8 458.7,328.3 458.8,325.7 458.9,323.1 459.0,320.5 459.1,317.9" fill="none" stroke="#000" stroke-width="2.4" stroke-linejoin="round" stroke-linecap="round"/>
<polyline points="451.6,419.6 453.3,420.1 455.0,420.5 456.7,420.9 458.3,421.3 460.0,421.8 461.7,422.2 463.4,422.6 465.1,423.0 466.8,423.4 468.5,423.8 470.2,424.2 471.9,424.6 473.6,424.9 475.2,425.3 476.9,425.7 478.6,426.1 480.3,426.4 482.0,426.8 483.7,427.1 485.4,427.5 487.1,427.8 488.8,428.2" fill="none" stroke="#000" stroke-width="2.4" stroke-linejoin="round" stroke-linecap="round"/>
<polyline points="388.8,373.4 390.5,374.0 392.2,374.5 393.9,375.0 395.6,375.5 397.3,376.1 398.9,376.6 400.6,377.1 402.3,377.6 404.0,378.0 405.7,378.5 407.4,379.0 409.1,379.5 410.7,380.0 412.4,380.4 414.1,380.9 415.8,381.3 417.5,381.8 419.2,382.2 420.9,382.7 422.5,383.1 424.2,383.6 425.9,384.0 427.6,384.4 429.3,384.8 431.0,385.2 432.7,385.6 434.4,386.0 436.0,386.7 437.7,387.4 439.4,388.0 441.1,388.7 442.8,389.4 444.4,390.0 446.1,390.6 447.8,391.3 449.5,391.9" fill="none" stroke="#000" stroke-width="2.4" stroke-linejoin="round" stroke-linecap="round"/>
<polyline points="398.7,338.8 400.3,339.3 401.9,339.8 403.4,340.3 405.0,340.8 406.6,341.3 408.1,341.8 409.7,342.3 411.3,342.8 412.8,343.3 414.4,343.7 416.0,344.2 417.5,344.7 419.1,345.1 420.7,345.6 422.2,346.0 423.8,346.5 425.4,346.9 426.9,347.4 428.5,347.8 430.1,348.2 431.6,348.6 433.2,349.1 434.8,349.5 436.4,349.9 437.9,350.3 439.5,350.7 441.1,351.1 442.6,351.5 444.2,351.8 445.8,352.2 447.4,352.6 448.9,353.0 450.5,353.3 452.1,353.7 453.7,354.1 455.2,354.4 456.8,354.7" fill="none" stroke="#000" stroke-width="2.4" stroke-linejoin="round" stroke-linecap="round"/>
<polyline points="452.3,383.8 453.9,384.2 455.5,384.5 457.2,384.8 458.8,385.2 460.5,385.5 462.1,385.8 463.8,386.1 465.4,386.4 467.0,386.7 468.7,387.0 470.3,387.3 472.0,387.6 473.6,387.9 475.2,388.2 476.9,388.5 478.5,388.8 480.2,389.0 481.8,389.3 483.4,389.6 485.1,389.8 486.7,390.1 488.4,390.3 490.0,390.6 491.6,390.8 493.3,391.0 494.9,391.3" fill="none" stroke="#000" stroke-width="2.4" stroke-linejoin="round" stroke-linecap="round"/>
<polyline points="498.4,403.9 500.2,404.1 501.9,404.3 503.7,404.5 505.5,404.7 507.3,404.9 509.0,405.2 510.8,405.3 512.6,405.5 514.3,405.7 516.1,405.9 517.9,406.1 519.6,406.3 521.4,406.4" fill="none" stroke="#000" stroke-width="2.4" stroke-linejoin="round" stroke-linecap="round"/>
<polyline points="505.5,355.7 507.1,356.8 508.7,357.9 510.2,359.1 511.8,360.2 513.4,361.3 515.0,362.4 516.5,363.1 518.0,363.7 519.5,364.4 521.0,365.0 522.5,365.6 523.3,368.1 524.0,370.6 524.8,373.1 525.6,375.5" fill="none" stroke="#000" stroke-width="2.4" stroke-linejoin="round" stroke-linecap="round"/>
<polyline points="522.9,416.2 522.7,418.6 522.5,421.0 522.3,423.4 522.1,425.8 521.9,428.2 521.7,430.6 521.5,433.0 521.4,435.4 521.2,437.9 521.0,440.3 520.8,442.7 520.6,445.1 520.1,448.1 519.6,451.1 518.7,453.4 517.9,455.8 517.1,458.1 516.2,460.5 515.1,463.4 514.0,466.4" fill="none" stroke="#000" stroke-width="2.4" stroke-linejoin="round" stroke-linecap="round"/>
<polyline points="503.7,471.5 505.9,471.3 508.0,471.1 510.1,470.9 512.0,468.6 514.0,466.4 515.6,464.9 517.2,463.4 518.8,461.9 520.7,461.8 522.6,461.7 524.6,461.7 526.5,461.6 528.5,461.5 530.6,460.4 532.7,459.3 534.8,458.3 536.3,456.7 537.8,455.2 539.4,453.7 540.9,452.2 542.4,450.7 543.9,449.1 546.0,451.1 548.0,453.0 549.9,453.3 551.7,453.5 553.6,453.8 555.4,454.1 557.3,454.4 559.1,454.6 560.8,456.5 562.5,458.3 564.0,456.6 565.6,454.8 567.1,453.0 568.6,451.2 570.1,449.7 571.5,448.1 573.0,446.5 574.0,444.5 575.0,442.4 575.9,440.3 576.9,438.3 577.9,436.2 578.9,434.2 579.8,432.1" fill="none" stroke="#000" stroke-width="2.4" stroke-linejoin="round" stroke-linecap="round"/>
<polyline points="543.9,449.1 544.0,446.7 544.1,444.3 544.3,441.9 544.4,439.5 544.5,437.1 544.6,434.7 544.7,432.3 544.9,429.9 545.0,427.5 545.1,425.1 545.2,422.7 545.3,420.3 545.5,417.9" fill="none" stroke="#000" stroke-width="2.4" stroke-linejoin="round" stroke-linecap="round"/>
<polyline points="529.0,416.0 530.6,416.2 532.3,416.4 533.9,416.6 535.6,416.8 537.2,417.0 538.9,417.2 540.5,417.4 542.2,417.5 543.8,417.7 545.5,417.9 547.4,418.0 549.3,418.1 551.2,418.2 553.2,418.2 555.1,418.3 557.0,418.4" fill="none" stroke="#000" stroke-width="2.4" stroke-linejoin="round" stroke-linecap="round"/>
<polyline points="552.2,479.7 554.0,478.6 555.8,477.4 557.6,476.3 559.4,475.1 560.8,472.8 562.2,470.4 563.5,468.6 564.9,466.8 564.1,464.0 563.3,461.2 562.5,458.3" fill="none" stroke="#000" stroke-width="2.4" stroke-linejoin="round" stroke-linecap="round"/>
<polyline points="564.8,468.6 566.7,469.2 568.6,469.7 570.4,470.3 572.3,470.8 574.2,471.3 576.0,471.8 578.1,471.1 580.1,470.3 582.1,469.5 583.3,467.5 584.4,465.4 585.6,463.4 587.0,461.4 588.4,459.4 589.9,457.4 591.5,455.4 593.2,453.3 594.9,451.3 596.6,450.5 598.3,449.8 599.9,449.0 601.6,448.3 603.3,447.5" fill="none" stroke="#000" stroke-width="2.4" stroke-linejoin="round" stroke-linecap="round"/>
<polyline points="580.4,442.7 580.4,440.2 580.5,437.7 580.5,435.2 580.5,432.7 580.5,430.2 580.5,427.7 580.6,425.3 580.6,422.8 580.6,420.3 580.6,417.8 580.6,415.3" fill="none" stroke="#000" stroke-width="2.4" stroke-linejoin="round" stroke-linecap="round"/>
<polyline points="589.0,449.0 590.7,448.1 592.3,447.3 594.0,446.5 595.7,445.7 597.4,444.8 599.0,444.0 601.1,445.7 603.3,447.5 605.0,449.0 606.7,450.4 608.4,451.9 610.1,453.3 611.3,455.2 612.5,457.1 613.8,458.9 615.0,460.8 616.3,462.7" fill="none" stroke="#000" stroke-width="2.4" stroke-linejoin="round" stroke-linecap="round"/>
<polyline points="580.4,442.7 582.1,442.7 583.9,442.7 585.6,442.7 587.3,442.7 589.0,442.7 590.7,442.7 592.5,442.7 594.2,442.6 595.9,442.6 597.6,442.6 599.3,442.5 601.0,442.5 602.7,442.4 604.4,442.4 606.1,442.3 607.9,442.3 609.6,442.2 611.3,442.2 613.0,442.1 614.7,442.0 616.4,441.9 618.1,441.9 619.8,441.8 619.9,444.3 619.9,446.9 620.0,449.4 620.1,452.0 620.2,454.5 620.3,457.1 622.4,457.0 624.5,456.8 626.6,456.7" fill="none" stroke="#000" stroke-width="2.4" stroke-linejoin="round" stroke-linecap="round"/>
<polyline points="586.8,415.3 588.5,415.3 590.1,415.2 591.7,415.2 593.3,415.2 594.9,415.2 596.6,415.1 598.2,415.1 599.8,415.1 601.4,415.0 603.0,415.0 604.7,414.9 606.3,414.9 607.9,414.8 609.5,414.7 611.1,414.7 612.7,414.6 614.3,414.5 616.0,414.4 617.6,414.3 619.2,414.3 620.8,414.2 622.4,414.1 623.8,416.0 625.2,417.8 626.5,419.7 627.9,421.6 627.0,423.9 626.0,426.1 625.0,428.4 626.2,431.0 627.4,433.5 628.6,436.1 627.0,437.5 625.4,439.0 623.8,440.4 622.3,441.9" fill="none" stroke="#000" stroke-width="2.4" stroke-linejoin="round" stroke-linecap="round"/>
<polyline points="627.9,421.6 629.9,422.9 631.8,424.1 633.8,425.4" fill="none" stroke="#000" stroke-width="2.4" stroke-linejoin="round" stroke-linecap="round"/>
<polyline points="636.2,425.2 636.4,422.6 636.6,420.1 636.8,417.5 636.9,415.0 637.1,412.4 637.6,409.5 638.1,406.7 638.6,403.8 638.3,401.3 638.1,398.9 637.8,396.4 637.5,393.9 637.3,391.5 637.0,389.0 636.8,386.6 636.5,384.1 636.2,381.6 636.0,379.2 635.7,376.7" fill="none" stroke="#000" stroke-width="2.4" stroke-linejoin="round" stroke-linecap="round"/>
<polyline points="637.1,412.4 638.8,412.3 640.5,412.3 642.2,412.2 643.9,412.1 645.6,412.0 647.3,411.9 648.9,411.8 650.6,411.7 650.7,414.6 650.8,417.4 650.8,420.2" fill="none" stroke="#000" stroke-width="2.4" stroke-linejoin="round" stroke-linecap="round"/>
<polyline points="650.6,411.7 653.8,411.4 655.2,414.3 656.6,417.2" fill="none" stroke="#000" stroke-width="2.4" stroke-linejoin="round" stroke-linecap="round"/>
<polyline points="638.6,403.8 640.3,403.7 642.0,403.6 643.7,403.5 645.4,403.4 647.1,403.3 648.8,403.2 650.5,403.1 652.2,403.0 653.9,402.8 655.8,401.6 657.6,400.3" fill="none" stroke="#000" stroke-width="2.4" stroke-linejoin="round" stroke-linecap="round"/>
<polyline points="644.1,403.5 644.3,400.4 644.4,397.2 644.6,394.1 645.2,391.6 645.8,389.1 646.4,386.6 647.0,384.1 647.8,381.9 648.6,379.7 649.3,377.4 650.1,375.2" fill="none" stroke="#000" stroke-width="2.4" stroke-linejoin="round" stroke-linecap="round"/>
<polyline points="658.2,397.5 657.4,394.8 656.6,392.2 655.7,389.5 654.9,386.8 654.6,384.2 654.3,381.6 654.0,379.0 653.6,376.4 653.3,373.8 653.0,371.2" fill="none" stroke="#000" stroke-width="2.4" stroke-linejoin="round" stroke-linecap="round"/>
</g>
<rect x="541.5" y="478.5" width="54" height="46" fill="none" stroke="#e83030" stroke-width="2"/>
<circle cx="569" cy="503.5" r="9" fill="#ef8f3c"/>
<rect x="128.5" y="198.5" width="597" height="449" fill="none" stroke="#707070" stroke-width="4.5"/>
<text x="265.8" y="777.8" font-family="'Liberation Serif', 'Times New Roman', serif" font-size="54.0" font-weight="bold" text-anchor="start" fill="#000" textLength="366.0" lengthAdjust="spacingAndGlyphs">(b) South Carolina</text>
<text x="33.8" y="923.4" font-family="'Liberation Serif', 'Times New Roman', serif" font-size="42.0" font-weight="bold" text-anchor="start" fill="#000" textLength="83.5" lengthAdjust="spacingAndGlyphs">35°N</text>
<text x="33.8" y="1066.6" font-family="'Liberation Serif', 'Times New Roman', serif" font-size="42.0" font-weight="bold" text-anchor="start" fill="#000" textLength="83.5" lengthAdjust="spacingAndGlyphs">34°N</text>
<text x="33.8" y="1209.5" font-family="'Liberation Serif', 'Times New Roman', serif" font-size="42.0" font-weight="bold" text-anchor="start" fill="#000" textLength="83.5" lengthAdjust="spacingAndGlyphs">33°N</text>
<text x="33.8" y="1352.5" font-family="'Liberation Serif', 'Times New Roman', serif" font-size="42.0" font-weight="bold" text-anchor="start" fill="#000" textLength="83.5" lengthAdjust="spacingAndGlyphs">32°N</text>
<text x="128.8" y="1432.0" font-family="'Liberation Serif', 'Times New Roman', serif" font-size="42.0" font-weight="bold" text-anchor="start" fill="#000" textLength="94.5" lengthAdjust="spacingAndGlyphs">83°W</text>
<text x="240.4" y="1432.0" font-family="'Liberation Serif', 'Times New Roman', serif" font-size="42.0" font-weight="bold" text-anchor="start" fill="#000" textLength="95.5" lengthAdjust="spacingAndGlyphs">82°W</text>
<text x="354.2" y="1432.0" font-family="'Liberation Serif', 'Times New Roman', serif" font-size="42.0" font-weight="bold" text-anchor="start" fill="#000" textLength="94.4" lengthAdjust="spacingAndGlyphs">81°W</text>
<text x="465.9" y="1432.0" font-family="'Liberation Serif', 'Times New Roman', serif" font-size="42.0" font-weight="bold" text-anchor="start" fill="#000" textLength="95.4" lengthAdjust="spacingAndGlyphs">80°W</text>
<text x="580.0" y="1432.0" font-family="'Liberation Serif', 'Times New Roman', serif" font-size="42.0" font-weight="bold" text-anchor="start" fill="#000" textLength="94.0" lengthAdjust="spacingAndGlyphs">79°W</text>
<clipPath id="scclip"><rect x="130" y="814" width="594" height="579"/></clipPath>
<g clip-path="url(#scclip)">
<polyline points="188.0,812.0 183.6,1104.0 178.1,1395.0" fill="none" stroke="#000" stroke-width="2.6" stroke-linejoin="round" stroke-linecap="round"/>
<polyline points="296.4,812.0 293.5,1104.0 290.6,1395.0" fill="none" stroke="#000" stroke-width="2.6" stroke-linejoin="round" stroke-linecap="round"/>
<polyline points="403.6,812.0 403.4,1104.0 403.3,1395.0" fill="none" stroke="#000" stroke-width="2.6" stroke-linejoin="round" stroke-linecap="round"/>
<polyline points="511.0,812.0 513.0,1050.0 516.2,1395.0" fill="none" stroke="#000" stroke-width="2.6" stroke-linejoin="round" stroke-linecap="round"/>
<polyline points="618.4,812.0 621.0,1000.0 624.2,1100.0 628.7,1395.0" fill="none" stroke="#000" stroke-width="2.6" stroke-linejoin="round" stroke-linecap="round"/>
<polyline points="128.0,910.2 295.4,912.1 400.0,912.4 618.7,911.1 726.0,908.0" fill="none" stroke="#000" stroke-width="2.6" stroke-linejoin="round" stroke-linecap="round"/>
<polyline points="128.0,1052.7 293.5,1054.6 400.0,1055.0 512.0,1055.0 618.7,1053.2 726.0,1050.6" fill="none" stroke="#000" stroke-width="2.6" stroke-linejoin="round" stroke-linecap="round"/>
<polyline points="128.0,1195.8 402.5,1198.4 726.0,1192.6" fill="none" stroke="#000" stroke-width="2.6" stroke-linejoin="round" stroke-linecap="round"/>
<polyline points="128.0,1339.4 402.5,1340.7 726.0,1336.8" fill="none" stroke="#000" stroke-width="2.6" stroke-linejoin="round" stroke-linecap="round"/>
<polyline points="128.0,831.5 130.9,830.0 141.3,821.5 148.8,816.8 156.3,814.9" fill="none" stroke="#000" stroke-width="1.8" stroke-linejoin="round" stroke-linecap="round"/>
<polyline points="184.5,908.9 192.0,905.2 216.5,897.6 220.2,893.9 242.8,886.4 249.4,882.6 261.6,883.6 295.4,884.5 336.8,887.3 398.8,890.1 397.9,906.1 401.6,904.2 404.4,899.5 408.7,897.5 417.5,904.5 426.2,920.2 426.2,938.6 548.7,939.5 618.7,1016.5 652.0,1050.6 671.2,1072.5" fill="none" stroke="#000" stroke-width="1.8" stroke-linejoin="round" stroke-linecap="round"/>
<polyline points="726.0,1063.7 694.0,1063.7 680.0,1069.0 671.2,1073.3 659.0,1077.7 645.0,1088.2 632.7,1102.2 622.1,1115.9 611.5,1129.1 606.2,1147.6 604.9,1166.1 600.9,1172.8 589.0,1180.7 586.4,1192.6 574.4,1193.9 565.2,1192.6 559.9,1199.2 561.2,1209.8 552.0,1216.4 545.3,1223.0 529.5,1233.6 525.5,1244.2 514.9,1252.1 503.0,1254.8 495.1,1258.7 479.2,1272.0 463.3,1272.0 462.0,1279.9 466.0,1287.8 460.7,1298.4 447.4,1302.4 436.8,1295.8 430.3,1297.1 431.6,1303.7 439.5,1310.3 435.5,1318.3 421.0,1326.2 417.0,1334.1 419.7,1340.7" fill="none" stroke="#000" stroke-width="1.8" stroke-linejoin="round" stroke-linecap="round"/>
<polyline points="184.5,908.9 175.1,911.7 172.3,921.1 167.6,926.8 152.6,938.1 148.8,945.6 147.9,953.1 152.6,960.6 167.6,968.1 173.2,975.7 180.8,984.1 186.4,985.4 198.6,985.1 201.4,990.7 205.2,1000.1 210.8,1013.2 213.6,1026.4 217.4,1035.8 224.0,1043.3 227.7,1052.7 231.5,1058.4 242.8,1065.9 246.5,1071.5 254.1,1077.2 259.7,1080.9 265.3,1088.4 268.9,1100.0 272.9,1107.9 288.7,1118.5 299.3,1129.1 300.6,1147.6 309.9,1155.6 311.2,1163.5 317.8,1168.8 320.5,1178.0 339.0,1187.3 346.9,1193.9 346.9,1205.8 354.9,1219.0 357.5,1237.6 358.8,1254.8 368.1,1260.1 378.7,1269.3 381.3,1282.5 386.6,1290.5 387.9,1306.3 390.6,1324.9 394.6,1327.5 405.1,1328.8 415.7,1334.1 419.7,1340.7 417.0,1346.0 402.5,1360.6 387.9,1380.4 386.6,1395.0" fill="none" stroke="#000" stroke-width="1.8" stroke-linejoin="round" stroke-linecap="round"/>
<polyline points="312.3,962.5 314.2,955.0 316.1,941.8 319.8,930.5 325.5,924.9 332.1,926.8 351.8,930.9 353.3,943.7 352.2,953.1 356.5,962.5 358.4,973.8 358.0,985.1 352.7,988.8 344.2,992.2 338.5,986.9 336.8,982.2" fill="none" stroke="#000" stroke-width="1.8" stroke-linejoin="round" stroke-linecap="round"/>
</g>
<circle cx="320.3" cy="967" r="10.5" fill="#e8893a" stroke="#b86a2a" stroke-width="1"/>
<circle cx="330.9" cy="969.3" r="10.5" fill="#ef9040" stroke="#b86a2a" stroke-width="1"/>
<polyline points="130.4,1392.7 130.4,814.2 724.4,814.2" fill="none" stroke="#555" stroke-width="4.5"/>
<polyline points="724.4,814.2 724.4,1392.7 130.4,1392.7" fill="none" stroke="#222" stroke-width="3"/>
<line x1="130.4" y1="814" x2="130.4" y2="1393" stroke="#111" stroke-width="2.6"/>
</svg></body></html>
